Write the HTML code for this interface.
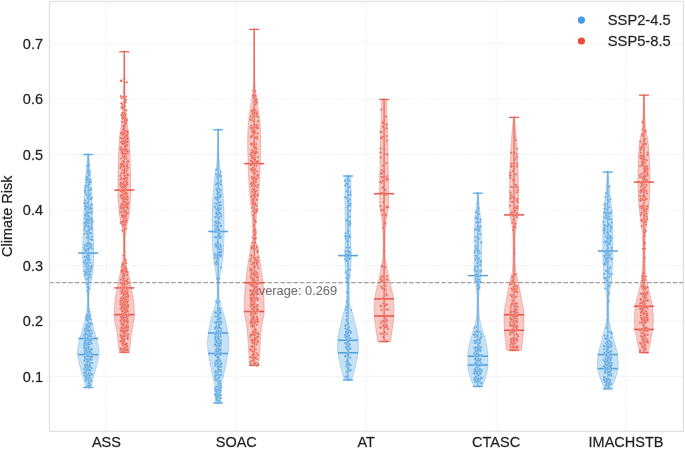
<!DOCTYPE html>
<html><head><meta charset="utf-8"><title>Climate Risk</title>
<style>html,body{margin:0;padding:0;background:#fff;} body{width:685px;height:449px;overflow:hidden;font-family:"Liberation Sans",sans-serif;} svg{display:block;will-change:transform;filter:blur(0.35px);}</style>
</head><body><svg width="685" height="449" viewBox="0 0 685 449" font-family="Liberation Sans, sans-serif"><g stroke="#e6e6e6" stroke-width="0.9" stroke-dasharray="1 1.45"><line x1="49.5" y1="376.50" x2="683.5" y2="376.50"/><line x1="49.5" y1="321.00" x2="683.5" y2="321.00"/><line x1="49.5" y1="265.50" x2="683.5" y2="265.50"/><line x1="49.5" y1="210.00" x2="683.5" y2="210.00"/><line x1="49.5" y1="154.50" x2="683.5" y2="154.50"/><line x1="49.5" y1="99.00" x2="683.5" y2="99.00"/><line x1="49.5" y1="43.50" x2="683.5" y2="43.50"/><line x1="106.40" y1="1.5" x2="106.40" y2="431.3"/><line x1="236.30" y1="1.5" x2="236.30" y2="431.3"/><line x1="366.20" y1="1.5" x2="366.20" y2="431.3"/><line x1="496.10" y1="1.5" x2="496.10" y2="431.3"/><line x1="626.00" y1="1.5" x2="626.00" y2="431.3"/></g><line x1="49.5" y1="282.6" x2="683.5" y2="282.6" stroke="#a0a0a0" stroke-width="1.3" stroke-dasharray="4.6 1.83" stroke-dashoffset="0.5"/><text x="250.5" y="294.5" font-size="12.8" fill="#737373" stroke="#737373" stroke-width="0.2" stroke-opacity="0.6">Average: 0.269</text><polygon points="88.70,154.50 88.84,155.97 88.99,157.43 89.13,158.90 89.27,160.36 89.41,161.83 89.54,163.29 89.68,164.76 89.81,166.22 89.95,167.69 90.09,169.15 90.23,170.62 90.36,172.08 90.49,173.55 90.62,175.02 90.74,176.48 90.86,177.95 90.96,179.41 91.06,180.88 91.15,182.34 91.23,183.81 91.31,185.27 91.39,186.74 91.47,188.20 91.54,189.67 91.61,191.14 91.68,192.60 91.75,194.07 91.81,195.53 91.87,197.00 91.94,198.46 92.00,199.93 92.06,201.39 92.11,202.86 92.17,204.32 92.22,205.79 92.27,207.25 92.32,208.72 92.37,210.19 92.41,211.65 92.46,213.12 92.51,214.58 92.56,216.05 92.61,217.51 92.66,218.98 92.72,220.44 92.77,221.91 92.83,223.37 92.89,224.84 92.95,226.31 93.01,227.77 93.08,229.24 93.14,230.70 93.20,232.17 93.26,233.63 93.32,235.10 93.37,236.56 93.43,238.03 93.48,239.49 93.53,240.96 93.59,242.42 93.65,243.89 93.71,245.36 93.77,246.82 93.82,248.29 93.86,249.75 93.89,251.22 93.90,252.68 93.89,254.15 93.87,255.61 93.82,257.08 93.76,258.54 93.69,260.01 93.61,261.47 93.53,262.94 93.44,264.41 93.34,265.87 93.21,267.34 93.05,268.80 92.87,270.27 92.67,271.73 92.46,273.20 92.25,274.66 92.02,276.13 91.76,277.59 91.48,279.06 91.18,280.53 90.89,281.99 90.61,283.46 90.31,284.92 89.99,286.39 89.70,287.85 89.48,289.32 89.33,290.78 89.20,292.25 89.08,293.71 88.97,295.18 88.89,296.64 88.83,298.11 88.80,299.58 88.81,301.04 88.85,302.51 88.92,303.97 89.02,305.44 89.13,306.90 89.26,308.37 89.39,309.83 89.54,311.30 89.74,312.76 89.97,314.23 90.24,315.69 90.53,317.16 90.83,318.63 91.19,320.09 91.59,321.56 92.03,323.02 92.47,324.49 92.90,325.95 93.32,327.42 93.73,328.88 94.15,330.35 94.56,331.81 94.98,333.28 95.38,334.75 95.76,336.21 96.12,337.68 96.48,339.14 96.86,340.61 97.25,342.07 97.64,343.54 98.01,345.00 98.34,346.47 98.62,347.93 98.84,349.40 98.97,350.86 99.00,352.33 98.94,353.80 98.80,355.26 98.60,356.73 98.34,358.19 98.04,359.66 97.70,361.12 97.34,362.59 96.97,364.05 96.60,365.52 96.24,366.98 95.89,368.45 95.52,369.92 95.10,371.38 94.66,372.85 94.20,374.31 93.73,375.78 93.27,377.24 92.83,378.71 92.42,380.17 92.04,381.64 91.68,383.10 91.34,384.57 91.01,386.03 90.70,387.50 85.70,387.50 85.39,386.03 85.06,384.57 84.72,383.10 84.36,381.64 83.98,380.17 83.57,378.71 83.13,377.24 82.67,375.78 82.20,374.31 81.74,372.85 81.30,371.38 80.88,369.92 80.51,368.45 80.16,366.98 79.80,365.52 79.43,364.05 79.06,362.59 78.70,361.12 78.36,359.66 78.06,358.19 77.80,356.73 77.60,355.26 77.46,353.80 77.40,352.33 77.43,350.86 77.56,349.40 77.78,347.93 78.06,346.47 78.39,345.00 78.76,343.54 79.15,342.07 79.54,340.61 79.92,339.14 80.28,337.68 80.64,336.21 81.02,334.75 81.42,333.28 81.84,331.81 82.25,330.35 82.67,328.88 83.08,327.42 83.50,325.95 83.93,324.49 84.37,323.02 84.81,321.56 85.21,320.09 85.57,318.63 85.87,317.16 86.16,315.69 86.43,314.23 86.66,312.76 86.86,311.30 87.01,309.83 87.14,308.37 87.27,306.90 87.38,305.44 87.48,303.97 87.55,302.51 87.59,301.04 87.60,299.58 87.57,298.11 87.51,296.64 87.43,295.18 87.32,293.71 87.20,292.25 87.07,290.78 86.92,289.32 86.70,287.85 86.41,286.39 86.09,284.92 85.79,283.46 85.51,281.99 85.22,280.53 84.92,279.06 84.64,277.59 84.38,276.13 84.15,274.66 83.94,273.20 83.73,271.73 83.53,270.27 83.35,268.80 83.19,267.34 83.06,265.87 82.96,264.41 82.87,262.94 82.79,261.47 82.71,260.01 82.64,258.54 82.58,257.08 82.53,255.61 82.51,254.15 82.50,252.68 82.51,251.22 82.54,249.75 82.58,248.29 82.63,246.82 82.69,245.36 82.75,243.89 82.81,242.42 82.87,240.96 82.92,239.49 82.97,238.03 83.03,236.56 83.08,235.10 83.14,233.63 83.20,232.17 83.26,230.70 83.32,229.24 83.39,227.77 83.45,226.31 83.51,224.84 83.57,223.37 83.63,221.91 83.68,220.44 83.74,218.98 83.79,217.51 83.84,216.05 83.89,214.58 83.94,213.12 83.99,211.65 84.03,210.19 84.08,208.72 84.13,207.25 84.18,205.79 84.23,204.32 84.29,202.86 84.34,201.39 84.40,199.93 84.46,198.46 84.53,197.00 84.59,195.53 84.65,194.07 84.72,192.60 84.79,191.14 84.86,189.67 84.93,188.20 85.01,186.74 85.09,185.27 85.17,183.81 85.25,182.34 85.34,180.88 85.44,179.41 85.54,177.95 85.66,176.48 85.78,175.02 85.91,173.55 86.04,172.08 86.17,170.62 86.31,169.15 86.45,167.69 86.59,166.22 86.72,164.76 86.86,163.29 86.99,161.83 87.13,160.36 87.27,158.90 87.41,157.43 87.56,155.97 87.70,154.50" fill="#469cde" fill-opacity="0.3" stroke="#469cde" stroke-opacity="0.55" stroke-width="0.6"/><polygon points="124.60,51.70 124.60,53.59 124.60,55.48 124.61,57.37 124.61,59.26 124.62,61.15 124.63,63.04 124.64,64.93 124.65,66.82 124.66,68.72 124.68,70.61 124.69,72.50 124.71,74.39 124.73,76.28 124.75,78.17 124.77,80.06 124.80,81.95 124.82,83.84 124.85,85.73 124.88,87.62 124.91,89.51 124.94,91.40 124.97,93.29 125.01,95.18 125.04,97.07 125.08,98.96 125.12,100.85 125.20,102.75 125.31,104.64 125.45,106.53 125.61,108.42 125.79,110.31 125.98,112.20 126.18,114.09 126.39,115.98 126.59,117.87 126.78,119.76 126.97,121.65 127.19,123.54 127.42,125.43 127.66,127.32 127.91,129.21 128.16,131.10 128.40,132.99 128.63,134.88 128.84,136.78 129.04,138.67 129.20,140.56 129.33,142.45 129.44,144.34 129.55,146.23 129.65,148.12 129.75,150.01 129.84,151.90 129.93,153.79 130.00,155.68 130.08,157.57 130.14,159.46 130.20,161.35 130.26,163.24 130.30,165.13 130.35,167.02 130.39,168.92 130.44,170.81 130.48,172.70 130.52,174.59 130.55,176.48 130.59,178.37 130.62,180.26 130.65,182.15 130.67,184.04 130.68,185.93 130.70,187.82 130.70,189.71 130.69,191.60 130.66,193.49 130.60,195.38 130.52,197.27 130.42,199.16 130.30,201.05 130.17,202.95 130.03,204.84 129.87,206.73 129.71,208.62 129.53,210.51 129.36,212.40 129.15,214.29 128.87,216.18 128.51,218.07 128.11,219.96 127.69,221.85 127.27,223.74 126.87,225.63 126.53,227.52 126.24,229.41 125.97,231.30 125.69,233.19 125.44,235.08 125.24,236.98 125.12,238.87 125.10,240.76 125.11,242.65 125.13,244.54 125.16,246.43 125.19,248.32 125.23,250.21 125.28,252.10 125.33,253.99 125.44,255.88 125.59,257.77 125.78,259.66 126.01,261.55 126.26,263.44 126.54,265.33 126.84,267.22 127.26,269.12 127.78,271.01 128.28,272.90 128.69,274.79 129.07,276.68 129.44,278.57 129.80,280.46 130.17,282.35 130.55,284.24 130.93,286.13 131.30,288.02 131.68,289.91 132.07,291.80 132.45,293.69 132.80,295.58 133.10,297.47 133.34,299.36 133.56,301.25 133.77,303.15 133.97,305.04 134.15,306.93 134.30,308.82 134.42,310.71 134.48,312.60 134.50,314.49 134.41,316.38 134.23,318.27 133.96,320.16 133.64,322.05 133.28,323.94 132.90,325.83 132.52,327.72 132.15,329.61 131.82,331.50 131.55,333.39 131.31,335.28 131.10,337.18 130.89,339.07 130.69,340.96 130.47,342.85 130.23,344.74 129.96,346.63 129.63,348.52 129.23,350.41 128.80,352.30 119.80,352.30 119.37,350.41 118.97,348.52 118.64,346.63 118.37,344.74 118.13,342.85 117.91,340.96 117.71,339.07 117.50,337.18 117.29,335.28 117.05,333.39 116.78,331.50 116.45,329.61 116.08,327.72 115.70,325.83 115.32,323.94 114.96,322.05 114.64,320.16 114.37,318.27 114.19,316.38 114.10,314.49 114.12,312.60 114.18,310.71 114.30,308.82 114.45,306.93 114.63,305.04 114.83,303.15 115.04,301.25 115.26,299.36 115.50,297.47 115.80,295.58 116.15,293.69 116.53,291.80 116.92,289.91 117.30,288.02 117.67,286.13 118.05,284.24 118.43,282.35 118.80,280.46 119.16,278.57 119.53,276.68 119.91,274.79 120.32,272.90 120.82,271.01 121.34,269.12 121.76,267.22 122.06,265.33 122.34,263.44 122.59,261.55 122.82,259.66 123.01,257.77 123.16,255.88 123.27,253.99 123.32,252.10 123.37,250.21 123.41,248.32 123.44,246.43 123.47,244.54 123.49,242.65 123.50,240.76 123.48,238.87 123.36,236.98 123.16,235.08 122.91,233.19 122.63,231.30 122.36,229.41 122.07,227.52 121.73,225.63 121.33,223.74 120.91,221.85 120.49,219.96 120.09,218.07 119.73,216.18 119.45,214.29 119.24,212.40 119.07,210.51 118.89,208.62 118.73,206.73 118.57,204.84 118.43,202.95 118.30,201.05 118.18,199.16 118.08,197.27 118.00,195.38 117.94,193.49 117.91,191.60 117.90,189.71 117.90,187.82 117.92,185.93 117.93,184.04 117.95,182.15 117.98,180.26 118.01,178.37 118.05,176.48 118.08,174.59 118.12,172.70 118.16,170.81 118.21,168.92 118.25,167.02 118.30,165.13 118.34,163.24 118.40,161.35 118.46,159.46 118.52,157.57 118.60,155.68 118.67,153.79 118.76,151.90 118.85,150.01 118.95,148.12 119.05,146.23 119.16,144.34 119.27,142.45 119.40,140.56 119.56,138.67 119.76,136.78 119.97,134.88 120.20,132.99 120.44,131.10 120.69,129.21 120.94,127.32 121.18,125.43 121.41,123.54 121.63,121.65 121.82,119.76 122.01,117.87 122.21,115.98 122.42,114.09 122.62,112.20 122.81,110.31 122.99,108.42 123.15,106.53 123.29,104.64 123.40,102.75 123.48,100.85 123.52,98.96 123.56,97.07 123.59,95.18 123.63,93.29 123.66,91.40 123.69,89.51 123.72,87.62 123.75,85.73 123.78,83.84 123.80,81.95 123.83,80.06 123.85,78.17 123.87,76.28 123.89,74.39 123.91,72.50 123.92,70.61 123.94,68.72 123.95,66.82 123.96,64.93 123.97,63.04 123.98,61.15 123.99,59.26 123.99,57.37 124.00,55.48 124.00,53.59 124.00,51.70" fill="#e74c3c" fill-opacity="0.3" stroke="#e74c3c" stroke-opacity="0.55" stroke-width="0.6"/><polygon points="218.40,129.80 218.40,131.52 218.41,133.24 218.42,134.95 218.44,136.67 218.46,138.39 218.49,140.11 218.52,141.83 218.56,143.55 218.60,145.26 218.64,146.98 218.69,148.70 218.74,150.42 218.80,152.14 218.86,153.86 218.92,155.57 218.99,157.29 219.06,159.01 219.14,160.73 219.28,162.45 219.47,164.16 219.71,165.88 219.97,167.60 220.25,169.32 220.53,171.04 220.80,172.76 221.04,174.47 221.24,176.19 221.45,177.91 221.65,179.63 221.84,181.35 222.03,183.07 222.20,184.78 222.36,186.50 222.50,188.22 222.65,189.94 222.80,191.66 222.94,193.37 223.08,195.09 223.21,196.81 223.34,198.53 223.45,200.25 223.56,201.97 223.65,203.68 223.72,205.40 223.78,207.12 223.82,208.84 223.85,210.56 223.89,212.28 223.92,213.99 223.95,215.71 223.98,217.43 224.01,219.15 224.03,220.87 224.05,222.58 224.07,224.30 224.08,226.02 224.09,227.74 224.10,229.46 224.10,231.18 224.09,232.89 224.07,234.61 224.04,236.33 223.99,238.05 223.93,239.77 223.87,241.49 223.79,243.20 223.71,244.92 223.62,246.64 223.52,248.36 223.42,250.08 223.31,251.79 223.20,253.51 223.08,255.23 222.94,256.95 222.74,258.67 222.51,260.39 222.25,262.10 221.97,263.82 221.67,265.54 221.36,267.26 221.06,268.98 220.76,270.70 220.48,272.41 220.22,274.13 219.98,275.85 219.72,277.57 219.44,279.29 219.20,281.01 219.01,282.72 218.91,284.44 218.90,286.16 218.91,287.88 218.91,289.60 218.93,291.31 218.94,293.03 218.96,294.75 218.99,296.47 219.10,298.19 219.44,299.91 219.91,301.62 220.39,303.34 220.86,305.06 221.38,306.78 221.93,308.50 222.47,310.22 223.01,311.93 223.56,313.65 224.09,315.37 224.58,317.09 225.02,318.81 225.44,320.52 225.83,322.24 226.20,323.96 226.55,325.68 226.90,327.40 227.22,329.12 227.51,330.83 227.75,332.55 227.95,334.27 228.14,335.99 228.33,337.71 228.49,339.43 228.61,341.14 228.69,342.86 228.70,344.58 228.63,346.30 228.50,348.02 228.32,349.73 228.09,351.45 227.83,353.17 227.55,354.89 227.27,356.61 226.98,358.33 226.72,360.04 226.43,361.76 226.11,363.48 225.76,365.20 225.41,366.92 225.04,368.64 224.67,370.35 224.30,372.07 223.94,373.79 223.57,375.51 223.15,377.23 222.72,378.94 222.30,380.66 221.94,382.38 221.65,384.10 221.49,385.82 221.39,387.54 221.32,389.25 221.26,390.97 221.20,392.69 221.13,394.41 221.04,396.13 220.94,397.85 220.83,399.56 220.72,401.28 220.60,403.00 215.60,403.00 215.48,401.28 215.37,399.56 215.26,397.85 215.16,396.13 215.07,394.41 215.00,392.69 214.94,390.97 214.88,389.25 214.81,387.54 214.71,385.82 214.55,384.10 214.26,382.38 213.90,380.66 213.48,378.94 213.05,377.23 212.63,375.51 212.26,373.79 211.90,372.07 211.53,370.35 211.16,368.64 210.79,366.92 210.44,365.20 210.09,363.48 209.77,361.76 209.48,360.04 209.22,358.33 208.93,356.61 208.65,354.89 208.37,353.17 208.11,351.45 207.88,349.73 207.70,348.02 207.57,346.30 207.50,344.58 207.51,342.86 207.59,341.14 207.71,339.43 207.87,337.71 208.06,335.99 208.25,334.27 208.45,332.55 208.69,330.83 208.98,329.12 209.30,327.40 209.65,325.68 210.00,323.96 210.37,322.24 210.76,320.52 211.18,318.81 211.62,317.09 212.11,315.37 212.64,313.65 213.19,311.93 213.73,310.22 214.27,308.50 214.82,306.78 215.34,305.06 215.81,303.34 216.29,301.62 216.76,299.91 217.10,298.19 217.21,296.47 217.24,294.75 217.26,293.03 217.27,291.31 217.29,289.60 217.29,287.88 217.30,286.16 217.29,284.44 217.19,282.72 217.00,281.01 216.76,279.29 216.48,277.57 216.22,275.85 215.98,274.13 215.72,272.41 215.44,270.70 215.14,268.98 214.84,267.26 214.53,265.54 214.23,263.82 213.95,262.10 213.69,260.39 213.46,258.67 213.26,256.95 213.12,255.23 213.00,253.51 212.89,251.79 212.78,250.08 212.68,248.36 212.58,246.64 212.49,244.92 212.41,243.20 212.33,241.49 212.27,239.77 212.21,238.05 212.16,236.33 212.13,234.61 212.11,232.89 212.10,231.18 212.10,229.46 212.11,227.74 212.12,226.02 212.13,224.30 212.15,222.58 212.17,220.87 212.19,219.15 212.22,217.43 212.25,215.71 212.28,213.99 212.31,212.28 212.35,210.56 212.38,208.84 212.42,207.12 212.48,205.40 212.55,203.68 212.64,201.97 212.75,200.25 212.86,198.53 212.99,196.81 213.12,195.09 213.26,193.37 213.40,191.66 213.55,189.94 213.70,188.22 213.84,186.50 214.00,184.78 214.17,183.07 214.36,181.35 214.55,179.63 214.75,177.91 214.96,176.19 215.16,174.47 215.40,172.76 215.67,171.04 215.95,169.32 216.23,167.60 216.49,165.88 216.73,164.16 216.92,162.45 217.06,160.73 217.14,159.01 217.21,157.29 217.28,155.57 217.34,153.86 217.40,152.14 217.46,150.42 217.51,148.70 217.56,146.98 217.60,145.26 217.64,143.55 217.68,141.83 217.71,140.11 217.74,138.39 217.76,136.67 217.78,134.95 217.79,133.24 217.80,131.52 217.80,129.80" fill="#469cde" fill-opacity="0.3" stroke="#469cde" stroke-opacity="0.55" stroke-width="0.6"/><polygon points="254.50,29.40 254.50,31.51 254.50,33.63 254.50,35.74 254.51,37.86 254.51,39.97 254.51,42.08 254.52,44.20 254.53,46.31 254.54,48.42 254.54,50.54 254.55,52.65 254.56,54.77 254.58,56.88 254.59,58.99 254.61,61.11 254.62,63.22 254.64,65.34 254.66,67.45 254.68,69.56 254.70,71.68 254.72,73.79 254.75,75.90 254.77,78.02 254.80,80.13 254.87,82.25 255.00,84.36 255.16,86.47 255.33,88.59 255.53,90.70 255.77,92.82 256.04,94.93 256.32,97.04 256.62,99.16 256.93,101.27 257.25,103.38 257.56,105.50 257.87,107.61 258.16,109.73 258.47,111.84 258.80,113.95 259.15,116.07 259.47,118.18 259.75,120.29 259.96,122.41 260.09,124.52 260.22,126.64 260.34,128.75 260.44,130.86 260.53,132.98 260.60,135.09 260.66,137.21 260.69,139.32 260.70,141.43 260.69,143.55 260.67,145.66 260.64,147.77 260.59,149.89 260.55,152.00 260.49,154.12 260.43,156.23 260.37,158.34 260.31,160.46 260.24,162.57 260.18,164.69 260.11,166.80 260.04,168.91 259.97,171.03 259.89,173.14 259.80,175.25 259.71,177.37 259.61,179.48 259.50,181.60 259.39,183.71 259.27,185.82 259.14,187.94 258.98,190.05 258.80,192.17 258.60,194.28 258.39,196.39 258.16,198.51 257.93,200.62 257.71,202.73 257.49,204.85 257.29,206.96 257.10,209.08 256.90,211.19 256.68,213.30 256.46,215.42 256.24,217.53 256.05,219.65 255.89,221.76 255.77,223.87 255.71,225.99 255.70,228.10 255.70,230.21 255.70,232.33 255.70,234.44 255.70,236.56 255.70,238.67 255.73,240.78 256.02,242.90 256.55,245.01 257.18,247.13 257.79,249.24 258.27,251.35 258.66,253.47 259.03,255.58 259.39,257.69 259.74,259.81 260.07,261.92 260.39,264.04 260.69,266.15 260.98,268.26 261.25,270.38 261.52,272.49 261.79,274.61 262.06,276.72 262.32,278.83 262.57,280.95 262.81,283.06 263.04,285.17 263.24,287.29 263.42,289.40 263.57,291.52 263.68,293.63 263.78,295.74 263.87,297.86 263.95,299.97 264.03,302.08 264.10,304.20 264.15,306.31 264.18,308.43 264.20,310.54 264.14,312.65 263.89,314.77 263.52,316.88 263.06,319.00 262.58,321.11 262.11,323.22 261.72,325.34 261.45,327.45 261.25,329.56 261.06,331.68 260.88,333.79 260.72,335.91 260.58,338.02 260.43,340.13 260.30,342.25 260.17,344.36 260.04,346.48 259.90,348.59 259.76,350.70 259.61,352.82 259.46,354.93 259.31,357.04 259.16,359.16 259.00,361.27 258.85,363.39 258.70,365.50 249.70,365.50 249.55,363.39 249.40,361.27 249.24,359.16 249.09,357.04 248.94,354.93 248.79,352.82 248.64,350.70 248.50,348.59 248.36,346.48 248.23,344.36 248.10,342.25 247.97,340.13 247.82,338.02 247.68,335.91 247.52,333.79 247.34,331.68 247.15,329.56 246.95,327.45 246.68,325.34 246.29,323.22 245.82,321.11 245.34,319.00 244.88,316.88 244.51,314.77 244.26,312.65 244.20,310.54 244.22,308.43 244.25,306.31 244.30,304.20 244.37,302.08 244.45,299.97 244.53,297.86 244.62,295.74 244.72,293.63 244.83,291.52 244.98,289.40 245.16,287.29 245.36,285.17 245.59,283.06 245.83,280.95 246.08,278.83 246.34,276.72 246.61,274.61 246.88,272.49 247.15,270.38 247.42,268.26 247.71,266.15 248.01,264.04 248.33,261.92 248.66,259.81 249.01,257.69 249.37,255.58 249.74,253.47 250.13,251.35 250.61,249.24 251.22,247.13 251.85,245.01 252.38,242.90 252.67,240.78 252.70,238.67 252.70,236.56 252.70,234.44 252.70,232.33 252.70,230.21 252.70,228.10 252.69,225.99 252.63,223.87 252.51,221.76 252.35,219.65 252.16,217.53 251.94,215.42 251.72,213.30 251.50,211.19 251.30,209.08 251.11,206.96 250.91,204.85 250.69,202.73 250.47,200.62 250.24,198.51 250.01,196.39 249.80,194.28 249.60,192.17 249.42,190.05 249.26,187.94 249.13,185.82 249.01,183.71 248.90,181.60 248.79,179.48 248.69,177.37 248.60,175.25 248.51,173.14 248.43,171.03 248.36,168.91 248.29,166.80 248.22,164.69 248.16,162.57 248.09,160.46 248.03,158.34 247.97,156.23 247.91,154.12 247.85,152.00 247.81,149.89 247.76,147.77 247.73,145.66 247.71,143.55 247.70,141.43 247.71,139.32 247.74,137.21 247.80,135.09 247.87,132.98 247.96,130.86 248.06,128.75 248.18,126.64 248.31,124.52 248.44,122.41 248.65,120.29 248.93,118.18 249.25,116.07 249.60,113.95 249.93,111.84 250.24,109.73 250.53,107.61 250.84,105.50 251.15,103.38 251.47,101.27 251.78,99.16 252.08,97.04 252.36,94.93 252.63,92.82 252.87,90.70 253.07,88.59 253.24,86.47 253.40,84.36 253.53,82.25 253.60,80.13 253.63,78.02 253.65,75.90 253.68,73.79 253.70,71.68 253.72,69.56 253.74,67.45 253.76,65.34 253.78,63.22 253.79,61.11 253.81,58.99 253.82,56.88 253.84,54.77 253.85,52.65 253.86,50.54 253.86,48.42 253.87,46.31 253.88,44.20 253.89,42.08 253.89,39.97 253.89,37.86 253.90,35.74 253.90,33.63 253.90,31.51 253.90,29.40" fill="#e74c3c" fill-opacity="0.3" stroke="#e74c3c" stroke-opacity="0.55" stroke-width="0.6"/><polygon points="350.80,176.00 350.82,177.28 350.84,178.57 350.86,179.85 350.88,181.13 350.90,182.42 350.91,183.70 350.93,184.98 350.94,186.26 350.95,187.55 350.96,188.83 350.97,190.11 350.98,191.40 350.98,192.68 350.99,193.96 350.99,195.25 351.00,196.53 351.00,197.81 351.00,199.09 351.00,200.38 351.00,201.66 350.99,202.94 350.98,204.23 350.96,205.51 350.95,206.79 350.93,208.08 350.91,209.36 350.88,210.64 350.86,211.92 350.84,213.21 350.81,214.49 350.78,215.77 350.76,217.06 350.73,218.34 350.71,219.62 350.69,220.91 350.67,222.19 350.65,223.47 350.63,224.75 350.62,226.04 350.61,227.32 350.60,228.60 350.60,229.89 350.60,231.17 350.62,232.45 350.64,233.74 350.66,235.02 350.70,236.30 350.73,237.58 350.77,238.87 350.82,240.15 350.86,241.43 350.91,242.72 350.95,244.00 351.00,245.28 351.04,246.57 351.08,247.85 351.12,249.13 351.15,250.42 351.17,251.70 351.19,252.98 351.20,254.26 351.20,255.55 351.18,256.83 351.15,258.11 351.11,259.40 351.06,260.68 350.99,261.96 350.92,263.25 350.85,264.53 350.77,265.81 350.68,267.09 350.60,268.38 350.52,269.66 350.43,270.94 350.32,272.23 350.19,273.51 350.05,274.79 349.90,276.08 349.75,277.36 349.61,278.64 349.48,279.92 349.36,281.21 349.28,282.49 349.22,283.77 349.20,285.06 349.20,286.34 349.21,287.62 349.21,288.91 349.22,290.19 349.23,291.47 349.25,292.75 349.27,294.04 349.29,295.32 349.32,296.60 349.35,297.89 349.38,299.17 349.42,300.45 349.46,301.74 349.50,303.02 349.66,304.30 349.99,305.58 350.42,306.87 350.89,308.15 351.33,309.43 351.70,310.72 352.04,312.00 352.39,313.28 352.73,314.57 353.07,315.85 353.41,317.13 353.74,318.42 354.06,319.70 354.39,320.98 354.70,322.26 355.01,323.55 355.33,324.83 355.67,326.11 356.02,327.40 356.37,328.68 356.71,329.96 357.03,331.25 357.32,332.53 357.58,333.81 357.79,335.09 357.95,336.38 358.05,337.66 358.14,338.94 358.22,340.23 358.30,341.51 358.37,342.79 358.42,344.08 358.46,345.36 358.49,346.64 358.50,347.92 358.47,349.21 358.40,350.49 358.27,351.77 358.10,353.06 357.90,354.34 357.67,355.62 357.42,356.91 357.16,358.19 356.88,359.47 356.60,360.75 356.32,362.04 356.06,363.32 355.79,364.60 355.51,365.89 355.21,367.17 354.90,368.45 354.57,369.74 354.23,371.02 353.87,372.30 353.51,373.58 353.13,374.87 352.75,376.15 352.37,377.43 351.94,378.72 351.50,380.00 344.50,380.00 344.06,378.72 343.63,377.43 343.25,376.15 342.87,374.87 342.49,373.58 342.13,372.30 341.77,371.02 341.43,369.74 341.10,368.45 340.79,367.17 340.49,365.89 340.21,364.60 339.94,363.32 339.68,362.04 339.40,360.75 339.12,359.47 338.84,358.19 338.58,356.91 338.33,355.62 338.10,354.34 337.90,353.06 337.73,351.77 337.60,350.49 337.53,349.21 337.50,347.92 337.51,346.64 337.54,345.36 337.58,344.08 337.63,342.79 337.70,341.51 337.78,340.23 337.86,338.94 337.95,337.66 338.05,336.38 338.21,335.09 338.42,333.81 338.68,332.53 338.97,331.25 339.29,329.96 339.63,328.68 339.98,327.40 340.33,326.11 340.67,324.83 340.99,323.55 341.30,322.26 341.61,320.98 341.94,319.70 342.26,318.42 342.59,317.13 342.93,315.85 343.27,314.57 343.61,313.28 343.96,312.00 344.30,310.72 344.67,309.43 345.11,308.15 345.58,306.87 346.01,305.58 346.34,304.30 346.50,303.02 346.54,301.74 346.58,300.45 346.62,299.17 346.65,297.89 346.68,296.60 346.71,295.32 346.73,294.04 346.75,292.75 346.77,291.47 346.78,290.19 346.79,288.91 346.79,287.62 346.80,286.34 346.80,285.06 346.78,283.77 346.72,282.49 346.64,281.21 346.52,279.92 346.39,278.64 346.25,277.36 346.10,276.08 345.95,274.79 345.81,273.51 345.68,272.23 345.57,270.94 345.48,269.66 345.40,268.38 345.32,267.09 345.23,265.81 345.15,264.53 345.08,263.25 345.01,261.96 344.94,260.68 344.89,259.40 344.85,258.11 344.82,256.83 344.80,255.55 344.80,254.26 344.81,252.98 344.83,251.70 344.85,250.42 344.88,249.13 344.92,247.85 344.96,246.57 345.00,245.28 345.05,244.00 345.09,242.72 345.14,241.43 345.18,240.15 345.23,238.87 345.27,237.58 345.30,236.30 345.34,235.02 345.36,233.74 345.38,232.45 345.40,231.17 345.40,229.89 345.40,228.60 345.39,227.32 345.38,226.04 345.37,224.75 345.35,223.47 345.33,222.19 345.31,220.91 345.29,219.62 345.27,218.34 345.24,217.06 345.22,215.77 345.19,214.49 345.16,213.21 345.14,211.92 345.12,210.64 345.09,209.36 345.07,208.08 345.05,206.79 345.04,205.51 345.02,204.23 345.01,202.94 345.00,201.66 345.00,200.38 345.00,199.09 345.00,197.81 345.00,196.53 345.01,195.25 345.01,193.96 345.02,192.68 345.02,191.40 345.03,190.11 345.04,188.83 345.05,187.55 345.06,186.26 345.07,184.98 345.09,183.70 345.10,182.42 345.12,181.13 345.14,179.85 345.16,178.57 345.18,177.28 345.20,176.00" fill="#469cde" fill-opacity="0.3" stroke="#469cde" stroke-opacity="0.55" stroke-width="0.6"/><polygon points="386.50,99.50 386.54,101.02 386.58,102.55 386.62,104.07 386.66,105.59 386.70,107.11 386.75,108.64 386.80,110.16 386.85,111.68 386.91,113.20 386.96,114.73 387.02,116.25 387.08,117.77 387.14,119.29 387.20,120.82 387.26,122.34 387.31,123.86 387.37,125.38 387.42,126.91 387.47,128.43 387.52,129.95 387.56,131.48 387.60,133.00 387.64,134.52 387.67,136.04 387.70,137.57 387.73,139.09 387.76,140.61 387.79,142.13 387.82,143.66 387.85,145.18 387.87,146.70 387.90,148.22 387.92,149.75 387.95,151.27 387.97,152.79 388.00,154.32 388.03,155.84 388.05,157.36 388.08,158.88 388.11,160.41 388.14,161.93 388.17,163.45 388.21,164.97 388.24,166.50 388.28,168.02 388.32,169.54 388.35,171.06 388.39,172.59 388.43,174.11 388.46,175.63 388.49,177.15 388.52,178.68 388.54,180.20 388.57,181.72 388.58,183.25 388.59,184.77 388.60,186.29 388.60,187.81 388.60,189.34 388.60,190.86 388.60,192.38 388.60,193.90 388.60,195.43 388.60,196.95 388.60,198.47 388.60,199.99 388.57,201.52 388.50,203.04 388.39,204.56 388.24,206.08 388.07,207.61 387.87,209.13 387.67,210.65 387.47,212.18 387.26,213.70 387.07,215.22 386.85,216.74 386.59,218.27 386.31,219.79 386.04,221.31 385.81,222.83 385.65,224.36 385.55,225.88 385.47,227.40 385.39,228.92 385.32,230.45 385.26,231.97 385.21,233.49 385.17,235.02 385.13,236.54 385.11,238.06 385.10,239.58 385.10,241.11 385.10,242.63 385.10,244.15 385.10,245.67 385.10,247.20 385.10,248.72 385.10,250.24 385.10,251.76 385.10,253.29 385.10,254.81 385.15,256.33 385.30,257.85 385.54,259.38 385.82,260.90 386.12,262.42 386.42,263.95 386.68,265.47 386.93,266.99 387.18,268.51 387.44,270.04 387.71,271.56 387.98,273.08 388.26,274.60 388.55,276.13 388.84,277.65 389.13,279.17 389.46,280.69 389.81,282.22 390.19,283.74 390.58,285.26 390.98,286.78 391.37,288.31 391.75,289.83 392.11,291.35 392.44,292.88 392.72,294.40 392.96,295.92 393.15,297.44 393.32,298.97 393.49,300.49 393.64,302.01 393.78,303.53 393.91,305.06 394.00,306.58 394.07,308.10 394.10,309.62 394.09,311.15 394.04,312.67 393.96,314.19 393.85,315.72 393.72,317.24 393.58,318.76 393.43,320.28 393.27,321.81 393.12,323.33 392.95,324.85 392.75,326.37 392.52,327.90 392.28,329.42 392.02,330.94 391.77,332.46 391.53,333.99 391.30,335.51 391.10,337.03 390.92,338.55 390.75,340.08 390.60,341.60 377.60,341.60 377.45,340.08 377.28,338.55 377.10,337.03 376.90,335.51 376.67,333.99 376.43,332.46 376.18,330.94 375.92,329.42 375.68,327.90 375.45,326.37 375.25,324.85 375.08,323.33 374.93,321.81 374.77,320.28 374.62,318.76 374.48,317.24 374.35,315.72 374.24,314.19 374.16,312.67 374.11,311.15 374.10,309.62 374.13,308.10 374.20,306.58 374.29,305.06 374.42,303.53 374.56,302.01 374.71,300.49 374.88,298.97 375.05,297.44 375.24,295.92 375.48,294.40 375.76,292.88 376.09,291.35 376.45,289.83 376.83,288.31 377.22,286.78 377.62,285.26 378.01,283.74 378.39,282.22 378.74,280.69 379.07,279.17 379.36,277.65 379.65,276.13 379.94,274.60 380.22,273.08 380.49,271.56 380.76,270.04 381.02,268.51 381.27,266.99 381.52,265.47 381.78,263.95 382.08,262.42 382.38,260.90 382.66,259.38 382.90,257.85 383.05,256.33 383.10,254.81 383.10,253.29 383.10,251.76 383.10,250.24 383.10,248.72 383.10,247.20 383.10,245.67 383.10,244.15 383.10,242.63 383.10,241.11 383.10,239.58 383.09,238.06 383.07,236.54 383.03,235.02 382.99,233.49 382.94,231.97 382.88,230.45 382.81,228.92 382.73,227.40 382.65,225.88 382.55,224.36 382.39,222.83 382.16,221.31 381.89,219.79 381.61,218.27 381.35,216.74 381.13,215.22 380.94,213.70 380.73,212.18 380.53,210.65 380.33,209.13 380.13,207.61 379.96,206.08 379.81,204.56 379.70,203.04 379.63,201.52 379.60,199.99 379.60,198.47 379.60,196.95 379.60,195.43 379.60,193.90 379.60,192.38 379.60,190.86 379.60,189.34 379.60,187.81 379.60,186.29 379.61,184.77 379.62,183.25 379.63,181.72 379.66,180.20 379.68,178.68 379.71,177.15 379.74,175.63 379.77,174.11 379.81,172.59 379.85,171.06 379.88,169.54 379.92,168.02 379.96,166.50 379.99,164.97 380.03,163.45 380.06,161.93 380.09,160.41 380.12,158.88 380.15,157.36 380.17,155.84 380.20,154.32 380.23,152.79 380.25,151.27 380.28,149.75 380.30,148.22 380.33,146.70 380.35,145.18 380.38,143.66 380.41,142.13 380.44,140.61 380.47,139.09 380.50,137.57 380.53,136.04 380.56,134.52 380.60,133.00 380.64,131.48 380.68,129.95 380.73,128.43 380.78,126.91 380.83,125.38 380.89,123.86 380.94,122.34 381.00,120.82 381.06,119.29 381.12,117.77 381.18,116.25 381.24,114.73 381.29,113.20 381.35,111.68 381.40,110.16 381.45,108.64 381.50,107.11 381.54,105.59 381.58,104.07 381.62,102.55 381.66,101.02 381.70,99.50" fill="#e74c3c" fill-opacity="0.3" stroke="#e74c3c" stroke-opacity="0.55" stroke-width="0.6"/><polygon points="478.40,193.20 478.45,194.42 478.51,195.63 478.57,196.85 478.63,198.06 478.71,199.28 478.78,200.49 478.86,201.71 478.95,202.92 479.04,204.14 479.13,205.35 479.24,206.57 479.36,207.78 479.50,209.00 479.65,210.21 479.81,211.43 479.96,212.64 480.12,213.86 480.26,215.07 480.40,216.29 480.52,217.50 480.62,218.72 480.70,219.93 480.76,221.15 480.82,222.36 480.88,223.58 480.94,224.79 481.00,226.01 481.05,227.22 481.10,228.44 481.15,229.65 481.20,230.87 481.25,232.08 481.29,233.30 481.33,234.51 481.36,235.73 481.39,236.94 481.42,238.16 481.45,239.37 481.47,240.59 481.48,241.80 481.49,243.02 481.50,244.23 481.50,245.45 481.50,246.66 481.50,247.88 481.50,249.09 481.50,250.31 481.50,251.52 481.50,252.74 481.50,253.95 481.50,255.17 481.50,256.38 481.50,257.60 481.50,258.82 481.50,260.03 481.50,261.25 481.50,262.46 481.50,263.68 481.50,264.89 481.49,266.11 481.47,267.32 481.44,268.54 481.40,269.75 481.34,270.97 481.27,272.18 481.20,273.40 481.12,274.61 481.03,275.83 480.94,277.04 480.84,278.26 480.74,279.47 480.63,280.69 480.46,281.90 480.25,283.12 480.01,284.33 479.77,285.55 479.53,286.76 479.33,287.98 479.17,289.19 479.07,290.41 479.00,291.62 478.93,292.84 478.86,294.05 478.81,295.27 478.76,296.48 478.73,297.70 478.71,298.91 478.70,300.13 478.70,301.34 478.71,302.56 478.73,303.77 478.75,304.99 478.77,306.20 478.80,307.42 478.84,308.63 478.88,309.85 478.92,311.06 478.97,312.28 479.03,313.49 479.09,314.71 479.17,315.92 479.33,317.14 479.54,318.35 479.78,319.57 480.04,320.78 480.30,322.00 480.57,323.22 480.87,324.43 481.19,325.65 481.52,326.86 481.87,328.08 482.22,329.29 482.56,330.51 482.90,331.72 483.26,332.94 483.64,334.15 484.03,335.37 484.42,336.58 484.81,337.80 485.18,339.01 485.53,340.23 485.85,341.44 486.14,342.66 486.38,343.87 486.59,345.09 486.80,346.30 487.01,347.52 487.22,348.73 487.40,349.95 487.57,351.16 487.70,352.38 487.81,353.59 487.88,354.81 487.90,356.02 487.90,357.24 487.90,358.45 487.90,359.67 487.90,360.88 487.90,362.10 487.90,363.31 487.90,364.53 487.90,365.74 487.87,366.96 487.75,368.17 487.57,369.39 487.32,370.60 487.03,371.82 486.71,373.03 486.38,374.25 486.04,375.46 485.72,376.68 485.35,377.89 484.95,379.11 484.52,380.32 484.05,381.54 483.55,382.75 483.02,383.97 482.47,385.18 481.90,386.40 473.90,386.40 473.33,385.18 472.78,383.97 472.25,382.75 471.75,381.54 471.28,380.32 470.85,379.11 470.45,377.89 470.08,376.68 469.76,375.46 469.42,374.25 469.09,373.03 468.77,371.82 468.48,370.60 468.23,369.39 468.05,368.17 467.93,366.96 467.90,365.74 467.90,364.53 467.90,363.31 467.90,362.10 467.90,360.88 467.90,359.67 467.90,358.45 467.90,357.24 467.90,356.02 467.92,354.81 467.99,353.59 468.10,352.38 468.23,351.16 468.40,349.95 468.58,348.73 468.79,347.52 469.00,346.30 469.21,345.09 469.42,343.87 469.66,342.66 469.95,341.44 470.27,340.23 470.62,339.01 470.99,337.80 471.38,336.58 471.77,335.37 472.16,334.15 472.54,332.94 472.90,331.72 473.24,330.51 473.58,329.29 473.93,328.08 474.28,326.86 474.61,325.65 474.93,324.43 475.23,323.22 475.50,322.00 475.76,320.78 476.02,319.57 476.26,318.35 476.47,317.14 476.63,315.92 476.71,314.71 476.77,313.49 476.83,312.28 476.88,311.06 476.92,309.85 476.96,308.63 477.00,307.42 477.03,306.20 477.05,304.99 477.07,303.77 477.09,302.56 477.10,301.34 477.10,300.13 477.09,298.91 477.07,297.70 477.04,296.48 476.99,295.27 476.94,294.05 476.87,292.84 476.80,291.62 476.73,290.41 476.63,289.19 476.47,287.98 476.27,286.76 476.03,285.55 475.79,284.33 475.55,283.12 475.34,281.90 475.17,280.69 475.06,279.47 474.96,278.26 474.86,277.04 474.77,275.83 474.68,274.61 474.60,273.40 474.53,272.18 474.46,270.97 474.40,269.75 474.36,268.54 474.33,267.32 474.31,266.11 474.30,264.89 474.30,263.68 474.30,262.46 474.30,261.25 474.30,260.03 474.30,258.82 474.30,257.60 474.30,256.38 474.30,255.17 474.30,253.95 474.30,252.74 474.30,251.52 474.30,250.31 474.30,249.09 474.30,247.88 474.30,246.66 474.30,245.45 474.30,244.23 474.31,243.02 474.32,241.80 474.33,240.59 474.35,239.37 474.38,238.16 474.41,236.94 474.44,235.73 474.47,234.51 474.51,233.30 474.55,232.08 474.60,230.87 474.65,229.65 474.70,228.44 474.75,227.22 474.80,226.01 474.86,224.79 474.92,223.58 474.98,222.36 475.04,221.15 475.10,219.93 475.18,218.72 475.28,217.50 475.40,216.29 475.54,215.07 475.68,213.86 475.84,212.64 475.99,211.43 476.15,210.21 476.30,209.00 476.44,207.78 476.56,206.57 476.67,205.35 476.76,204.14 476.85,202.92 476.94,201.71 477.02,200.49 477.09,199.28 477.17,198.06 477.23,196.85 477.29,195.63 477.35,194.42 477.40,193.20" fill="#469cde" fill-opacity="0.3" stroke="#469cde" stroke-opacity="0.55" stroke-width="0.6"/><polygon points="514.50,117.40 514.65,118.86 514.80,120.33 514.95,121.79 515.09,123.26 515.23,124.72 515.37,126.19 515.50,127.65 515.64,129.12 515.76,130.58 515.89,132.05 516.01,133.51 516.13,134.98 516.24,136.44 516.35,137.91 516.46,139.37 516.56,140.84 516.66,142.30 516.76,143.77 516.86,145.23 516.96,146.70 517.05,148.16 517.15,149.63 517.24,151.09 517.33,152.55 517.42,154.02 517.50,155.48 517.58,156.95 517.66,158.41 517.73,159.88 517.80,161.34 517.86,162.81 517.91,164.27 517.96,165.74 518.01,167.20 518.05,168.67 518.09,170.13 518.13,171.60 518.17,173.06 518.20,174.53 518.24,175.99 518.28,177.46 518.31,178.92 518.34,180.39 518.37,181.85 518.40,183.32 518.42,184.78 518.44,186.24 518.46,187.71 518.48,189.17 518.49,190.64 518.50,192.10 518.50,193.57 518.50,195.03 518.49,196.50 518.48,197.96 518.47,199.43 518.45,200.89 518.42,202.36 518.39,203.82 518.35,205.29 518.31,206.75 518.27,208.22 518.22,209.68 518.16,211.15 518.11,212.61 518.04,214.08 517.96,215.54 517.76,217.01 517.46,218.47 517.09,219.93 516.70,221.40 516.35,222.86 516.08,224.33 515.92,225.79 515.77,227.26 515.63,228.72 515.49,230.19 515.37,231.65 515.26,233.12 515.17,234.58 515.09,236.05 515.04,237.51 515.01,238.98 515.00,240.44 515.00,241.91 515.00,243.37 515.00,244.84 515.00,246.30 515.00,247.77 515.00,249.23 515.00,250.69 515.00,252.16 515.00,253.62 515.00,255.09 515.00,256.55 515.00,258.02 515.00,259.48 515.01,260.95 515.04,262.41 515.09,263.88 515.17,265.34 515.26,266.81 515.37,268.27 515.48,269.74 515.63,271.20 515.87,272.67 516.19,274.13 516.56,275.60 516.96,277.06 517.37,278.53 517.78,279.99 518.15,281.46 518.48,282.92 518.77,284.38 519.06,285.85 519.33,287.31 519.59,288.78 519.85,290.24 520.11,291.71 520.36,293.17 520.60,294.64 520.85,296.10 521.10,297.57 521.37,299.03 521.66,300.50 521.96,301.96 522.27,303.43 522.58,304.89 522.87,306.36 523.15,307.82 523.40,309.29 523.62,310.75 523.79,312.22 523.92,313.68 523.99,315.15 524.00,316.61 523.99,318.07 523.96,319.54 523.93,321.00 523.88,322.47 523.83,323.93 523.77,325.40 523.70,326.86 523.63,328.33 523.56,329.79 523.49,331.26 523.39,332.72 523.26,334.19 523.11,335.65 522.94,337.12 522.76,338.58 522.58,340.05 522.40,341.51 522.22,342.98 522.06,344.44 521.91,345.91 521.77,347.37 521.63,348.84 521.50,350.30 506.50,350.30 506.37,348.84 506.23,347.37 506.09,345.91 505.94,344.44 505.78,342.98 505.60,341.51 505.42,340.05 505.24,338.58 505.06,337.12 504.89,335.65 504.74,334.19 504.61,332.72 504.51,331.26 504.44,329.79 504.37,328.33 504.30,326.86 504.23,325.40 504.17,323.93 504.12,322.47 504.07,321.00 504.04,319.54 504.01,318.07 504.00,316.61 504.01,315.15 504.08,313.68 504.21,312.22 504.38,310.75 504.60,309.29 504.85,307.82 505.13,306.36 505.42,304.89 505.73,303.43 506.04,301.96 506.34,300.50 506.63,299.03 506.90,297.57 507.15,296.10 507.40,294.64 507.64,293.17 507.89,291.71 508.15,290.24 508.41,288.78 508.67,287.31 508.94,285.85 509.23,284.38 509.52,282.92 509.85,281.46 510.22,279.99 510.63,278.53 511.04,277.06 511.44,275.60 511.81,274.13 512.13,272.67 512.37,271.20 512.52,269.74 512.63,268.27 512.74,266.81 512.83,265.34 512.91,263.88 512.96,262.41 512.99,260.95 513.00,259.48 513.00,258.02 513.00,256.55 513.00,255.09 513.00,253.62 513.00,252.16 513.00,250.69 513.00,249.23 513.00,247.77 513.00,246.30 513.00,244.84 513.00,243.37 513.00,241.91 513.00,240.44 512.99,238.98 512.96,237.51 512.91,236.05 512.83,234.58 512.74,233.12 512.63,231.65 512.51,230.19 512.37,228.72 512.23,227.26 512.08,225.79 511.92,224.33 511.65,222.86 511.30,221.40 510.91,219.93 510.54,218.47 510.24,217.01 510.04,215.54 509.96,214.08 509.89,212.61 509.84,211.15 509.78,209.68 509.73,208.22 509.69,206.75 509.65,205.29 509.61,203.82 509.58,202.36 509.55,200.89 509.53,199.43 509.52,197.96 509.51,196.50 509.50,195.03 509.50,193.57 509.50,192.10 509.51,190.64 509.52,189.17 509.54,187.71 509.56,186.24 509.58,184.78 509.60,183.32 509.63,181.85 509.66,180.39 509.69,178.92 509.72,177.46 509.76,175.99 509.80,174.53 509.83,173.06 509.87,171.60 509.91,170.13 509.95,168.67 509.99,167.20 510.04,165.74 510.09,164.27 510.14,162.81 510.20,161.34 510.27,159.88 510.34,158.41 510.42,156.95 510.50,155.48 510.58,154.02 510.67,152.55 510.76,151.09 510.85,149.63 510.95,148.16 511.04,146.70 511.14,145.23 511.24,143.77 511.34,142.30 511.44,140.84 511.54,139.37 511.65,137.91 511.76,136.44 511.87,134.98 511.99,133.51 512.11,132.05 512.24,130.58 512.36,129.12 512.50,127.65 512.63,126.19 512.77,124.72 512.91,123.26 513.05,121.79 513.20,120.33 513.35,118.86 513.50,117.40" fill="#e74c3c" fill-opacity="0.3" stroke="#e74c3c" stroke-opacity="0.55" stroke-width="0.6"/><polygon points="608.30,172.10 608.38,173.46 608.46,174.83 608.55,176.19 608.65,177.55 608.74,178.91 608.84,180.28 608.95,181.64 609.05,183.00 609.16,184.37 609.28,185.73 609.39,187.09 609.51,188.45 609.63,189.82 609.75,191.18 609.88,192.54 610.01,193.91 610.13,195.27 610.26,196.63 610.40,197.99 610.56,199.36 610.73,200.72 610.91,202.08 611.09,203.45 611.26,204.81 611.43,206.17 611.58,207.54 611.71,208.90 611.82,210.26 611.91,211.62 612.01,212.99 612.10,214.35 612.19,215.71 612.28,217.08 612.37,218.44 612.44,219.80 612.52,221.16 612.59,222.53 612.64,223.89 612.70,225.25 612.74,226.62 612.77,227.98 612.79,229.34 612.80,230.70 612.80,232.07 612.80,233.43 612.80,234.79 612.80,236.16 612.80,237.52 612.80,238.88 612.80,240.24 612.80,241.61 612.80,242.97 612.80,244.33 612.80,245.70 612.80,247.06 612.80,248.42 612.80,249.78 612.80,251.15 612.79,252.51 612.78,253.87 612.75,255.24 612.72,256.60 612.68,257.96 612.63,259.33 612.57,260.69 612.51,262.05 612.45,263.41 612.38,264.78 612.31,266.14 612.24,267.50 612.17,268.87 612.09,270.23 612.02,271.59 611.95,272.95 611.87,274.32 611.79,275.68 611.71,277.04 611.61,278.41 611.51,279.77 611.39,281.13 611.27,282.49 611.13,283.86 610.97,285.22 610.73,286.58 610.41,287.95 610.06,289.31 609.72,290.67 609.44,292.03 609.26,293.40 609.12,294.76 608.99,296.12 608.89,297.49 608.82,298.85 608.80,300.21 608.80,301.57 608.80,302.94 608.80,304.30 608.80,305.66 608.80,307.03 608.80,308.39 608.80,309.75 608.80,311.12 608.80,312.48 608.80,313.84 608.80,315.20 608.80,316.57 608.80,317.93 608.87,319.29 609.06,320.66 609.34,322.02 609.67,323.38 610.01,324.74 610.32,326.11 610.62,327.47 610.94,328.83 611.27,330.20 611.61,331.56 611.96,332.92 612.32,334.28 612.68,335.65 613.03,337.01 613.39,338.37 613.73,339.74 614.08,341.10 614.46,342.46 614.85,343.82 615.24,345.19 615.63,346.55 616.01,347.91 616.37,349.28 616.69,350.64 616.98,352.00 617.21,353.36 617.40,354.73 617.57,356.09 617.75,357.45 617.91,358.82 618.05,360.18 618.16,361.54 618.25,362.91 618.29,364.27 618.29,365.63 618.20,366.99 618.04,368.36 617.80,369.72 617.51,371.08 617.16,372.45 616.77,373.81 616.36,375.17 615.92,376.53 615.48,377.90 615.04,379.26 614.59,380.62 614.09,381.99 613.52,383.35 612.89,384.71 612.23,386.07 611.52,387.44 610.80,388.80 604.80,388.80 604.08,387.44 603.37,386.07 602.71,384.71 602.08,383.35 601.51,381.99 601.01,380.62 600.56,379.26 600.12,377.90 599.68,376.53 599.24,375.17 598.83,373.81 598.44,372.45 598.09,371.08 597.80,369.72 597.56,368.36 597.40,366.99 597.31,365.63 597.31,364.27 597.35,362.91 597.44,361.54 597.55,360.18 597.69,358.82 597.85,357.45 598.03,356.09 598.20,354.73 598.39,353.36 598.62,352.00 598.91,350.64 599.23,349.28 599.59,347.91 599.97,346.55 600.36,345.19 600.75,343.82 601.14,342.46 601.52,341.10 601.87,339.74 602.21,338.37 602.57,337.01 602.92,335.65 603.28,334.28 603.64,332.92 603.99,331.56 604.33,330.20 604.66,328.83 604.98,327.47 605.28,326.11 605.59,324.74 605.93,323.38 606.26,322.02 606.54,320.66 606.73,319.29 606.80,317.93 606.80,316.57 606.80,315.20 606.80,313.84 606.80,312.48 606.80,311.12 606.80,309.75 606.80,308.39 606.80,307.03 606.80,305.66 606.80,304.30 606.80,302.94 606.80,301.57 606.80,300.21 606.78,298.85 606.71,297.49 606.61,296.12 606.48,294.76 606.34,293.40 606.16,292.03 605.88,290.67 605.54,289.31 605.19,287.95 604.87,286.58 604.63,285.22 604.47,283.86 604.33,282.49 604.21,281.13 604.09,279.77 603.99,278.41 603.89,277.04 603.81,275.68 603.73,274.32 603.65,272.95 603.58,271.59 603.51,270.23 603.43,268.87 603.36,267.50 603.29,266.14 603.22,264.78 603.15,263.41 603.09,262.05 603.03,260.69 602.97,259.33 602.92,257.96 602.88,256.60 602.85,255.24 602.82,253.87 602.81,252.51 602.80,251.15 602.80,249.78 602.80,248.42 602.80,247.06 602.80,245.70 602.80,244.33 602.80,242.97 602.80,241.61 602.80,240.24 602.80,238.88 602.80,237.52 602.80,236.16 602.80,234.79 602.80,233.43 602.80,232.07 602.80,230.70 602.81,229.34 602.83,227.98 602.86,226.62 602.90,225.25 602.96,223.89 603.01,222.53 603.08,221.16 603.16,219.80 603.23,218.44 603.32,217.08 603.41,215.71 603.50,214.35 603.59,212.99 603.69,211.62 603.78,210.26 603.89,208.90 604.02,207.54 604.17,206.17 604.34,204.81 604.51,203.45 604.69,202.08 604.87,200.72 605.04,199.36 605.20,197.99 605.34,196.63 605.47,195.27 605.59,193.91 605.72,192.54 605.85,191.18 605.97,189.82 606.09,188.45 606.21,187.09 606.32,185.73 606.44,184.37 606.55,183.00 606.65,181.64 606.76,180.28 606.86,178.91 606.95,177.55 607.05,176.19 607.14,174.83 607.22,173.46 607.30,172.10" fill="#469cde" fill-opacity="0.3" stroke="#469cde" stroke-opacity="0.55" stroke-width="0.6"/><polygon points="644.40,95.20 644.40,96.82 644.41,98.44 644.42,100.06 644.44,101.68 644.46,103.29 644.49,104.91 644.52,106.53 644.56,108.15 644.61,109.77 644.65,111.39 644.70,113.01 644.76,114.63 644.82,116.25 644.89,117.86 644.96,119.48 645.03,121.10 645.11,122.72 645.20,124.34 645.28,125.96 645.38,127.58 645.51,129.20 645.75,130.82 646.07,132.43 646.45,134.05 646.85,135.67 647.23,137.29 647.57,138.91 647.84,140.53 648.03,142.15 648.21,143.77 648.37,145.38 648.53,147.00 648.68,148.62 648.82,150.24 648.94,151.86 649.06,153.48 649.16,155.10 649.25,156.72 649.33,158.34 649.40,159.95 649.46,161.57 649.51,163.19 649.57,164.81 649.62,166.43 649.67,168.05 649.71,169.67 649.76,171.29 649.79,172.91 649.83,174.52 649.85,176.14 649.88,177.76 649.89,179.38 649.90,181.00 649.90,182.62 649.88,184.24 649.85,185.86 649.81,187.48 649.75,189.09 649.69,190.71 649.62,192.33 649.55,193.95 649.47,195.57 649.39,197.19 649.30,198.81 649.20,200.43 649.09,202.05 648.96,203.66 648.82,205.28 648.67,206.90 648.51,208.52 648.34,210.14 648.17,211.76 647.99,213.38 647.81,215.00 647.62,216.62 647.44,218.23 647.25,219.85 647.07,221.47 646.89,223.09 646.69,224.71 646.46,226.33 646.21,227.95 645.97,229.57 645.75,231.18 645.56,232.80 645.43,234.42 645.35,236.04 645.29,237.66 645.22,239.28 645.17,240.90 645.11,242.52 645.06,244.14 645.02,245.75 644.98,247.37 644.95,248.99 644.93,250.61 644.91,252.23 644.90,253.85 644.90,255.47 644.91,257.09 644.94,258.71 644.98,260.32 645.03,261.94 645.09,263.56 645.16,265.18 645.24,266.80 645.32,268.42 645.40,270.04 645.51,271.66 645.67,273.28 645.85,274.89 646.07,276.51 646.32,278.13 646.59,279.75 646.87,281.37 647.16,282.99 647.46,284.61 647.76,286.23 648.06,287.85 648.41,289.46 648.82,291.08 649.25,292.70 649.70,294.32 650.17,295.94 650.62,297.56 651.06,299.18 651.47,300.80 651.83,302.42 652.13,304.03 652.36,305.65 652.54,307.27 652.70,308.89 652.87,310.51 653.01,312.13 653.14,313.75 653.25,315.37 653.34,316.98 653.39,318.60 653.40,320.22 653.37,321.84 653.28,323.46 653.15,325.08 652.99,326.70 652.79,328.32 652.56,329.94 652.30,331.55 652.03,333.17 651.74,334.79 651.44,336.41 651.13,338.03 650.83,339.65 650.53,341.27 650.24,342.89 649.91,344.51 649.55,346.12 649.16,347.74 648.75,349.36 648.33,350.98 647.90,352.60 639.90,352.60 639.47,350.98 639.05,349.36 638.64,347.74 638.25,346.12 637.89,344.51 637.56,342.89 637.27,341.27 636.97,339.65 636.67,338.03 636.36,336.41 636.06,334.79 635.77,333.17 635.50,331.55 635.24,329.94 635.01,328.32 634.81,326.70 634.65,325.08 634.52,323.46 634.43,321.84 634.40,320.22 634.41,318.60 634.46,316.98 634.55,315.37 634.66,313.75 634.79,312.13 634.93,310.51 635.10,308.89 635.26,307.27 635.44,305.65 635.67,304.03 635.97,302.42 636.33,300.80 636.74,299.18 637.18,297.56 637.63,295.94 638.10,294.32 638.55,292.70 638.98,291.08 639.39,289.46 639.74,287.85 640.04,286.23 640.34,284.61 640.64,282.99 640.93,281.37 641.21,279.75 641.48,278.13 641.73,276.51 641.95,274.89 642.13,273.28 642.29,271.66 642.40,270.04 642.48,268.42 642.56,266.80 642.64,265.18 642.71,263.56 642.77,261.94 642.82,260.32 642.86,258.71 642.89,257.09 642.90,255.47 642.90,253.85 642.89,252.23 642.87,250.61 642.85,248.99 642.82,247.37 642.78,245.75 642.74,244.14 642.69,242.52 642.63,240.90 642.58,239.28 642.51,237.66 642.45,236.04 642.37,234.42 642.24,232.80 642.05,231.18 641.83,229.57 641.59,227.95 641.34,226.33 641.11,224.71 640.91,223.09 640.73,221.47 640.55,219.85 640.36,218.23 640.18,216.62 639.99,215.00 639.81,213.38 639.63,211.76 639.46,210.14 639.29,208.52 639.13,206.90 638.98,205.28 638.84,203.66 638.71,202.05 638.60,200.43 638.50,198.81 638.41,197.19 638.33,195.57 638.25,193.95 638.18,192.33 638.11,190.71 638.05,189.09 637.99,187.48 637.95,185.86 637.92,184.24 637.90,182.62 637.90,181.00 637.91,179.38 637.92,177.76 637.95,176.14 637.97,174.52 638.01,172.91 638.04,171.29 638.09,169.67 638.13,168.05 638.18,166.43 638.23,164.81 638.29,163.19 638.34,161.57 638.40,159.95 638.47,158.34 638.55,156.72 638.64,155.10 638.74,153.48 638.86,151.86 638.98,150.24 639.12,148.62 639.27,147.00 639.43,145.38 639.59,143.77 639.77,142.15 639.96,140.53 640.23,138.91 640.57,137.29 640.95,135.67 641.35,134.05 641.73,132.43 642.05,130.82 642.29,129.20 642.42,127.58 642.52,125.96 642.60,124.34 642.69,122.72 642.77,121.10 642.84,119.48 642.91,117.86 642.98,116.25 643.04,114.63 643.10,113.01 643.15,111.39 643.19,109.77 643.24,108.15 643.28,106.53 643.31,104.91 643.34,103.29 643.36,101.68 643.38,100.06 643.39,98.44 643.40,96.82 643.40,95.20" fill="#e74c3c" fill-opacity="0.3" stroke="#e74c3c" stroke-opacity="0.55" stroke-width="0.6"/><line x1="88.20" y1="154.50" x2="88.20" y2="387.50" stroke="#469cde" stroke-width="1.25" stroke-opacity="0.8"/><line x1="83.20" y1="154.50" x2="93.20" y2="154.50" stroke="#469cde" stroke-width="1.3" stroke-opacity="0.9"/><line x1="83.20" y1="387.50" x2="93.20" y2="387.50" stroke="#469cde" stroke-width="1.3" stroke-opacity="0.9"/><line x1="78.20" y1="253.10" x2="98.20" y2="253.10" stroke="#469cde" stroke-width="1.55" stroke-opacity="0.92"/><line x1="78.20" y1="338.50" x2="98.20" y2="338.50" stroke="#469cde" stroke-width="1.55" stroke-opacity="0.92"/><line x1="78.20" y1="354.60" x2="98.20" y2="354.60" stroke="#469cde" stroke-width="1.55" stroke-opacity="0.92"/><line x1="124.30" y1="51.70" x2="124.30" y2="352.30" stroke="#e74c3c" stroke-width="1.25" stroke-opacity="0.8"/><line x1="119.30" y1="51.70" x2="129.30" y2="51.70" stroke="#e74c3c" stroke-width="1.3" stroke-opacity="0.9"/><line x1="119.30" y1="352.30" x2="129.30" y2="352.30" stroke="#e74c3c" stroke-width="1.3" stroke-opacity="0.9"/><line x1="114.30" y1="190.10" x2="134.30" y2="190.10" stroke="#e74c3c" stroke-width="1.55" stroke-opacity="0.92"/><line x1="114.30" y1="287.90" x2="134.30" y2="287.90" stroke="#e74c3c" stroke-width="1.55" stroke-opacity="0.92"/><line x1="114.30" y1="314.60" x2="134.30" y2="314.60" stroke="#e74c3c" stroke-width="1.55" stroke-opacity="0.92"/><line x1="218.10" y1="129.80" x2="218.10" y2="403.00" stroke="#469cde" stroke-width="1.25" stroke-opacity="0.8"/><line x1="213.10" y1="129.80" x2="223.10" y2="129.80" stroke="#469cde" stroke-width="1.3" stroke-opacity="0.9"/><line x1="213.10" y1="403.00" x2="223.10" y2="403.00" stroke="#469cde" stroke-width="1.3" stroke-opacity="0.9"/><line x1="208.10" y1="231.50" x2="228.10" y2="231.50" stroke="#469cde" stroke-width="1.55" stroke-opacity="0.92"/><line x1="208.10" y1="333.00" x2="228.10" y2="333.00" stroke="#469cde" stroke-width="1.55" stroke-opacity="0.92"/><line x1="208.10" y1="353.50" x2="228.10" y2="353.50" stroke="#469cde" stroke-width="1.55" stroke-opacity="0.92"/><line x1="254.20" y1="29.40" x2="254.20" y2="365.50" stroke="#e74c3c" stroke-width="1.25" stroke-opacity="0.8"/><line x1="249.20" y1="29.40" x2="259.20" y2="29.40" stroke="#e74c3c" stroke-width="1.3" stroke-opacity="0.9"/><line x1="249.20" y1="365.50" x2="259.20" y2="365.50" stroke="#e74c3c" stroke-width="1.3" stroke-opacity="0.9"/><line x1="244.20" y1="163.60" x2="264.20" y2="163.60" stroke="#e74c3c" stroke-width="1.55" stroke-opacity="0.92"/><line x1="244.20" y1="282.70" x2="264.20" y2="282.70" stroke="#e74c3c" stroke-width="1.55" stroke-opacity="0.92"/><line x1="244.20" y1="311.50" x2="264.20" y2="311.50" stroke="#e74c3c" stroke-width="1.55" stroke-opacity="0.92"/><line x1="348.00" y1="176.00" x2="348.00" y2="380.00" stroke="#469cde" stroke-width="1.25" stroke-opacity="0.8"/><line x1="343.00" y1="176.00" x2="353.00" y2="176.00" stroke="#469cde" stroke-width="1.3" stroke-opacity="0.9"/><line x1="343.00" y1="380.00" x2="353.00" y2="380.00" stroke="#469cde" stroke-width="1.3" stroke-opacity="0.9"/><line x1="338.00" y1="255.60" x2="358.00" y2="255.60" stroke="#469cde" stroke-width="1.55" stroke-opacity="0.92"/><line x1="338.00" y1="340.30" x2="358.00" y2="340.30" stroke="#469cde" stroke-width="1.55" stroke-opacity="0.92"/><line x1="338.00" y1="352.80" x2="358.00" y2="352.80" stroke="#469cde" stroke-width="1.55" stroke-opacity="0.92"/><line x1="384.10" y1="99.50" x2="384.10" y2="341.60" stroke="#e74c3c" stroke-width="1.25" stroke-opacity="0.8"/><line x1="379.10" y1="99.50" x2="389.10" y2="99.50" stroke="#e74c3c" stroke-width="1.3" stroke-opacity="0.9"/><line x1="379.10" y1="341.60" x2="389.10" y2="341.60" stroke="#e74c3c" stroke-width="1.3" stroke-opacity="0.9"/><line x1="374.10" y1="193.70" x2="394.10" y2="193.70" stroke="#e74c3c" stroke-width="1.55" stroke-opacity="0.92"/><line x1="374.10" y1="298.90" x2="394.10" y2="298.90" stroke="#e74c3c" stroke-width="1.55" stroke-opacity="0.92"/><line x1="374.10" y1="316.00" x2="394.10" y2="316.00" stroke="#e74c3c" stroke-width="1.55" stroke-opacity="0.92"/><line x1="477.90" y1="193.20" x2="477.90" y2="386.40" stroke="#469cde" stroke-width="1.25" stroke-opacity="0.8"/><line x1="472.90" y1="193.20" x2="482.90" y2="193.20" stroke="#469cde" stroke-width="1.3" stroke-opacity="0.9"/><line x1="472.90" y1="386.40" x2="482.90" y2="386.40" stroke="#469cde" stroke-width="1.3" stroke-opacity="0.9"/><line x1="467.90" y1="275.60" x2="487.90" y2="275.60" stroke="#469cde" stroke-width="1.55" stroke-opacity="0.92"/><line x1="467.90" y1="356.20" x2="487.90" y2="356.20" stroke="#469cde" stroke-width="1.55" stroke-opacity="0.92"/><line x1="467.90" y1="365.00" x2="487.90" y2="365.00" stroke="#469cde" stroke-width="1.55" stroke-opacity="0.92"/><line x1="514.00" y1="117.40" x2="514.00" y2="350.30" stroke="#e74c3c" stroke-width="1.25" stroke-opacity="0.8"/><line x1="509.00" y1="117.40" x2="519.00" y2="117.40" stroke="#e74c3c" stroke-width="1.3" stroke-opacity="0.9"/><line x1="509.00" y1="350.30" x2="519.00" y2="350.30" stroke="#e74c3c" stroke-width="1.3" stroke-opacity="0.9"/><line x1="504.00" y1="214.90" x2="524.00" y2="214.90" stroke="#e74c3c" stroke-width="1.55" stroke-opacity="0.92"/><line x1="504.00" y1="314.80" x2="524.00" y2="314.80" stroke="#e74c3c" stroke-width="1.55" stroke-opacity="0.92"/><line x1="504.00" y1="330.30" x2="524.00" y2="330.30" stroke="#e74c3c" stroke-width="1.55" stroke-opacity="0.92"/><line x1="607.80" y1="172.10" x2="607.80" y2="388.80" stroke="#469cde" stroke-width="1.25" stroke-opacity="0.8"/><line x1="602.80" y1="172.10" x2="612.80" y2="172.10" stroke="#469cde" stroke-width="1.3" stroke-opacity="0.9"/><line x1="602.80" y1="388.80" x2="612.80" y2="388.80" stroke="#469cde" stroke-width="1.3" stroke-opacity="0.9"/><line x1="597.80" y1="251.00" x2="617.80" y2="251.00" stroke="#469cde" stroke-width="1.55" stroke-opacity="0.92"/><line x1="597.80" y1="354.60" x2="617.80" y2="354.60" stroke="#469cde" stroke-width="1.55" stroke-opacity="0.92"/><line x1="597.80" y1="368.60" x2="617.80" y2="368.60" stroke="#469cde" stroke-width="1.55" stroke-opacity="0.92"/><line x1="643.90" y1="95.20" x2="643.90" y2="352.60" stroke="#e74c3c" stroke-width="1.25" stroke-opacity="0.8"/><line x1="638.90" y1="95.20" x2="648.90" y2="95.20" stroke="#e74c3c" stroke-width="1.3" stroke-opacity="0.9"/><line x1="638.90" y1="352.60" x2="648.90" y2="352.60" stroke="#e74c3c" stroke-width="1.3" stroke-opacity="0.9"/><line x1="633.90" y1="182.10" x2="653.90" y2="182.10" stroke="#e74c3c" stroke-width="1.55" stroke-opacity="0.92"/><line x1="633.90" y1="306.20" x2="653.90" y2="306.20" stroke="#e74c3c" stroke-width="1.55" stroke-opacity="0.92"/><line x1="633.90" y1="329.40" x2="653.90" y2="329.40" stroke="#e74c3c" stroke-width="1.55" stroke-opacity="0.92"/><g fill="#469cde" fill-opacity="0.78" stroke="#fff" stroke-width="0.3" stroke-opacity="0.7"><circle cx="88.2" cy="154.5" r="1.2"/><circle cx="88.8" cy="387.5" r="1.2"/><circle cx="90.8" cy="354.0" r="1.2"/><circle cx="89.6" cy="228.6" r="1.2"/><circle cx="89.3" cy="243.1" r="1.2"/><circle cx="87.4" cy="364.4" r="1.2"/><circle cx="88.4" cy="166.1" r="1.2"/><circle cx="87.4" cy="358.6" r="1.2"/><circle cx="90.2" cy="356.1" r="1.2"/><circle cx="87.2" cy="274.5" r="1.2"/><circle cx="87.9" cy="243.6" r="1.2"/><circle cx="90.2" cy="239.0" r="1.2"/><circle cx="88.2" cy="234.5" r="1.2"/><circle cx="86.9" cy="269.4" r="1.2"/><circle cx="89.2" cy="288.2" r="1.2"/><circle cx="87.2" cy="327.0" r="1.2"/><circle cx="90.2" cy="385.8" r="1.2"/><circle cx="90.5" cy="355.7" r="1.2"/><circle cx="87.8" cy="337.6" r="1.2"/><circle cx="89.6" cy="383.6" r="1.2"/><circle cx="84.5" cy="226.6" r="1.2"/><circle cx="87.3" cy="214.6" r="1.2"/><circle cx="91.1" cy="336.4" r="1.2"/><circle cx="88.7" cy="183.6" r="1.2"/><circle cx="88.5" cy="180.7" r="1.2"/><circle cx="88.9" cy="315.6" r="1.2"/><circle cx="89.6" cy="274.1" r="1.2"/><circle cx="88.9" cy="370.0" r="1.2"/><circle cx="87.6" cy="338.5" r="1.2"/><circle cx="86.9" cy="315.1" r="1.2"/><circle cx="87.2" cy="283.5" r="1.2"/><circle cx="86.5" cy="233.1" r="1.2"/><circle cx="87.9" cy="170.4" r="1.2"/><circle cx="92.2" cy="221.7" r="1.2"/><circle cx="87.0" cy="345.7" r="1.2"/><circle cx="87.8" cy="223.5" r="1.2"/><circle cx="87.2" cy="255.3" r="1.2"/><circle cx="88.5" cy="164.8" r="1.2"/><circle cx="91.8" cy="359.5" r="1.2"/><circle cx="91.3" cy="213.2" r="1.2"/><circle cx="87.2" cy="237.0" r="1.2"/><circle cx="86.3" cy="365.2" r="1.2"/><circle cx="89.4" cy="311.8" r="1.2"/><circle cx="88.2" cy="361.4" r="1.2"/><circle cx="89.7" cy="339.8" r="1.2"/><circle cx="84.8" cy="350.7" r="1.2"/><circle cx="90.9" cy="197.6" r="1.2"/><circle cx="86.7" cy="324.4" r="1.2"/><circle cx="88.2" cy="309.0" r="1.2"/><circle cx="85.8" cy="364.1" r="1.2"/><circle cx="87.6" cy="253.9" r="1.2"/><circle cx="90.8" cy="334.4" r="1.2"/><circle cx="90.4" cy="188.5" r="1.2"/><circle cx="88.0" cy="258.5" r="1.2"/><circle cx="90.3" cy="247.2" r="1.2"/><circle cx="87.9" cy="212.2" r="1.2"/><circle cx="87.2" cy="358.1" r="1.2"/><circle cx="88.6" cy="257.1" r="1.2"/><circle cx="85.8" cy="380.9" r="1.2"/><circle cx="86.7" cy="333.2" r="1.2"/><circle cx="89.9" cy="335.3" r="1.2"/><circle cx="90.4" cy="339.6" r="1.2"/><circle cx="84.7" cy="344.0" r="1.2"/><circle cx="90.1" cy="212.4" r="1.2"/><circle cx="90.7" cy="268.4" r="1.2"/><circle cx="87.8" cy="231.5" r="1.2"/><circle cx="84.7" cy="261.2" r="1.2"/><circle cx="89.6" cy="199.0" r="1.2"/><circle cx="86.2" cy="378.4" r="1.2"/><circle cx="89.3" cy="226.5" r="1.2"/><circle cx="87.2" cy="343.5" r="1.2"/><circle cx="89.3" cy="243.1" r="1.2"/><circle cx="86.3" cy="364.5" r="1.2"/><circle cx="88.0" cy="342.4" r="1.2"/><circle cx="88.4" cy="207.8" r="1.2"/><circle cx="89.2" cy="361.1" r="1.2"/><circle cx="85.8" cy="374.2" r="1.2"/><circle cx="91.9" cy="368.2" r="1.2"/><circle cx="86.5" cy="330.0" r="1.2"/><circle cx="86.6" cy="211.1" r="1.2"/><circle cx="86.3" cy="221.7" r="1.2"/><circle cx="84.7" cy="371.5" r="1.2"/><circle cx="87.6" cy="326.8" r="1.2"/><circle cx="90.4" cy="219.1" r="1.2"/><circle cx="89.9" cy="365.7" r="1.2"/><circle cx="85.8" cy="340.0" r="1.2"/><circle cx="85.3" cy="330.0" r="1.2"/><circle cx="86.8" cy="256.5" r="1.2"/><circle cx="90.3" cy="262.8" r="1.2"/><circle cx="88.1" cy="231.5" r="1.2"/><circle cx="90.7" cy="181.5" r="1.2"/><circle cx="89.5" cy="364.7" r="1.2"/><circle cx="89.2" cy="274.5" r="1.2"/><circle cx="90.3" cy="325.8" r="1.2"/><circle cx="90.2" cy="247.0" r="1.2"/><circle cx="87.0" cy="351.6" r="1.2"/><circle cx="86.9" cy="176.7" r="1.2"/><circle cx="87.7" cy="255.8" r="1.2"/><circle cx="88.1" cy="178.7" r="1.2"/><circle cx="85.3" cy="205.7" r="1.2"/><circle cx="87.7" cy="378.2" r="1.2"/><circle cx="89.3" cy="341.9" r="1.2"/><circle cx="85.3" cy="266.1" r="1.2"/><circle cx="86.1" cy="319.5" r="1.2"/><circle cx="85.6" cy="364.3" r="1.2"/><circle cx="86.5" cy="250.9" r="1.2"/><circle cx="91.9" cy="333.2" r="1.2"/><circle cx="84.4" cy="344.8" r="1.2"/><circle cx="85.7" cy="252.9" r="1.2"/><circle cx="86.5" cy="317.6" r="1.2"/><circle cx="88.0" cy="353.0" r="1.2"/><circle cx="84.3" cy="368.9" r="1.2"/><circle cx="87.9" cy="212.4" r="1.2"/><circle cx="85.5" cy="372.3" r="1.2"/><circle cx="87.4" cy="166.1" r="1.2"/><circle cx="90.5" cy="351.8" r="1.2"/><circle cx="85.7" cy="357.5" r="1.2"/><circle cx="89.1" cy="209.1" r="1.2"/><circle cx="87.5" cy="264.3" r="1.2"/><circle cx="87.5" cy="358.0" r="1.2"/><circle cx="89.6" cy="171.8" r="1.2"/><circle cx="85.5" cy="338.4" r="1.2"/><circle cx="91.6" cy="355.7" r="1.2"/><circle cx="89.7" cy="314.4" r="1.2"/><circle cx="89.5" cy="349.1" r="1.2"/><circle cx="84.6" cy="228.9" r="1.2"/><circle cx="89.5" cy="223.0" r="1.2"/><circle cx="89.0" cy="254.2" r="1.2"/><circle cx="90.4" cy="218.9" r="1.2"/><circle cx="85.9" cy="251.2" r="1.2"/><circle cx="91.8" cy="374.7" r="1.2"/><circle cx="91.3" cy="330.6" r="1.2"/><circle cx="85.1" cy="250.2" r="1.2"/><circle cx="86.7" cy="237.7" r="1.2"/><circle cx="84.5" cy="375.4" r="1.2"/><circle cx="90.8" cy="269.3" r="1.2"/><circle cx="91.5" cy="381.3" r="1.2"/><circle cx="90.3" cy="315.9" r="1.2"/><circle cx="88.8" cy="318.5" r="1.2"/><circle cx="89.5" cy="367.2" r="1.2"/><circle cx="89.6" cy="350.8" r="1.2"/><circle cx="88.8" cy="331.8" r="1.2"/><circle cx="91.8" cy="265.8" r="1.2"/><circle cx="89.1" cy="364.9" r="1.2"/><circle cx="86.9" cy="262.9" r="1.2"/><circle cx="88.3" cy="370.8" r="1.2"/><circle cx="84.9" cy="191.3" r="1.2"/><circle cx="90.0" cy="266.4" r="1.2"/><circle cx="89.2" cy="317.8" r="1.2"/><circle cx="87.6" cy="375.2" r="1.2"/><circle cx="91.0" cy="233.8" r="1.2"/><circle cx="90.2" cy="357.0" r="1.2"/><circle cx="86.9" cy="344.0" r="1.2"/><circle cx="84.8" cy="348.2" r="1.2"/><circle cx="85.3" cy="338.6" r="1.2"/><circle cx="85.7" cy="379.2" r="1.2"/><circle cx="86.6" cy="248.9" r="1.2"/><circle cx="87.8" cy="260.5" r="1.2"/><circle cx="91.6" cy="224.0" r="1.2"/><circle cx="86.8" cy="185.8" r="1.2"/><circle cx="91.4" cy="226.1" r="1.2"/><circle cx="89.6" cy="369.7" r="1.2"/><circle cx="91.0" cy="360.6" r="1.2"/><circle cx="87.4" cy="203.1" r="1.2"/><circle cx="84.2" cy="335.2" r="1.2"/><circle cx="90.3" cy="277.4" r="1.2"/><circle cx="86.2" cy="333.9" r="1.2"/><circle cx="85.3" cy="342.1" r="1.2"/><circle cx="90.6" cy="244.2" r="1.2"/><circle cx="89.7" cy="377.1" r="1.2"/><circle cx="85.9" cy="274.0" r="1.2"/><circle cx="86.3" cy="338.4" r="1.2"/><circle cx="91.7" cy="339.3" r="1.2"/><circle cx="86.3" cy="219.9" r="1.2"/><circle cx="89.6" cy="189.2" r="1.2"/><circle cx="85.2" cy="262.9" r="1.2"/><circle cx="90.7" cy="352.9" r="1.2"/><circle cx="85.1" cy="358.0" r="1.2"/><circle cx="88.3" cy="349.5" r="1.2"/><circle cx="84.5" cy="203.3" r="1.2"/><circle cx="88.6" cy="369.4" r="1.2"/><circle cx="91.0" cy="356.6" r="1.2"/><circle cx="84.9" cy="364.9" r="1.2"/><circle cx="86.9" cy="319.3" r="1.2"/><circle cx="90.3" cy="369.8" r="1.2"/><circle cx="88.9" cy="184.5" r="1.2"/><circle cx="87.2" cy="178.7" r="1.2"/><circle cx="88.8" cy="174.6" r="1.2"/><circle cx="87.8" cy="234.1" r="1.2"/><circle cx="91.1" cy="233.3" r="1.2"/><circle cx="86.5" cy="220.7" r="1.2"/><circle cx="90.3" cy="329.5" r="1.2"/><circle cx="89.0" cy="181.9" r="1.2"/><circle cx="90.1" cy="333.2" r="1.2"/><circle cx="87.2" cy="215.9" r="1.2"/><circle cx="90.0" cy="344.2" r="1.2"/><circle cx="89.2" cy="175.0" r="1.2"/><circle cx="87.3" cy="245.0" r="1.2"/><circle cx="84.4" cy="373.1" r="1.2"/><circle cx="91.9" cy="323.7" r="1.2"/><circle cx="89.9" cy="357.6" r="1.2"/><circle cx="85.8" cy="342.0" r="1.2"/><circle cx="90.0" cy="336.1" r="1.2"/><circle cx="86.4" cy="221.5" r="1.2"/><circle cx="88.0" cy="330.8" r="1.2"/><circle cx="90.3" cy="182.1" r="1.2"/><circle cx="87.8" cy="356.6" r="1.2"/><circle cx="86.5" cy="376.8" r="1.2"/><circle cx="86.6" cy="362.1" r="1.2"/><circle cx="85.5" cy="185.8" r="1.2"/><circle cx="86.0" cy="249.9" r="1.2"/><circle cx="86.4" cy="246.3" r="1.2"/><circle cx="85.6" cy="203.2" r="1.2"/><circle cx="84.7" cy="338.2" r="1.2"/><circle cx="87.9" cy="356.2" r="1.2"/><circle cx="85.9" cy="245.5" r="1.2"/><circle cx="90.1" cy="363.1" r="1.2"/><circle cx="91.6" cy="356.1" r="1.2"/><circle cx="86.4" cy="207.2" r="1.2"/><circle cx="88.8" cy="353.1" r="1.2"/><circle cx="88.3" cy="365.5" r="1.2"/><circle cx="84.8" cy="222.8" r="1.2"/><circle cx="85.2" cy="330.6" r="1.2"/><circle cx="91.3" cy="339.7" r="1.2"/><circle cx="88.0" cy="335.9" r="1.2"/><circle cx="90.5" cy="198.9" r="1.2"/><circle cx="84.7" cy="342.3" r="1.2"/><circle cx="89.0" cy="338.9" r="1.2"/><circle cx="91.1" cy="358.9" r="1.2"/><circle cx="91.1" cy="356.8" r="1.2"/><circle cx="84.2" cy="247.9" r="1.2"/><circle cx="88.4" cy="348.7" r="1.2"/><circle cx="87.2" cy="363.7" r="1.2"/><circle cx="90.3" cy="366.8" r="1.2"/><circle cx="84.8" cy="214.9" r="1.2"/><circle cx="86.9" cy="177.3" r="1.2"/><circle cx="90.7" cy="341.1" r="1.2"/><circle cx="88.0" cy="226.5" r="1.2"/><circle cx="87.8" cy="328.9" r="1.2"/><circle cx="91.9" cy="374.1" r="1.2"/><circle cx="86.8" cy="257.1" r="1.2"/><circle cx="84.5" cy="234.1" r="1.2"/><circle cx="87.3" cy="271.9" r="1.2"/><circle cx="85.4" cy="341.9" r="1.2"/><circle cx="85.0" cy="200.2" r="1.2"/><circle cx="88.7" cy="257.3" r="1.2"/><circle cx="91.8" cy="208.3" r="1.2"/><circle cx="88.8" cy="342.5" r="1.2"/><circle cx="89.4" cy="359.6" r="1.2"/><circle cx="86.8" cy="256.6" r="1.2"/><circle cx="88.8" cy="255.7" r="1.2"/><circle cx="90.2" cy="324.0" r="1.2"/><circle cx="88.9" cy="226.5" r="1.2"/><circle cx="90.6" cy="233.1" r="1.2"/><circle cx="88.6" cy="248.4" r="1.2"/><circle cx="85.8" cy="272.1" r="1.2"/><circle cx="88.8" cy="194.9" r="1.2"/><circle cx="88.1" cy="351.8" r="1.2"/><circle cx="85.5" cy="331.5" r="1.2"/><circle cx="89.2" cy="243.0" r="1.2"/><circle cx="90.5" cy="193.8" r="1.2"/><circle cx="85.3" cy="352.8" r="1.2"/><circle cx="88.6" cy="207.7" r="1.2"/><circle cx="90.1" cy="208.2" r="1.2"/><circle cx="87.4" cy="207.6" r="1.2"/><circle cx="86.5" cy="194.8" r="1.2"/><circle cx="87.2" cy="368.5" r="1.2"/><circle cx="88.5" cy="237.3" r="1.2"/><circle cx="89.7" cy="244.2" r="1.2"/><circle cx="88.7" cy="359.8" r="1.2"/><circle cx="85.1" cy="337.3" r="1.2"/><circle cx="90.7" cy="220.6" r="1.2"/><circle cx="91.6" cy="267.3" r="1.2"/><circle cx="85.0" cy="365.6" r="1.2"/><circle cx="86.2" cy="256.4" r="1.2"/><circle cx="85.6" cy="347.6" r="1.2"/><circle cx="90.8" cy="199.1" r="1.2"/><circle cx="91.5" cy="349.3" r="1.2"/><circle cx="84.6" cy="354.1" r="1.2"/><circle cx="86.9" cy="359.1" r="1.2"/><circle cx="85.7" cy="343.8" r="1.2"/><circle cx="88.0" cy="255.6" r="1.2"/><circle cx="91.1" cy="189.9" r="1.2"/><circle cx="86.1" cy="317.5" r="1.2"/><circle cx="85.6" cy="352.2" r="1.2"/><circle cx="88.1" cy="221.4" r="1.2"/><circle cx="88.4" cy="236.7" r="1.2"/><circle cx="90.1" cy="323.2" r="1.2"/><circle cx="87.7" cy="351.3" r="1.2"/><circle cx="85.3" cy="367.2" r="1.2"/><circle cx="87.0" cy="206.4" r="1.2"/><circle cx="92.1" cy="220.0" r="1.2"/><circle cx="90.2" cy="356.4" r="1.2"/><circle cx="85.1" cy="340.4" r="1.2"/><circle cx="90.7" cy="348.6" r="1.2"/><circle cx="87.1" cy="386.2" r="1.2"/><circle cx="90.5" cy="373.2" r="1.2"/><circle cx="84.3" cy="360.9" r="1.2"/><circle cx="91.2" cy="354.2" r="1.2"/><circle cx="85.5" cy="259.9" r="1.2"/><circle cx="87.8" cy="340.0" r="1.2"/><circle cx="89.5" cy="220.0" r="1.2"/><circle cx="88.3" cy="352.4" r="1.2"/><circle cx="85.5" cy="352.2" r="1.2"/><circle cx="85.3" cy="348.7" r="1.2"/><circle cx="86.5" cy="269.4" r="1.2"/><circle cx="84.6" cy="256.9" r="1.2"/><circle cx="85.9" cy="264.4" r="1.2"/><circle cx="86.1" cy="179.8" r="1.2"/><circle cx="87.9" cy="361.1" r="1.2"/><circle cx="87.1" cy="324.7" r="1.2"/><circle cx="88.9" cy="258.5" r="1.2"/><circle cx="86.4" cy="325.9" r="1.2"/><circle cx="84.5" cy="348.7" r="1.2"/><circle cx="86.8" cy="257.4" r="1.2"/><circle cx="90.2" cy="359.6" r="1.2"/><circle cx="86.2" cy="370.3" r="1.2"/><circle cx="87.4" cy="258.5" r="1.2"/><circle cx="90.2" cy="209.3" r="1.2"/><circle cx="87.5" cy="352.5" r="1.2"/><circle cx="90.6" cy="384.9" r="1.2"/><circle cx="91.5" cy="211.7" r="1.2"/><circle cx="86.7" cy="347.8" r="1.2"/><circle cx="90.1" cy="359.0" r="1.2"/><circle cx="86.2" cy="370.4" r="1.2"/><circle cx="85.3" cy="205.8" r="1.2"/><circle cx="87.7" cy="197.7" r="1.2"/><circle cx="88.9" cy="383.3" r="1.2"/><circle cx="91.7" cy="204.2" r="1.2"/><circle cx="85.4" cy="218.3" r="1.2"/><circle cx="89.9" cy="330.8" r="1.2"/><circle cx="88.0" cy="269.7" r="1.2"/><circle cx="85.3" cy="351.5" r="1.2"/><circle cx="92.0" cy="221.3" r="1.2"/><circle cx="89.8" cy="369.6" r="1.2"/><circle cx="85.2" cy="227.0" r="1.2"/><circle cx="91.4" cy="353.4" r="1.2"/><circle cx="85.5" cy="191.0" r="1.2"/><circle cx="85.0" cy="275.9" r="1.2"/><circle cx="87.2" cy="179.6" r="1.2"/><circle cx="91.7" cy="245.5" r="1.2"/><circle cx="84.5" cy="245.2" r="1.2"/><circle cx="91.5" cy="348.5" r="1.2"/><circle cx="89.1" cy="271.5" r="1.2"/><circle cx="85.4" cy="187.7" r="1.2"/><circle cx="88.6" cy="385.7" r="1.2"/><circle cx="87.9" cy="366.2" r="1.2"/><circle cx="88.7" cy="369.9" r="1.2"/><circle cx="90.1" cy="232.9" r="1.2"/><circle cx="89.6" cy="259.7" r="1.2"/><circle cx="92.2" cy="229.0" r="1.2"/><circle cx="85.5" cy="206.2" r="1.2"/><circle cx="90.0" cy="179.7" r="1.2"/><circle cx="87.9" cy="287.1" r="1.2"/><circle cx="90.5" cy="205.8" r="1.2"/><circle cx="91.3" cy="218.2" r="1.2"/><circle cx="92.1" cy="362.9" r="1.2"/><circle cx="86.6" cy="278.9" r="1.2"/><circle cx="87.8" cy="219.8" r="1.2"/><circle cx="91.7" cy="343.3" r="1.2"/><circle cx="91.8" cy="236.6" r="1.2"/><circle cx="87.4" cy="320.5" r="1.2"/><circle cx="91.7" cy="239.9" r="1.2"/><circle cx="87.8" cy="316.2" r="1.2"/><circle cx="87.2" cy="338.4" r="1.2"/><circle cx="90.2" cy="323.2" r="1.2"/><circle cx="88.0" cy="260.0" r="1.2"/><circle cx="87.8" cy="355.5" r="1.2"/><circle cx="87.3" cy="364.4" r="1.2"/><circle cx="87.7" cy="218.9" r="1.2"/><circle cx="85.3" cy="209.0" r="1.2"/><circle cx="84.7" cy="203.3" r="1.2"/><circle cx="90.2" cy="381.1" r="1.2"/><circle cx="88.7" cy="373.6" r="1.2"/><circle cx="89.6" cy="229.7" r="1.2"/><circle cx="90.6" cy="378.8" r="1.2"/><circle cx="86.0" cy="225.0" r="1.2"/><circle cx="87.5" cy="290.9" r="1.2"/><circle cx="87.1" cy="283.7" r="1.2"/><circle cx="86.6" cy="369.7" r="1.2"/><circle cx="89.8" cy="182.4" r="1.2"/><circle cx="87.2" cy="245.8" r="1.2"/><circle cx="86.8" cy="334.6" r="1.2"/><circle cx="89.1" cy="190.6" r="1.2"/><circle cx="85.7" cy="230.9" r="1.2"/><circle cx="85.1" cy="273.8" r="1.2"/><circle cx="89.8" cy="365.3" r="1.2"/><circle cx="90.3" cy="352.6" r="1.2"/><circle cx="86.6" cy="359.4" r="1.2"/><circle cx="89.3" cy="352.6" r="1.2"/><circle cx="84.5" cy="347.3" r="1.2"/><circle cx="87.4" cy="361.7" r="1.2"/><circle cx="88.8" cy="344.6" r="1.2"/><circle cx="86.2" cy="350.1" r="1.2"/><circle cx="87.0" cy="243.3" r="1.2"/><circle cx="89.1" cy="216.2" r="1.2"/><circle cx="88.9" cy="352.1" r="1.2"/><circle cx="85.4" cy="215.8" r="1.2"/><circle cx="89.9" cy="370.3" r="1.2"/><circle cx="84.8" cy="334.2" r="1.2"/><circle cx="92.0" cy="248.3" r="1.2"/><circle cx="85.8" cy="372.8" r="1.2"/><circle cx="86.2" cy="213.4" r="1.2"/><circle cx="87.0" cy="315.3" r="1.2"/><circle cx="91.9" cy="197.7" r="1.2"/><circle cx="86.5" cy="377.9" r="1.2"/><circle cx="89.0" cy="330.9" r="1.2"/><circle cx="92.1" cy="356.8" r="1.2"/><circle cx="91.8" cy="239.7" r="1.2"/><circle cx="84.5" cy="356.6" r="1.2"/><circle cx="88.4" cy="346.8" r="1.2"/><circle cx="89.0" cy="340.3" r="1.2"/><circle cx="89.8" cy="375.1" r="1.2"/><circle cx="86.9" cy="267.1" r="1.2"/><circle cx="86.8" cy="263.6" r="1.2"/><circle cx="84.2" cy="345.7" r="1.2"/><circle cx="84.5" cy="360.1" r="1.2"/><circle cx="88.6" cy="249.3" r="1.2"/><circle cx="84.8" cy="343.3" r="1.2"/><circle cx="85.8" cy="225.3" r="1.2"/><circle cx="86.9" cy="326.7" r="1.2"/><circle cx="84.8" cy="353.4" r="1.2"/><circle cx="85.0" cy="190.3" r="1.2"/><circle cx="91.6" cy="349.3" r="1.2"/><circle cx="87.9" cy="172.4" r="1.2"/><circle cx="85.8" cy="376.5" r="1.2"/><circle cx="89.9" cy="274.7" r="1.2"/><circle cx="84.3" cy="262.4" r="1.2"/><circle cx="86.2" cy="348.6" r="1.2"/><circle cx="90.8" cy="319.3" r="1.2"/><circle cx="91.4" cy="349.6" r="1.2"/><circle cx="89.2" cy="195.8" r="1.2"/><circle cx="84.9" cy="328.8" r="1.2"/><circle cx="86.7" cy="327.9" r="1.2"/><circle cx="84.4" cy="372.1" r="1.2"/><circle cx="86.5" cy="182.1" r="1.2"/><circle cx="84.4" cy="271.1" r="1.2"/><circle cx="85.2" cy="338.7" r="1.2"/><circle cx="89.3" cy="326.5" r="1.2"/><circle cx="85.4" cy="192.8" r="1.2"/><circle cx="85.4" cy="333.7" r="1.2"/><circle cx="91.4" cy="228.0" r="1.2"/><circle cx="86.9" cy="222.4" r="1.2"/><circle cx="86.9" cy="365.0" r="1.2"/><circle cx="84.9" cy="222.9" r="1.2"/><circle cx="90.6" cy="271.4" r="1.2"/><circle cx="89.6" cy="351.5" r="1.2"/><circle cx="88.6" cy="347.3" r="1.2"/><circle cx="89.1" cy="327.0" r="1.2"/><circle cx="85.0" cy="357.1" r="1.2"/></g><g fill="#e74c3c" fill-opacity="0.78" stroke="#fff" stroke-width="0.3" stroke-opacity="0.7"><circle cx="124.0" cy="51.7" r="1.2"/><circle cx="124.7" cy="352.3" r="1.2"/><circle cx="121.6" cy="341.8" r="1.2"/><circle cx="120.6" cy="320.2" r="1.2"/><circle cx="127.9" cy="297.2" r="1.2"/><circle cx="123.0" cy="274.4" r="1.2"/><circle cx="122.8" cy="118.8" r="1.2"/><circle cx="121.1" cy="330.8" r="1.2"/><circle cx="125.5" cy="137.1" r="1.2"/><circle cx="124.0" cy="151.7" r="1.2"/><circle cx="120.4" cy="304.3" r="1.2"/><circle cx="126.0" cy="319.5" r="1.2"/><circle cx="122.4" cy="316.2" r="1.2"/><circle cx="126.5" cy="218.4" r="1.2"/><circle cx="124.2" cy="161.9" r="1.2"/><circle cx="124.5" cy="127.6" r="1.2"/><circle cx="124.0" cy="324.9" r="1.2"/><circle cx="125.7" cy="347.0" r="1.2"/><circle cx="128.2" cy="175.3" r="1.2"/><circle cx="126.7" cy="327.0" r="1.2"/><circle cx="120.9" cy="206.3" r="1.2"/><circle cx="124.3" cy="188.2" r="1.2"/><circle cx="122.6" cy="270.0" r="1.2"/><circle cx="122.7" cy="114.5" r="1.2"/><circle cx="121.9" cy="215.7" r="1.2"/><circle cx="122.3" cy="166.5" r="1.2"/><circle cx="128.0" cy="306.9" r="1.2"/><circle cx="125.8" cy="269.0" r="1.2"/><circle cx="127.1" cy="327.4" r="1.2"/><circle cx="125.9" cy="331.8" r="1.2"/><circle cx="122.8" cy="189.3" r="1.2"/><circle cx="123.4" cy="182.3" r="1.2"/><circle cx="123.8" cy="339.3" r="1.2"/><circle cx="123.0" cy="269.6" r="1.2"/><circle cx="123.7" cy="144.4" r="1.2"/><circle cx="126.4" cy="131.1" r="1.2"/><circle cx="120.9" cy="349.9" r="1.2"/><circle cx="122.5" cy="287.4" r="1.2"/><circle cx="124.1" cy="133.7" r="1.2"/><circle cx="125.6" cy="272.1" r="1.2"/><circle cx="125.2" cy="269.6" r="1.2"/><circle cx="126.1" cy="213.9" r="1.2"/><circle cx="121.1" cy="341.6" r="1.2"/><circle cx="121.7" cy="341.1" r="1.2"/><circle cx="122.8" cy="150.8" r="1.2"/><circle cx="122.6" cy="156.6" r="1.2"/><circle cx="126.3" cy="207.4" r="1.2"/><circle cx="128.2" cy="322.4" r="1.2"/><circle cx="125.8" cy="294.7" r="1.2"/><circle cx="120.6" cy="309.1" r="1.2"/><circle cx="122.7" cy="286.9" r="1.2"/><circle cx="126.7" cy="168.6" r="1.2"/><circle cx="127.7" cy="320.3" r="1.2"/><circle cx="124.8" cy="118.2" r="1.2"/><circle cx="123.1" cy="305.1" r="1.2"/><circle cx="123.1" cy="165.4" r="1.2"/><circle cx="125.0" cy="225.1" r="1.2"/><circle cx="127.2" cy="346.4" r="1.2"/><circle cx="123.0" cy="279.4" r="1.2"/><circle cx="121.8" cy="134.4" r="1.2"/><circle cx="120.3" cy="212.3" r="1.2"/><circle cx="121.4" cy="299.9" r="1.2"/><circle cx="127.1" cy="134.3" r="1.2"/><circle cx="125.3" cy="177.0" r="1.2"/><circle cx="126.9" cy="120.5" r="1.2"/><circle cx="120.9" cy="279.7" r="1.2"/><circle cx="123.2" cy="201.9" r="1.2"/><circle cx="126.1" cy="269.4" r="1.2"/><circle cx="125.6" cy="185.3" r="1.2"/><circle cx="120.8" cy="299.4" r="1.2"/><circle cx="123.5" cy="161.1" r="1.2"/><circle cx="125.4" cy="333.5" r="1.2"/><circle cx="125.8" cy="343.3" r="1.2"/><circle cx="124.1" cy="263.9" r="1.2"/><circle cx="122.3" cy="222.7" r="1.2"/><circle cx="128.0" cy="326.0" r="1.2"/><circle cx="124.0" cy="184.1" r="1.2"/><circle cx="126.0" cy="318.3" r="1.2"/><circle cx="124.6" cy="183.6" r="1.2"/><circle cx="120.9" cy="307.8" r="1.2"/><circle cx="122.2" cy="192.6" r="1.2"/><circle cx="120.8" cy="291.4" r="1.2"/><circle cx="121.8" cy="336.9" r="1.2"/><circle cx="121.9" cy="133.6" r="1.2"/><circle cx="123.6" cy="318.9" r="1.2"/><circle cx="122.9" cy="280.1" r="1.2"/><circle cx="123.2" cy="201.4" r="1.2"/><circle cx="126.8" cy="195.7" r="1.2"/><circle cx="120.5" cy="137.7" r="1.2"/><circle cx="121.1" cy="178.1" r="1.2"/><circle cx="126.8" cy="294.6" r="1.2"/><circle cx="124.6" cy="144.6" r="1.2"/><circle cx="123.8" cy="301.2" r="1.2"/><circle cx="122.4" cy="343.8" r="1.2"/><circle cx="124.6" cy="347.7" r="1.2"/><circle cx="122.1" cy="330.6" r="1.2"/><circle cx="127.2" cy="318.8" r="1.2"/><circle cx="126.9" cy="162.1" r="1.2"/><circle cx="122.9" cy="345.4" r="1.2"/><circle cx="120.5" cy="167.1" r="1.2"/><circle cx="127.4" cy="327.5" r="1.2"/><circle cx="122.7" cy="328.8" r="1.2"/><circle cx="125.6" cy="294.4" r="1.2"/><circle cx="127.2" cy="275.1" r="1.2"/><circle cx="126.7" cy="166.6" r="1.2"/><circle cx="127.2" cy="274.6" r="1.2"/><circle cx="124.2" cy="184.3" r="1.2"/><circle cx="127.0" cy="151.0" r="1.2"/><circle cx="124.0" cy="151.5" r="1.2"/><circle cx="122.4" cy="318.1" r="1.2"/><circle cx="124.1" cy="336.3" r="1.2"/><circle cx="123.0" cy="154.5" r="1.2"/><circle cx="125.6" cy="117.8" r="1.2"/><circle cx="127.0" cy="179.1" r="1.2"/><circle cx="121.4" cy="152.9" r="1.2"/><circle cx="121.6" cy="164.2" r="1.2"/><circle cx="123.4" cy="288.2" r="1.2"/><circle cx="124.0" cy="210.8" r="1.2"/><circle cx="128.0" cy="212.4" r="1.2"/><circle cx="127.8" cy="167.7" r="1.2"/><circle cx="128.0" cy="300.5" r="1.2"/><circle cx="126.1" cy="184.1" r="1.2"/><circle cx="125.7" cy="205.6" r="1.2"/><circle cx="122.7" cy="222.0" r="1.2"/><circle cx="123.3" cy="333.1" r="1.2"/><circle cx="120.3" cy="175.7" r="1.2"/><circle cx="127.0" cy="307.7" r="1.2"/><circle cx="122.5" cy="187.9" r="1.2"/><circle cx="120.9" cy="331.5" r="1.2"/><circle cx="122.8" cy="204.5" r="1.2"/><circle cx="123.2" cy="270.0" r="1.2"/><circle cx="126.1" cy="328.7" r="1.2"/><circle cx="120.3" cy="301.6" r="1.2"/><circle cx="122.1" cy="143.9" r="1.2"/><circle cx="127.5" cy="153.4" r="1.2"/><circle cx="127.1" cy="349.9" r="1.2"/><circle cx="125.1" cy="125.3" r="1.2"/><circle cx="124.8" cy="186.2" r="1.2"/><circle cx="122.1" cy="343.1" r="1.2"/><circle cx="126.1" cy="118.8" r="1.2"/><circle cx="126.4" cy="158.6" r="1.2"/><circle cx="124.4" cy="169.2" r="1.2"/><circle cx="121.6" cy="142.0" r="1.2"/><circle cx="122.8" cy="225.5" r="1.2"/><circle cx="123.3" cy="289.7" r="1.2"/><circle cx="122.9" cy="189.6" r="1.2"/><circle cx="120.8" cy="147.2" r="1.2"/><circle cx="123.6" cy="319.4" r="1.2"/><circle cx="123.9" cy="318.5" r="1.2"/><circle cx="122.6" cy="284.3" r="1.2"/><circle cx="123.4" cy="153.6" r="1.2"/><circle cx="123.0" cy="280.1" r="1.2"/><circle cx="123.3" cy="295.5" r="1.2"/><circle cx="125.3" cy="212.2" r="1.2"/><circle cx="124.3" cy="326.7" r="1.2"/><circle cx="121.9" cy="203.7" r="1.2"/><circle cx="126.5" cy="272.0" r="1.2"/><circle cx="124.4" cy="148.4" r="1.2"/><circle cx="124.0" cy="284.5" r="1.2"/><circle cx="126.0" cy="313.7" r="1.2"/><circle cx="126.3" cy="309.3" r="1.2"/><circle cx="127.1" cy="177.8" r="1.2"/><circle cx="126.8" cy="350.2" r="1.2"/><circle cx="125.7" cy="307.8" r="1.2"/><circle cx="126.1" cy="211.1" r="1.2"/><circle cx="121.6" cy="209.1" r="1.2"/><circle cx="125.9" cy="315.3" r="1.2"/><circle cx="122.3" cy="161.6" r="1.2"/><circle cx="122.4" cy="297.0" r="1.2"/><circle cx="121.3" cy="307.7" r="1.2"/><circle cx="123.5" cy="273.7" r="1.2"/><circle cx="120.5" cy="328.1" r="1.2"/><circle cx="125.2" cy="224.0" r="1.2"/><circle cx="125.9" cy="222.5" r="1.2"/><circle cx="126.5" cy="183.1" r="1.2"/><circle cx="121.3" cy="335.7" r="1.2"/><circle cx="125.4" cy="189.2" r="1.2"/><circle cx="127.0" cy="304.6" r="1.2"/><circle cx="120.6" cy="207.8" r="1.2"/><circle cx="121.8" cy="338.6" r="1.2"/><circle cx="122.4" cy="341.0" r="1.2"/><circle cx="124.1" cy="125.6" r="1.2"/><circle cx="121.7" cy="350.9" r="1.2"/><circle cx="124.6" cy="291.8" r="1.2"/><circle cx="123.1" cy="138.9" r="1.2"/><circle cx="125.1" cy="266.3" r="1.2"/><circle cx="124.6" cy="132.2" r="1.2"/><circle cx="125.8" cy="281.6" r="1.2"/><circle cx="122.3" cy="163.6" r="1.2"/><circle cx="126.0" cy="199.2" r="1.2"/><circle cx="126.2" cy="187.0" r="1.2"/><circle cx="126.1" cy="291.3" r="1.2"/><circle cx="120.8" cy="320.9" r="1.2"/><circle cx="127.9" cy="338.8" r="1.2"/><circle cx="124.9" cy="191.6" r="1.2"/><circle cx="122.5" cy="285.7" r="1.2"/><circle cx="124.1" cy="112.7" r="1.2"/><circle cx="124.4" cy="200.0" r="1.2"/><circle cx="124.4" cy="343.5" r="1.2"/><circle cx="122.3" cy="149.5" r="1.2"/><circle cx="122.4" cy="327.6" r="1.2"/><circle cx="123.2" cy="298.8" r="1.2"/><circle cx="126.5" cy="184.9" r="1.2"/><circle cx="123.8" cy="315.2" r="1.2"/><circle cx="120.6" cy="184.0" r="1.2"/><circle cx="123.9" cy="331.5" r="1.2"/><circle cx="121.9" cy="141.1" r="1.2"/><circle cx="120.4" cy="149.5" r="1.2"/><circle cx="128.1" cy="311.6" r="1.2"/><circle cx="122.6" cy="217.5" r="1.2"/><circle cx="124.6" cy="155.7" r="1.2"/><circle cx="123.2" cy="272.8" r="1.2"/><circle cx="120.7" cy="185.5" r="1.2"/><circle cx="127.5" cy="281.7" r="1.2"/><circle cx="127.8" cy="310.9" r="1.2"/><circle cx="121.8" cy="325.6" r="1.2"/><circle cx="123.6" cy="135.0" r="1.2"/><circle cx="123.3" cy="289.7" r="1.2"/><circle cx="121.6" cy="348.3" r="1.2"/><circle cx="125.5" cy="220.7" r="1.2"/><circle cx="126.6" cy="314.1" r="1.2"/><circle cx="126.4" cy="144.6" r="1.2"/><circle cx="125.7" cy="328.1" r="1.2"/><circle cx="120.4" cy="287.9" r="1.2"/><circle cx="122.1" cy="330.5" r="1.2"/><circle cx="124.4" cy="316.3" r="1.2"/><circle cx="125.9" cy="327.5" r="1.2"/><circle cx="123.4" cy="134.5" r="1.2"/><circle cx="123.9" cy="307.3" r="1.2"/><circle cx="127.0" cy="165.9" r="1.2"/><circle cx="120.5" cy="179.5" r="1.2"/><circle cx="122.4" cy="190.8" r="1.2"/><circle cx="122.6" cy="289.5" r="1.2"/><circle cx="128.2" cy="295.3" r="1.2"/><circle cx="122.1" cy="337.9" r="1.2"/><circle cx="122.2" cy="117.5" r="1.2"/><circle cx="123.6" cy="165.2" r="1.2"/><circle cx="125.5" cy="198.0" r="1.2"/><circle cx="121.5" cy="320.3" r="1.2"/><circle cx="127.0" cy="281.8" r="1.2"/><circle cx="122.0" cy="272.4" r="1.2"/><circle cx="125.9" cy="312.9" r="1.2"/><circle cx="121.6" cy="299.2" r="1.2"/><circle cx="127.4" cy="184.1" r="1.2"/><circle cx="121.9" cy="142.2" r="1.2"/><circle cx="125.9" cy="221.6" r="1.2"/><circle cx="127.0" cy="329.2" r="1.2"/><circle cx="122.3" cy="290.7" r="1.2"/><circle cx="121.0" cy="133.3" r="1.2"/><circle cx="125.0" cy="215.1" r="1.2"/><circle cx="124.3" cy="202.6" r="1.2"/><circle cx="124.1" cy="288.0" r="1.2"/><circle cx="126.6" cy="288.8" r="1.2"/><circle cx="124.0" cy="341.6" r="1.2"/><circle cx="124.3" cy="193.4" r="1.2"/><circle cx="124.2" cy="207.5" r="1.2"/><circle cx="123.9" cy="293.1" r="1.2"/><circle cx="123.5" cy="330.1" r="1.2"/><circle cx="121.6" cy="306.1" r="1.2"/><circle cx="123.2" cy="225.0" r="1.2"/><circle cx="122.4" cy="319.8" r="1.2"/><circle cx="123.7" cy="255.4" r="1.2"/><circle cx="126.6" cy="344.0" r="1.2"/><circle cx="121.2" cy="182.7" r="1.2"/><circle cx="121.9" cy="151.4" r="1.2"/><circle cx="124.5" cy="321.9" r="1.2"/><circle cx="122.8" cy="185.6" r="1.2"/><circle cx="122.2" cy="324.3" r="1.2"/><circle cx="123.3" cy="292.5" r="1.2"/><circle cx="124.3" cy="271.4" r="1.2"/><circle cx="125.7" cy="142.1" r="1.2"/><circle cx="128.1" cy="316.2" r="1.2"/><circle cx="127.1" cy="136.8" r="1.2"/><circle cx="123.7" cy="344.4" r="1.2"/><circle cx="123.9" cy="328.7" r="1.2"/><circle cx="123.6" cy="186.6" r="1.2"/><circle cx="122.2" cy="151.5" r="1.2"/><circle cx="127.9" cy="330.0" r="1.2"/><circle cx="122.7" cy="230.5" r="1.2"/><circle cx="121.9" cy="150.8" r="1.2"/><circle cx="125.1" cy="267.1" r="1.2"/><circle cx="125.0" cy="175.8" r="1.2"/><circle cx="122.5" cy="207.5" r="1.2"/><circle cx="127.8" cy="297.1" r="1.2"/><circle cx="123.6" cy="335.0" r="1.2"/><circle cx="125.1" cy="318.1" r="1.2"/><circle cx="121.0" cy="158.6" r="1.2"/><circle cx="126.0" cy="228.6" r="1.2"/><circle cx="122.7" cy="263.2" r="1.2"/><circle cx="123.5" cy="349.7" r="1.2"/><circle cx="127.4" cy="142.1" r="1.2"/><circle cx="127.6" cy="272.0" r="1.2"/><circle cx="127.5" cy="334.8" r="1.2"/><circle cx="126.9" cy="205.5" r="1.2"/><circle cx="122.2" cy="178.7" r="1.2"/><circle cx="120.6" cy="283.0" r="1.2"/><circle cx="123.9" cy="189.9" r="1.2"/><circle cx="120.8" cy="337.1" r="1.2"/><circle cx="128.0" cy="141.6" r="1.2"/><circle cx="120.4" cy="167.9" r="1.2"/><circle cx="122.9" cy="141.4" r="1.2"/><circle cx="121.9" cy="306.8" r="1.2"/><circle cx="120.4" cy="184.8" r="1.2"/><circle cx="124.3" cy="332.4" r="1.2"/><circle cx="120.9" cy="331.3" r="1.2"/><circle cx="127.5" cy="338.8" r="1.2"/><circle cx="125.8" cy="177.6" r="1.2"/><circle cx="124.0" cy="106.0" r="1.2"/><circle cx="127.0" cy="203.2" r="1.2"/><circle cx="126.7" cy="343.8" r="1.2"/><circle cx="122.9" cy="313.4" r="1.2"/><circle cx="127.1" cy="135.1" r="1.2"/><circle cx="127.7" cy="305.6" r="1.2"/><circle cx="125.3" cy="335.3" r="1.2"/><circle cx="123.1" cy="344.9" r="1.2"/><circle cx="127.5" cy="307.3" r="1.2"/><circle cx="127.8" cy="326.5" r="1.2"/><circle cx="123.1" cy="323.5" r="1.2"/><circle cx="121.0" cy="197.3" r="1.2"/><circle cx="127.2" cy="145.0" r="1.2"/><circle cx="125.6" cy="308.8" r="1.2"/><circle cx="122.2" cy="153.4" r="1.2"/><circle cx="124.8" cy="202.5" r="1.2"/><circle cx="122.8" cy="351.2" r="1.2"/><circle cx="127.7" cy="283.8" r="1.2"/><circle cx="123.0" cy="275.2" r="1.2"/><circle cx="121.9" cy="341.0" r="1.2"/><circle cx="120.6" cy="183.0" r="1.2"/><circle cx="123.0" cy="352.1" r="1.2"/><circle cx="128.2" cy="334.4" r="1.2"/><circle cx="122.0" cy="198.4" r="1.2"/><circle cx="124.0" cy="191.3" r="1.2"/><circle cx="128.1" cy="151.2" r="1.2"/><circle cx="120.4" cy="335.1" r="1.2"/><circle cx="122.7" cy="163.7" r="1.2"/><circle cx="125.6" cy="115.1" r="1.2"/><circle cx="121.1" cy="330.7" r="1.2"/><circle cx="127.7" cy="290.7" r="1.2"/><circle cx="127.0" cy="301.5" r="1.2"/><circle cx="121.4" cy="309.5" r="1.2"/><circle cx="125.0" cy="130.1" r="1.2"/><circle cx="124.7" cy="143.3" r="1.2"/><circle cx="125.3" cy="267.8" r="1.2"/><circle cx="122.8" cy="132.5" r="1.2"/><circle cx="123.6" cy="269.7" r="1.2"/><circle cx="122.2" cy="309.9" r="1.2"/><circle cx="122.6" cy="299.5" r="1.2"/><circle cx="121.7" cy="293.6" r="1.2"/><circle cx="127.4" cy="131.3" r="1.2"/><circle cx="127.4" cy="173.8" r="1.2"/><circle cx="123.2" cy="332.0" r="1.2"/><circle cx="125.8" cy="150.5" r="1.2"/><circle cx="124.2" cy="278.1" r="1.2"/><circle cx="122.5" cy="132.4" r="1.2"/><circle cx="123.1" cy="339.3" r="1.2"/><circle cx="128.0" cy="160.7" r="1.2"/><circle cx="123.0" cy="208.0" r="1.2"/><circle cx="124.9" cy="281.1" r="1.2"/><circle cx="127.9" cy="307.7" r="1.2"/><circle cx="122.7" cy="339.0" r="1.2"/><circle cx="126.8" cy="309.9" r="1.2"/><circle cx="121.2" cy="195.1" r="1.2"/><circle cx="126.2" cy="139.3" r="1.2"/><circle cx="126.8" cy="306.2" r="1.2"/><circle cx="127.0" cy="345.9" r="1.2"/><circle cx="126.7" cy="119.8" r="1.2"/><circle cx="126.0" cy="314.7" r="1.2"/><circle cx="128.1" cy="161.7" r="1.2"/><circle cx="122.7" cy="220.7" r="1.2"/><circle cx="124.5" cy="275.4" r="1.2"/><circle cx="122.0" cy="293.3" r="1.2"/><circle cx="121.0" cy="349.7" r="1.2"/><circle cx="123.8" cy="303.6" r="1.2"/><circle cx="126.1" cy="204.2" r="1.2"/><circle cx="126.5" cy="307.2" r="1.2"/><circle cx="121.3" cy="223.2" r="1.2"/><circle cx="127.8" cy="208.7" r="1.2"/><circle cx="122.3" cy="198.7" r="1.2"/><circle cx="123.4" cy="264.2" r="1.2"/><circle cx="127.0" cy="182.5" r="1.2"/><circle cx="127.5" cy="174.9" r="1.2"/><circle cx="126.2" cy="155.9" r="1.2"/><circle cx="123.0" cy="215.1" r="1.2"/><circle cx="124.0" cy="184.8" r="1.2"/><circle cx="127.0" cy="322.8" r="1.2"/><circle cx="123.2" cy="324.4" r="1.2"/><circle cx="126.7" cy="194.5" r="1.2"/><circle cx="126.6" cy="294.0" r="1.2"/><circle cx="124.0" cy="332.8" r="1.2"/><circle cx="127.5" cy="197.4" r="1.2"/><circle cx="123.4" cy="282.8" r="1.2"/><circle cx="126.3" cy="216.0" r="1.2"/><circle cx="125.4" cy="298.5" r="1.2"/><circle cx="123.0" cy="343.3" r="1.2"/><circle cx="124.6" cy="153.8" r="1.2"/><circle cx="125.1" cy="344.4" r="1.2"/><circle cx="124.6" cy="300.7" r="1.2"/><circle cx="121.2" cy="317.4" r="1.2"/><circle cx="128.2" cy="296.3" r="1.2"/><circle cx="128.0" cy="327.6" r="1.2"/><circle cx="120.6" cy="191.1" r="1.2"/><circle cx="127.9" cy="306.3" r="1.2"/><circle cx="124.6" cy="179.2" r="1.2"/><circle cx="121.6" cy="271.3" r="1.2"/><circle cx="126.9" cy="302.8" r="1.2"/><circle cx="123.8" cy="166.8" r="1.2"/><circle cx="126.0" cy="135.6" r="1.2"/><circle cx="126.9" cy="316.8" r="1.2"/><circle cx="124.6" cy="319.1" r="1.2"/><circle cx="120.7" cy="300.7" r="1.2"/><circle cx="126.9" cy="190.2" r="1.2"/><circle cx="125.9" cy="299.6" r="1.2"/><circle cx="127.6" cy="141.4" r="1.2"/><circle cx="122.5" cy="300.2" r="1.2"/><circle cx="126.6" cy="286.9" r="1.2"/><circle cx="127.3" cy="293.7" r="1.2"/><circle cx="123.1" cy="216.9" r="1.2"/><circle cx="123.6" cy="171.6" r="1.2"/><circle cx="123.0" cy="308.6" r="1.2"/><circle cx="121.0" cy="222.2" r="1.2"/><circle cx="122.2" cy="311.1" r="1.2"/><circle cx="123.0" cy="198.4" r="1.2"/><circle cx="121.2" cy="142.3" r="1.2"/><circle cx="126.4" cy="280.2" r="1.2"/><circle cx="123.7" cy="294.5" r="1.2"/><circle cx="124.8" cy="336.1" r="1.2"/><circle cx="122.6" cy="330.4" r="1.2"/><circle cx="123.2" cy="134.4" r="1.2"/><circle cx="126.3" cy="314.4" r="1.2"/><circle cx="124.1" cy="178.6" r="1.2"/><circle cx="125.1" cy="304.9" r="1.2"/><circle cx="123.7" cy="201.5" r="1.2"/><circle cx="124.8" cy="190.3" r="1.2"/><circle cx="125.6" cy="260.0" r="1.2"/><circle cx="122.4" cy="277.4" r="1.2"/><circle cx="124.5" cy="304.5" r="1.2"/><circle cx="125.8" cy="296.7" r="1.2"/><circle cx="121.0" cy="302.4" r="1.2"/><circle cx="128.0" cy="202.4" r="1.2"/><circle cx="124.3" cy="302.2" r="1.2"/><circle cx="122.3" cy="194.8" r="1.2"/><circle cx="126.4" cy="292.2" r="1.2"/><circle cx="126.6" cy="220.6" r="1.2"/><circle cx="125.3" cy="284.4" r="1.2"/><circle cx="126.4" cy="120.1" r="1.2"/><circle cx="122.1" cy="267.3" r="1.2"/><circle cx="124.5" cy="170.5" r="1.2"/><circle cx="126.2" cy="202.8" r="1.2"/><circle cx="127.6" cy="138.9" r="1.2"/><circle cx="125.4" cy="299.4" r="1.2"/><circle cx="125.1" cy="331.3" r="1.2"/><circle cx="123.4" cy="196.5" r="1.2"/><circle cx="124.9" cy="146.4" r="1.2"/><circle cx="124.7" cy="294.1" r="1.2"/><circle cx="127.5" cy="151.3" r="1.2"/><circle cx="126.9" cy="331.0" r="1.2"/><circle cx="126.2" cy="150.3" r="1.2"/><circle cx="127.7" cy="198.0" r="1.2"/><circle cx="122.3" cy="265.0" r="1.2"/><circle cx="126.5" cy="149.3" r="1.2"/><circle cx="124.0" cy="189.7" r="1.2"/><circle cx="126.3" cy="181.3" r="1.2"/><circle cx="122.7" cy="307.0" r="1.2"/><circle cx="124.0" cy="348.9" r="1.2"/><circle cx="126.9" cy="198.2" r="1.2"/><circle cx="120.6" cy="316.8" r="1.2"/><circle cx="122.6" cy="154.2" r="1.2"/><circle cx="124.2" cy="287.6" r="1.2"/><circle cx="127.1" cy="213.2" r="1.2"/><circle cx="122.5" cy="183.8" r="1.2"/><circle cx="126.9" cy="320.8" r="1.2"/><circle cx="122.3" cy="311.2" r="1.2"/><circle cx="122.7" cy="152.8" r="1.2"/><circle cx="124.7" cy="184.6" r="1.2"/><circle cx="125.5" cy="320.5" r="1.2"/><circle cx="127.3" cy="350.4" r="1.2"/><circle cx="127.3" cy="292.8" r="1.2"/><circle cx="122.3" cy="327.9" r="1.2"/><circle cx="126.3" cy="348.4" r="1.2"/><circle cx="125.4" cy="310.5" r="1.2"/><circle cx="123.4" cy="297.7" r="1.2"/><circle cx="126.5" cy="170.8" r="1.2"/><circle cx="127.5" cy="199.7" r="1.2"/><circle cx="124.1" cy="294.6" r="1.2"/><circle cx="127.6" cy="337.0" r="1.2"/><circle cx="121.3" cy="186.4" r="1.2"/><circle cx="121.6" cy="204.8" r="1.2"/><circle cx="125.8" cy="122.3" r="1.2"/><circle cx="122.7" cy="304.8" r="1.2"/><circle cx="125.0" cy="216.0" r="1.2"/><circle cx="124.3" cy="317.7" r="1.2"/><circle cx="121.5" cy="173.2" r="1.2"/><circle cx="126.3" cy="299.8" r="1.2"/><circle cx="126.2" cy="301.7" r="1.2"/><circle cx="121.9" cy="222.3" r="1.2"/><circle cx="122.4" cy="164.2" r="1.2"/><circle cx="126.7" cy="206.4" r="1.2"/><circle cx="127.6" cy="311.0" r="1.2"/><circle cx="127.3" cy="164.4" r="1.2"/><circle cx="124.3" cy="142.9" r="1.2"/><circle cx="123.4" cy="221.7" r="1.2"/><circle cx="123.9" cy="173.4" r="1.2"/><circle cx="121.7" cy="318.0" r="1.2"/><circle cx="124.3" cy="320.2" r="1.2"/><circle cx="122.1" cy="340.5" r="1.2"/><circle cx="121.6" cy="323.2" r="1.2"/><circle cx="123.3" cy="298.1" r="1.2"/><circle cx="120.8" cy="163.9" r="1.2"/><circle cx="124.1" cy="320.9" r="1.2"/><circle cx="125.9" cy="308.9" r="1.2"/><circle cx="125.5" cy="311.3" r="1.2"/><circle cx="128.1" cy="304.9" r="1.2"/><circle cx="127.4" cy="321.9" r="1.2"/><circle cx="125.4" cy="185.7" r="1.2"/><circle cx="127.5" cy="301.6" r="1.2"/><circle cx="123.9" cy="273.9" r="1.2"/><circle cx="126.7" cy="193.3" r="1.2"/><circle cx="122.6" cy="191.2" r="1.2"/><circle cx="124.5" cy="157.4" r="1.2"/><circle cx="126.2" cy="262.9" r="1.2"/><circle cx="125.1" cy="199.3" r="1.2"/><circle cx="124.4" cy="210.6" r="1.2"/><circle cx="126.6" cy="324.9" r="1.2"/><circle cx="122.8" cy="302.8" r="1.2"/><circle cx="126.9" cy="302.6" r="1.2"/><circle cx="120.4" cy="348.4" r="1.2"/><circle cx="122.2" cy="170.1" r="1.2"/><circle cx="122.0" cy="271.0" r="1.2"/><circle cx="122.4" cy="143.4" r="1.2"/><circle cx="127.9" cy="204.3" r="1.2"/><circle cx="120.5" cy="341.4" r="1.2"/><circle cx="122.7" cy="141.9" r="1.2"/><circle cx="124.9" cy="312.6" r="1.2"/><circle cx="125.9" cy="326.9" r="1.2"/><circle cx="126.3" cy="271.4" r="1.2"/><circle cx="123.4" cy="317.6" r="1.2"/><circle cx="122.1" cy="215.3" r="1.2"/><circle cx="127.1" cy="196.3" r="1.2"/><circle cx="121.8" cy="270.2" r="1.2"/><circle cx="120.8" cy="165.5" r="1.2"/><circle cx="122.2" cy="187.5" r="1.2"/><circle cx="124.2" cy="187.1" r="1.2"/><circle cx="127.8" cy="349.4" r="1.2"/><circle cx="126.1" cy="192.8" r="1.2"/><circle cx="124.8" cy="172.3" r="1.2"/><circle cx="124.5" cy="339.4" r="1.2"/><circle cx="125.8" cy="153.8" r="1.2"/><circle cx="125.3" cy="344.5" r="1.2"/><circle cx="123.0" cy="325.1" r="1.2"/><circle cx="121.0" cy="298.1" r="1.2"/><circle cx="121.9" cy="212.1" r="1.2"/><circle cx="126.6" cy="166.0" r="1.2"/><circle cx="125.4" cy="146.6" r="1.2"/><circle cx="126.7" cy="146.0" r="1.2"/><circle cx="120.7" cy="195.5" r="1.2"/><circle cx="127.5" cy="207.3" r="1.2"/><circle cx="123.4" cy="336.5" r="1.2"/><circle cx="127.7" cy="278.8" r="1.2"/><circle cx="125.1" cy="349.9" r="1.2"/><circle cx="124.7" cy="308.0" r="1.2"/><circle cx="125.5" cy="140.2" r="1.2"/><circle cx="123.0" cy="129.8" r="1.2"/><circle cx="126.8" cy="132.4" r="1.2"/><circle cx="122.3" cy="104.5" r="1.2"/><circle cx="123.8" cy="128.6" r="1.2"/><circle cx="121.6" cy="115.3" r="1.2"/><circle cx="125.3" cy="100.1" r="1.2"/><circle cx="121.4" cy="103.2" r="1.2"/><circle cx="122.1" cy="121.9" r="1.2"/><circle cx="126.2" cy="110.2" r="1.2"/><circle cx="124.3" cy="137.3" r="1.2"/><circle cx="125.4" cy="102.6" r="1.2"/><circle cx="125.9" cy="96.7" r="1.2"/><circle cx="125.0" cy="149.8" r="1.2"/><circle cx="122.2" cy="112.9" r="1.2"/><circle cx="125.7" cy="123.5" r="1.2"/><circle cx="121.6" cy="107.3" r="1.2"/><circle cx="122.7" cy="107.3" r="1.2"/><circle cx="123.9" cy="117.7" r="1.2"/><circle cx="121.6" cy="138.6" r="1.2"/><circle cx="121.5" cy="98.1" r="1.2"/><circle cx="125.4" cy="141.2" r="1.2"/><circle cx="126.0" cy="149.5" r="1.2"/><circle cx="123.4" cy="126.2" r="1.2"/><circle cx="123.5" cy="115.4" r="1.2"/><circle cx="122.3" cy="108.6" r="1.2"/><circle cx="124.5" cy="105.9" r="1.2"/><circle cx="124.9" cy="113.5" r="1.2"/><circle cx="127.3" cy="142.0" r="1.2"/><circle cx="121.1" cy="96.2" r="1.2"/><circle cx="127.2" cy="138.4" r="1.2"/><circle cx="127.7" cy="132.0" r="1.2"/><circle cx="123.2" cy="97.0" r="1.2"/><circle cx="125.9" cy="99.8" r="1.2"/><circle cx="126.6" cy="135.7" r="1.2"/><circle cx="121.5" cy="80.9" r="1.2"/><circle cx="124.2" cy="78.7" r="1.2"/><circle cx="121.0" cy="80.7" r="1.2"/><circle cx="126.7" cy="82.3" r="1.2"/></g><g fill="#469cde" fill-opacity="0.78" stroke="#fff" stroke-width="0.3" stroke-opacity="0.7"><circle cx="218.4" cy="129.8" r="1.2"/><circle cx="219.0" cy="403.0" r="1.2"/><circle cx="219.5" cy="349.3" r="1.2"/><circle cx="216.5" cy="342.9" r="1.2"/><circle cx="215.3" cy="203.1" r="1.2"/><circle cx="220.5" cy="321.0" r="1.2"/><circle cx="220.9" cy="342.6" r="1.2"/><circle cx="219.0" cy="245.3" r="1.2"/><circle cx="220.8" cy="317.4" r="1.2"/><circle cx="219.4" cy="392.7" r="1.2"/><circle cx="218.8" cy="336.2" r="1.2"/><circle cx="217.6" cy="317.1" r="1.2"/><circle cx="217.2" cy="189.1" r="1.2"/><circle cx="218.0" cy="202.0" r="1.2"/><circle cx="216.3" cy="363.3" r="1.2"/><circle cx="217.6" cy="348.9" r="1.2"/><circle cx="218.1" cy="361.0" r="1.2"/><circle cx="215.1" cy="328.8" r="1.2"/><circle cx="217.4" cy="328.5" r="1.2"/><circle cx="216.7" cy="321.9" r="1.2"/><circle cx="219.0" cy="348.0" r="1.2"/><circle cx="220.1" cy="244.2" r="1.2"/><circle cx="218.8" cy="316.1" r="1.2"/><circle cx="219.1" cy="310.1" r="1.2"/><circle cx="218.8" cy="339.3" r="1.2"/><circle cx="216.5" cy="221.5" r="1.2"/><circle cx="217.3" cy="176.8" r="1.2"/><circle cx="220.3" cy="194.7" r="1.2"/><circle cx="221.0" cy="214.1" r="1.2"/><circle cx="216.1" cy="364.3" r="1.2"/><circle cx="215.0" cy="345.8" r="1.2"/><circle cx="221.1" cy="349.8" r="1.2"/><circle cx="219.2" cy="279.0" r="1.2"/><circle cx="218.8" cy="198.0" r="1.2"/><circle cx="220.1" cy="308.9" r="1.2"/><circle cx="218.7" cy="365.2" r="1.2"/><circle cx="220.7" cy="318.4" r="1.2"/><circle cx="216.5" cy="335.7" r="1.2"/><circle cx="217.7" cy="253.8" r="1.2"/><circle cx="219.2" cy="208.1" r="1.2"/><circle cx="216.3" cy="335.0" r="1.2"/><circle cx="219.5" cy="313.7" r="1.2"/><circle cx="216.6" cy="247.5" r="1.2"/><circle cx="219.4" cy="229.8" r="1.2"/><circle cx="220.0" cy="343.4" r="1.2"/><circle cx="217.6" cy="241.7" r="1.2"/><circle cx="221.2" cy="328.5" r="1.2"/><circle cx="218.9" cy="230.1" r="1.2"/><circle cx="219.7" cy="350.2" r="1.2"/><circle cx="215.0" cy="254.0" r="1.2"/><circle cx="215.6" cy="312.3" r="1.2"/><circle cx="219.5" cy="377.2" r="1.2"/><circle cx="220.9" cy="346.0" r="1.2"/><circle cx="218.9" cy="348.2" r="1.2"/><circle cx="220.7" cy="246.1" r="1.2"/><circle cx="215.3" cy="361.8" r="1.2"/><circle cx="220.6" cy="256.6" r="1.2"/><circle cx="220.3" cy="397.6" r="1.2"/><circle cx="218.9" cy="370.7" r="1.2"/><circle cx="217.6" cy="339.0" r="1.2"/><circle cx="219.4" cy="360.5" r="1.2"/><circle cx="216.5" cy="323.9" r="1.2"/><circle cx="219.2" cy="347.8" r="1.2"/><circle cx="219.3" cy="202.8" r="1.2"/><circle cx="218.3" cy="397.8" r="1.2"/><circle cx="216.6" cy="356.2" r="1.2"/><circle cx="214.9" cy="206.5" r="1.2"/><circle cx="216.2" cy="226.7" r="1.2"/><circle cx="220.2" cy="328.3" r="1.2"/><circle cx="216.3" cy="351.4" r="1.2"/><circle cx="215.4" cy="207.8" r="1.2"/><circle cx="216.5" cy="387.0" r="1.2"/><circle cx="218.2" cy="247.5" r="1.2"/><circle cx="218.6" cy="400.6" r="1.2"/><circle cx="220.5" cy="350.1" r="1.2"/><circle cx="220.4" cy="313.8" r="1.2"/><circle cx="221.1" cy="251.2" r="1.2"/><circle cx="220.6" cy="196.6" r="1.2"/><circle cx="217.8" cy="194.5" r="1.2"/><circle cx="215.8" cy="335.4" r="1.2"/><circle cx="221.0" cy="352.7" r="1.2"/><circle cx="216.4" cy="373.0" r="1.2"/><circle cx="218.9" cy="251.7" r="1.2"/><circle cx="216.6" cy="379.7" r="1.2"/><circle cx="220.1" cy="237.4" r="1.2"/><circle cx="216.2" cy="380.3" r="1.2"/><circle cx="217.6" cy="375.3" r="1.2"/><circle cx="216.3" cy="209.1" r="1.2"/><circle cx="220.4" cy="364.8" r="1.2"/><circle cx="218.9" cy="344.3" r="1.2"/><circle cx="218.9" cy="344.1" r="1.2"/><circle cx="216.9" cy="361.8" r="1.2"/><circle cx="216.0" cy="322.8" r="1.2"/><circle cx="220.4" cy="317.9" r="1.2"/><circle cx="219.8" cy="252.2" r="1.2"/><circle cx="219.6" cy="365.5" r="1.2"/><circle cx="221.3" cy="371.7" r="1.2"/><circle cx="218.5" cy="210.3" r="1.2"/><circle cx="216.0" cy="352.5" r="1.2"/><circle cx="218.8" cy="233.2" r="1.2"/><circle cx="216.7" cy="215.0" r="1.2"/><circle cx="218.2" cy="217.7" r="1.2"/><circle cx="217.8" cy="328.1" r="1.2"/><circle cx="218.5" cy="234.0" r="1.2"/><circle cx="220.8" cy="226.6" r="1.2"/><circle cx="220.1" cy="197.0" r="1.2"/><circle cx="217.6" cy="243.1" r="1.2"/><circle cx="220.1" cy="352.8" r="1.2"/><circle cx="220.3" cy="175.4" r="1.2"/><circle cx="219.9" cy="313.2" r="1.2"/><circle cx="218.4" cy="332.0" r="1.2"/><circle cx="220.7" cy="184.6" r="1.2"/><circle cx="218.0" cy="236.8" r="1.2"/><circle cx="215.6" cy="372.7" r="1.2"/><circle cx="216.8" cy="400.3" r="1.2"/><circle cx="219.1" cy="363.2" r="1.2"/><circle cx="217.3" cy="212.1" r="1.2"/><circle cx="217.6" cy="351.5" r="1.2"/><circle cx="217.6" cy="303.3" r="1.2"/><circle cx="216.1" cy="212.3" r="1.2"/><circle cx="215.5" cy="312.8" r="1.2"/><circle cx="215.2" cy="376.1" r="1.2"/><circle cx="219.2" cy="367.5" r="1.2"/><circle cx="217.0" cy="258.0" r="1.2"/><circle cx="217.8" cy="188.4" r="1.2"/><circle cx="220.9" cy="371.6" r="1.2"/><circle cx="218.8" cy="396.8" r="1.2"/><circle cx="220.1" cy="318.7" r="1.2"/><circle cx="219.8" cy="223.3" r="1.2"/><circle cx="221.0" cy="323.9" r="1.2"/><circle cx="215.3" cy="343.4" r="1.2"/><circle cx="217.4" cy="313.1" r="1.2"/><circle cx="221.0" cy="249.0" r="1.2"/><circle cx="217.9" cy="227.7" r="1.2"/><circle cx="221.0" cy="237.4" r="1.2"/><circle cx="216.1" cy="184.7" r="1.2"/><circle cx="215.3" cy="229.2" r="1.2"/><circle cx="220.6" cy="384.3" r="1.2"/><circle cx="217.7" cy="169.1" r="1.2"/><circle cx="218.2" cy="347.1" r="1.2"/><circle cx="220.9" cy="354.7" r="1.2"/><circle cx="216.3" cy="261.4" r="1.2"/><circle cx="221.1" cy="331.0" r="1.2"/><circle cx="217.4" cy="222.4" r="1.2"/><circle cx="216.5" cy="340.1" r="1.2"/><circle cx="216.4" cy="344.8" r="1.2"/><circle cx="218.2" cy="347.9" r="1.2"/><circle cx="217.9" cy="315.1" r="1.2"/><circle cx="220.6" cy="390.6" r="1.2"/><circle cx="215.2" cy="365.7" r="1.2"/><circle cx="215.2" cy="328.0" r="1.2"/><circle cx="215.9" cy="341.8" r="1.2"/><circle cx="218.8" cy="233.0" r="1.2"/><circle cx="219.9" cy="381.4" r="1.2"/><circle cx="218.0" cy="337.3" r="1.2"/><circle cx="218.8" cy="370.6" r="1.2"/><circle cx="219.0" cy="235.8" r="1.2"/><circle cx="215.2" cy="395.2" r="1.2"/><circle cx="216.5" cy="198.6" r="1.2"/><circle cx="221.3" cy="321.9" r="1.2"/><circle cx="217.0" cy="199.7" r="1.2"/><circle cx="221.0" cy="216.2" r="1.2"/><circle cx="218.1" cy="351.5" r="1.2"/><circle cx="216.3" cy="189.1" r="1.2"/><circle cx="214.9" cy="255.8" r="1.2"/><circle cx="216.3" cy="216.6" r="1.2"/><circle cx="217.0" cy="363.2" r="1.2"/><circle cx="217.7" cy="193.2" r="1.2"/><circle cx="217.8" cy="245.5" r="1.2"/><circle cx="218.4" cy="364.1" r="1.2"/><circle cx="217.9" cy="342.3" r="1.2"/><circle cx="215.1" cy="344.2" r="1.2"/><circle cx="216.8" cy="398.9" r="1.2"/><circle cx="221.0" cy="176.1" r="1.2"/><circle cx="215.1" cy="339.7" r="1.2"/><circle cx="219.6" cy="349.2" r="1.2"/><circle cx="217.9" cy="349.6" r="1.2"/><circle cx="219.4" cy="345.5" r="1.2"/><circle cx="217.0" cy="190.7" r="1.2"/><circle cx="217.3" cy="193.6" r="1.2"/><circle cx="218.2" cy="352.6" r="1.2"/><circle cx="220.7" cy="333.2" r="1.2"/><circle cx="217.0" cy="230.6" r="1.2"/><circle cx="216.2" cy="169.8" r="1.2"/><circle cx="215.1" cy="322.3" r="1.2"/><circle cx="220.5" cy="195.1" r="1.2"/><circle cx="216.9" cy="349.6" r="1.2"/><circle cx="215.7" cy="246.4" r="1.2"/><circle cx="218.7" cy="357.1" r="1.2"/><circle cx="220.3" cy="196.3" r="1.2"/><circle cx="218.7" cy="315.6" r="1.2"/><circle cx="215.9" cy="197.3" r="1.2"/><circle cx="217.5" cy="353.6" r="1.2"/><circle cx="216.6" cy="326.3" r="1.2"/><circle cx="215.0" cy="225.1" r="1.2"/><circle cx="221.1" cy="387.8" r="1.2"/><circle cx="217.8" cy="341.7" r="1.2"/><circle cx="215.8" cy="245.5" r="1.2"/><circle cx="220.6" cy="364.0" r="1.2"/><circle cx="221.2" cy="255.2" r="1.2"/><circle cx="220.1" cy="381.0" r="1.2"/><circle cx="216.5" cy="237.5" r="1.2"/><circle cx="216.2" cy="396.0" r="1.2"/><circle cx="218.3" cy="188.2" r="1.2"/><circle cx="218.6" cy="347.9" r="1.2"/><circle cx="220.5" cy="236.3" r="1.2"/><circle cx="221.1" cy="267.4" r="1.2"/><circle cx="220.7" cy="336.2" r="1.2"/><circle cx="217.1" cy="183.5" r="1.2"/><circle cx="218.6" cy="222.9" r="1.2"/><circle cx="215.7" cy="198.3" r="1.2"/><circle cx="218.2" cy="348.5" r="1.2"/><circle cx="215.4" cy="222.5" r="1.2"/><circle cx="215.6" cy="316.4" r="1.2"/><circle cx="215.7" cy="243.9" r="1.2"/><circle cx="216.8" cy="225.4" r="1.2"/><circle cx="216.9" cy="379.1" r="1.2"/><circle cx="219.4" cy="318.1" r="1.2"/><circle cx="215.4" cy="338.0" r="1.2"/><circle cx="215.6" cy="344.4" r="1.2"/><circle cx="219.1" cy="359.0" r="1.2"/><circle cx="219.2" cy="230.8" r="1.2"/><circle cx="219.4" cy="192.3" r="1.2"/><circle cx="219.5" cy="309.4" r="1.2"/><circle cx="219.1" cy="212.2" r="1.2"/><circle cx="218.4" cy="175.0" r="1.2"/><circle cx="219.6" cy="375.4" r="1.2"/><circle cx="215.4" cy="335.0" r="1.2"/><circle cx="216.3" cy="264.2" r="1.2"/><circle cx="219.6" cy="205.3" r="1.2"/><circle cx="216.1" cy="351.2" r="1.2"/><circle cx="218.3" cy="322.3" r="1.2"/><circle cx="216.6" cy="213.1" r="1.2"/><circle cx="217.7" cy="395.2" r="1.2"/><circle cx="220.2" cy="383.6" r="1.2"/><circle cx="219.1" cy="377.1" r="1.2"/><circle cx="217.7" cy="359.8" r="1.2"/><circle cx="216.7" cy="322.0" r="1.2"/><circle cx="220.1" cy="238.1" r="1.2"/><circle cx="219.1" cy="338.1" r="1.2"/><circle cx="217.7" cy="208.4" r="1.2"/><circle cx="220.5" cy="333.8" r="1.2"/><circle cx="219.3" cy="189.1" r="1.2"/><circle cx="220.7" cy="172.0" r="1.2"/><circle cx="219.2" cy="345.7" r="1.2"/><circle cx="220.7" cy="246.8" r="1.2"/><circle cx="218.4" cy="343.5" r="1.2"/><circle cx="219.4" cy="353.5" r="1.2"/><circle cx="220.3" cy="361.0" r="1.2"/><circle cx="215.5" cy="333.7" r="1.2"/><circle cx="217.9" cy="362.7" r="1.2"/><circle cx="218.8" cy="339.0" r="1.2"/><circle cx="215.3" cy="377.1" r="1.2"/><circle cx="220.0" cy="370.9" r="1.2"/><circle cx="219.5" cy="182.8" r="1.2"/><circle cx="220.9" cy="231.6" r="1.2"/><circle cx="217.3" cy="257.3" r="1.2"/><circle cx="217.9" cy="228.6" r="1.2"/><circle cx="220.7" cy="213.6" r="1.2"/><circle cx="217.5" cy="366.9" r="1.2"/><circle cx="220.2" cy="176.7" r="1.2"/><circle cx="217.6" cy="214.6" r="1.2"/><circle cx="217.1" cy="351.1" r="1.2"/><circle cx="216.7" cy="222.9" r="1.2"/><circle cx="216.3" cy="229.8" r="1.2"/><circle cx="217.7" cy="389.5" r="1.2"/><circle cx="215.9" cy="351.4" r="1.2"/><circle cx="219.4" cy="301.9" r="1.2"/><circle cx="221.1" cy="205.2" r="1.2"/><circle cx="215.5" cy="231.9" r="1.2"/><circle cx="215.4" cy="394.7" r="1.2"/><circle cx="214.9" cy="355.0" r="1.2"/><circle cx="220.9" cy="190.1" r="1.2"/><circle cx="215.4" cy="344.7" r="1.2"/><circle cx="219.3" cy="254.3" r="1.2"/><circle cx="216.8" cy="346.2" r="1.2"/><circle cx="216.2" cy="237.1" r="1.2"/><circle cx="216.5" cy="203.9" r="1.2"/><circle cx="219.2" cy="174.7" r="1.2"/><circle cx="215.0" cy="237.2" r="1.2"/><circle cx="220.4" cy="364.8" r="1.2"/><circle cx="218.5" cy="369.9" r="1.2"/><circle cx="216.4" cy="341.9" r="1.2"/><circle cx="216.2" cy="349.5" r="1.2"/><circle cx="219.1" cy="217.2" r="1.2"/><circle cx="218.9" cy="249.3" r="1.2"/><circle cx="216.9" cy="371.4" r="1.2"/><circle cx="217.1" cy="396.8" r="1.2"/><circle cx="218.0" cy="277.7" r="1.2"/><circle cx="220.7" cy="353.0" r="1.2"/><circle cx="218.3" cy="378.6" r="1.2"/><circle cx="219.9" cy="401.5" r="1.2"/><circle cx="219.0" cy="237.2" r="1.2"/><circle cx="218.5" cy="338.4" r="1.2"/><circle cx="218.0" cy="257.6" r="1.2"/><circle cx="219.3" cy="308.8" r="1.2"/><circle cx="218.0" cy="307.8" r="1.2"/><circle cx="219.5" cy="233.8" r="1.2"/><circle cx="216.2" cy="174.4" r="1.2"/><circle cx="217.0" cy="351.8" r="1.2"/><circle cx="220.5" cy="343.4" r="1.2"/><circle cx="217.4" cy="361.8" r="1.2"/><circle cx="220.3" cy="208.8" r="1.2"/><circle cx="220.9" cy="225.6" r="1.2"/><circle cx="218.6" cy="331.2" r="1.2"/><circle cx="215.6" cy="379.4" r="1.2"/><circle cx="219.7" cy="310.6" r="1.2"/><circle cx="219.2" cy="218.4" r="1.2"/><circle cx="216.8" cy="331.0" r="1.2"/><circle cx="220.4" cy="385.9" r="1.2"/><circle cx="218.0" cy="366.0" r="1.2"/><circle cx="215.3" cy="371.3" r="1.2"/><circle cx="215.3" cy="263.0" r="1.2"/><circle cx="216.4" cy="230.6" r="1.2"/><circle cx="218.8" cy="366.4" r="1.2"/><circle cx="220.1" cy="354.6" r="1.2"/><circle cx="215.5" cy="363.4" r="1.2"/><circle cx="215.0" cy="257.9" r="1.2"/><circle cx="218.9" cy="235.3" r="1.2"/><circle cx="217.5" cy="226.2" r="1.2"/><circle cx="217.7" cy="366.4" r="1.2"/><circle cx="220.2" cy="375.4" r="1.2"/><circle cx="220.8" cy="252.2" r="1.2"/><circle cx="221.1" cy="367.0" r="1.2"/><circle cx="219.9" cy="255.5" r="1.2"/><circle cx="216.3" cy="301.3" r="1.2"/><circle cx="215.9" cy="327.2" r="1.2"/><circle cx="218.7" cy="222.5" r="1.2"/><circle cx="221.0" cy="231.6" r="1.2"/><circle cx="215.4" cy="231.4" r="1.2"/><circle cx="218.2" cy="230.1" r="1.2"/><circle cx="217.4" cy="319.4" r="1.2"/><circle cx="217.5" cy="197.5" r="1.2"/><circle cx="216.6" cy="353.6" r="1.2"/><circle cx="216.6" cy="213.2" r="1.2"/><circle cx="217.3" cy="278.7" r="1.2"/><circle cx="215.6" cy="336.9" r="1.2"/><circle cx="218.4" cy="205.6" r="1.2"/><circle cx="217.8" cy="262.7" r="1.2"/><circle cx="219.5" cy="326.7" r="1.2"/><circle cx="219.0" cy="324.9" r="1.2"/><circle cx="221.0" cy="370.1" r="1.2"/><circle cx="217.1" cy="354.2" r="1.2"/><circle cx="220.5" cy="202.0" r="1.2"/><circle cx="217.4" cy="360.7" r="1.2"/><circle cx="219.1" cy="324.8" r="1.2"/><circle cx="220.1" cy="341.3" r="1.2"/><circle cx="217.4" cy="210.1" r="1.2"/><circle cx="217.8" cy="310.7" r="1.2"/><circle cx="218.9" cy="343.8" r="1.2"/><circle cx="215.6" cy="355.8" r="1.2"/><circle cx="218.3" cy="356.9" r="1.2"/><circle cx="215.5" cy="221.7" r="1.2"/><circle cx="216.3" cy="360.7" r="1.2"/><circle cx="218.9" cy="327.5" r="1.2"/><circle cx="221.1" cy="340.1" r="1.2"/><circle cx="221.3" cy="363.4" r="1.2"/><circle cx="216.6" cy="261.6" r="1.2"/><circle cx="215.8" cy="375.4" r="1.2"/><circle cx="218.2" cy="368.2" r="1.2"/><circle cx="217.7" cy="357.2" r="1.2"/><circle cx="217.3" cy="255.2" r="1.2"/><circle cx="219.8" cy="321.5" r="1.2"/><circle cx="219.4" cy="212.8" r="1.2"/><circle cx="218.5" cy="351.0" r="1.2"/><circle cx="218.9" cy="369.8" r="1.2"/><circle cx="218.6" cy="210.3" r="1.2"/><circle cx="219.2" cy="349.2" r="1.2"/><circle cx="220.8" cy="343.2" r="1.2"/><circle cx="221.0" cy="180.7" r="1.2"/><circle cx="221.2" cy="374.9" r="1.2"/><circle cx="220.4" cy="312.4" r="1.2"/><circle cx="215.6" cy="231.9" r="1.2"/><circle cx="217.8" cy="178.6" r="1.2"/><circle cx="219.9" cy="353.8" r="1.2"/><circle cx="216.8" cy="245.8" r="1.2"/><circle cx="218.8" cy="319.1" r="1.2"/><circle cx="215.3" cy="217.2" r="1.2"/><circle cx="216.2" cy="332.6" r="1.2"/><circle cx="217.5" cy="259.4" r="1.2"/><circle cx="215.3" cy="387.9" r="1.2"/><circle cx="216.7" cy="392.5" r="1.2"/><circle cx="216.9" cy="390.0" r="1.2"/><circle cx="220.4" cy="398.2" r="1.2"/><circle cx="215.4" cy="391.1" r="1.2"/><circle cx="217.2" cy="391.9" r="1.2"/><circle cx="216.3" cy="397.4" r="1.2"/><circle cx="219.3" cy="394.3" r="1.2"/><circle cx="220.0" cy="387.7" r="1.2"/><circle cx="215.4" cy="389.8" r="1.2"/><circle cx="220.3" cy="394.9" r="1.2"/><circle cx="219.3" cy="389.6" r="1.2"/><circle cx="216.4" cy="390.2" r="1.2"/><circle cx="220.6" cy="395.1" r="1.2"/><circle cx="216.9" cy="393.4" r="1.2"/><circle cx="219.8" cy="390.5" r="1.2"/><circle cx="215.5" cy="394.3" r="1.2"/><circle cx="217.8" cy="395.2" r="1.2"/></g><g fill="#e74c3c" fill-opacity="0.78" stroke="#fff" stroke-width="0.3" stroke-opacity="0.7"><circle cx="254.1" cy="29.4" r="1.2"/><circle cx="257.0" cy="365.5" r="1.2"/><circle cx="253.2" cy="324.5" r="1.2"/><circle cx="257.4" cy="275.9" r="1.2"/><circle cx="256.6" cy="115.9" r="1.2"/><circle cx="255.3" cy="242.7" r="1.2"/><circle cx="256.8" cy="199.7" r="1.2"/><circle cx="258.1" cy="364.0" r="1.2"/><circle cx="258.1" cy="299.0" r="1.2"/><circle cx="254.2" cy="214.1" r="1.2"/><circle cx="253.2" cy="195.8" r="1.2"/><circle cx="256.1" cy="312.6" r="1.2"/><circle cx="257.9" cy="127.5" r="1.2"/><circle cx="255.2" cy="320.8" r="1.2"/><circle cx="250.4" cy="297.4" r="1.2"/><circle cx="251.6" cy="246.5" r="1.2"/><circle cx="253.9" cy="303.7" r="1.2"/><circle cx="255.9" cy="209.8" r="1.2"/><circle cx="257.3" cy="138.7" r="1.2"/><circle cx="253.8" cy="225.3" r="1.2"/><circle cx="254.3" cy="115.8" r="1.2"/><circle cx="254.3" cy="125.4" r="1.2"/><circle cx="251.5" cy="248.3" r="1.2"/><circle cx="250.2" cy="322.3" r="1.2"/><circle cx="254.4" cy="152.7" r="1.2"/><circle cx="254.2" cy="266.3" r="1.2"/><circle cx="257.1" cy="358.9" r="1.2"/><circle cx="251.7" cy="322.8" r="1.2"/><circle cx="257.0" cy="338.8" r="1.2"/><circle cx="252.4" cy="298.1" r="1.2"/><circle cx="254.5" cy="283.8" r="1.2"/><circle cx="255.9" cy="282.5" r="1.2"/><circle cx="251.4" cy="285.9" r="1.2"/><circle cx="257.8" cy="257.2" r="1.2"/><circle cx="257.9" cy="194.4" r="1.2"/><circle cx="258.0" cy="161.1" r="1.2"/><circle cx="250.2" cy="119.8" r="1.2"/><circle cx="255.3" cy="197.4" r="1.2"/><circle cx="255.6" cy="313.0" r="1.2"/><circle cx="257.2" cy="277.1" r="1.2"/><circle cx="251.8" cy="143.5" r="1.2"/><circle cx="251.2" cy="320.3" r="1.2"/><circle cx="256.7" cy="112.7" r="1.2"/><circle cx="252.3" cy="345.9" r="1.2"/><circle cx="250.7" cy="294.3" r="1.2"/><circle cx="250.9" cy="277.7" r="1.2"/><circle cx="254.8" cy="220.2" r="1.2"/><circle cx="254.5" cy="322.3" r="1.2"/><circle cx="255.3" cy="96.5" r="1.2"/><circle cx="256.0" cy="102.3" r="1.2"/><circle cx="250.2" cy="270.6" r="1.2"/><circle cx="257.7" cy="175.9" r="1.2"/><circle cx="256.2" cy="211.9" r="1.2"/><circle cx="257.7" cy="273.9" r="1.2"/><circle cx="256.3" cy="113.4" r="1.2"/><circle cx="253.3" cy="360.2" r="1.2"/><circle cx="252.2" cy="298.5" r="1.2"/><circle cx="257.5" cy="128.3" r="1.2"/><circle cx="253.6" cy="308.1" r="1.2"/><circle cx="254.1" cy="273.2" r="1.2"/><circle cx="255.8" cy="300.0" r="1.2"/><circle cx="255.7" cy="308.0" r="1.2"/><circle cx="255.7" cy="362.7" r="1.2"/><circle cx="255.2" cy="132.9" r="1.2"/><circle cx="254.3" cy="364.3" r="1.2"/><circle cx="256.3" cy="260.4" r="1.2"/><circle cx="253.4" cy="152.0" r="1.2"/><circle cx="252.3" cy="199.0" r="1.2"/><circle cx="257.5" cy="195.7" r="1.2"/><circle cx="257.0" cy="337.3" r="1.2"/><circle cx="255.9" cy="271.4" r="1.2"/><circle cx="251.5" cy="120.1" r="1.2"/><circle cx="250.6" cy="304.4" r="1.2"/><circle cx="257.6" cy="265.6" r="1.2"/><circle cx="257.7" cy="320.4" r="1.2"/><circle cx="252.4" cy="114.3" r="1.2"/><circle cx="255.2" cy="330.5" r="1.2"/><circle cx="250.3" cy="336.7" r="1.2"/><circle cx="253.7" cy="97.6" r="1.2"/><circle cx="255.8" cy="260.5" r="1.2"/><circle cx="253.1" cy="133.7" r="1.2"/><circle cx="256.7" cy="272.5" r="1.2"/><circle cx="257.5" cy="125.9" r="1.2"/><circle cx="251.3" cy="335.3" r="1.2"/><circle cx="255.7" cy="148.0" r="1.2"/><circle cx="253.2" cy="297.0" r="1.2"/><circle cx="251.6" cy="294.6" r="1.2"/><circle cx="253.0" cy="182.4" r="1.2"/><circle cx="254.1" cy="155.2" r="1.2"/><circle cx="257.4" cy="342.0" r="1.2"/><circle cx="256.3" cy="112.1" r="1.2"/><circle cx="250.2" cy="164.9" r="1.2"/><circle cx="250.7" cy="184.0" r="1.2"/><circle cx="258.2" cy="282.9" r="1.2"/><circle cx="254.7" cy="197.4" r="1.2"/><circle cx="255.1" cy="131.3" r="1.2"/><circle cx="253.0" cy="280.4" r="1.2"/><circle cx="256.9" cy="305.8" r="1.2"/><circle cx="254.7" cy="302.8" r="1.2"/><circle cx="254.9" cy="263.6" r="1.2"/><circle cx="252.2" cy="178.5" r="1.2"/><circle cx="255.6" cy="99.0" r="1.2"/><circle cx="251.9" cy="273.2" r="1.2"/><circle cx="251.3" cy="290.5" r="1.2"/><circle cx="254.9" cy="249.3" r="1.2"/><circle cx="256.9" cy="353.3" r="1.2"/><circle cx="252.5" cy="152.3" r="1.2"/><circle cx="252.6" cy="320.3" r="1.2"/><circle cx="251.4" cy="305.0" r="1.2"/><circle cx="255.0" cy="338.2" r="1.2"/><circle cx="256.4" cy="344.3" r="1.2"/><circle cx="251.2" cy="160.6" r="1.2"/><circle cx="254.5" cy="343.6" r="1.2"/><circle cx="254.4" cy="213.0" r="1.2"/><circle cx="251.1" cy="298.7" r="1.2"/><circle cx="254.4" cy="351.6" r="1.2"/><circle cx="252.4" cy="284.9" r="1.2"/><circle cx="251.8" cy="282.7" r="1.2"/><circle cx="258.1" cy="121.2" r="1.2"/><circle cx="250.9" cy="285.1" r="1.2"/><circle cx="252.9" cy="161.7" r="1.2"/><circle cx="255.0" cy="205.1" r="1.2"/><circle cx="253.5" cy="200.7" r="1.2"/><circle cx="250.3" cy="357.3" r="1.2"/><circle cx="257.1" cy="292.0" r="1.2"/><circle cx="252.1" cy="306.0" r="1.2"/><circle cx="253.5" cy="145.5" r="1.2"/><circle cx="257.5" cy="177.8" r="1.2"/><circle cx="258.0" cy="333.2" r="1.2"/><circle cx="257.5" cy="133.4" r="1.2"/><circle cx="253.5" cy="351.7" r="1.2"/><circle cx="255.0" cy="239.6" r="1.2"/><circle cx="256.5" cy="205.9" r="1.2"/><circle cx="251.8" cy="269.4" r="1.2"/><circle cx="257.8" cy="250.1" r="1.2"/><circle cx="251.0" cy="258.7" r="1.2"/><circle cx="254.7" cy="234.9" r="1.2"/><circle cx="252.1" cy="302.3" r="1.2"/><circle cx="251.9" cy="170.5" r="1.2"/><circle cx="251.3" cy="144.0" r="1.2"/><circle cx="256.6" cy="246.1" r="1.2"/><circle cx="251.2" cy="125.7" r="1.2"/><circle cx="257.5" cy="251.6" r="1.2"/><circle cx="251.5" cy="264.8" r="1.2"/><circle cx="252.8" cy="315.3" r="1.2"/><circle cx="251.9" cy="130.7" r="1.2"/><circle cx="257.1" cy="209.3" r="1.2"/><circle cx="250.9" cy="314.7" r="1.2"/><circle cx="257.1" cy="187.4" r="1.2"/><circle cx="252.6" cy="324.5" r="1.2"/><circle cx="257.8" cy="304.9" r="1.2"/><circle cx="256.2" cy="112.8" r="1.2"/><circle cx="252.6" cy="203.8" r="1.2"/><circle cx="254.3" cy="312.4" r="1.2"/><circle cx="251.5" cy="271.9" r="1.2"/><circle cx="253.5" cy="297.7" r="1.2"/><circle cx="250.4" cy="362.3" r="1.2"/><circle cx="255.7" cy="298.1" r="1.2"/><circle cx="254.9" cy="275.8" r="1.2"/><circle cx="252.4" cy="326.5" r="1.2"/><circle cx="252.3" cy="243.0" r="1.2"/><circle cx="256.4" cy="99.1" r="1.2"/><circle cx="251.2" cy="169.5" r="1.2"/><circle cx="252.8" cy="284.8" r="1.2"/><circle cx="250.4" cy="350.4" r="1.2"/><circle cx="253.3" cy="286.9" r="1.2"/><circle cx="253.4" cy="172.4" r="1.2"/><circle cx="254.5" cy="363.3" r="1.2"/><circle cx="253.2" cy="211.1" r="1.2"/><circle cx="252.2" cy="158.4" r="1.2"/><circle cx="256.5" cy="277.1" r="1.2"/><circle cx="252.4" cy="189.1" r="1.2"/><circle cx="252.9" cy="131.3" r="1.2"/><circle cx="254.1" cy="304.1" r="1.2"/><circle cx="252.4" cy="300.7" r="1.2"/><circle cx="256.0" cy="357.0" r="1.2"/><circle cx="250.9" cy="137.2" r="1.2"/><circle cx="252.8" cy="340.8" r="1.2"/><circle cx="253.6" cy="317.4" r="1.2"/><circle cx="252.3" cy="164.6" r="1.2"/><circle cx="256.9" cy="261.1" r="1.2"/><circle cx="253.0" cy="290.8" r="1.2"/><circle cx="253.6" cy="180.7" r="1.2"/><circle cx="254.0" cy="130.4" r="1.2"/><circle cx="256.8" cy="324.7" r="1.2"/><circle cx="251.9" cy="143.6" r="1.2"/><circle cx="256.8" cy="263.9" r="1.2"/><circle cx="257.1" cy="247.7" r="1.2"/><circle cx="252.3" cy="339.1" r="1.2"/><circle cx="251.6" cy="278.3" r="1.2"/><circle cx="255.1" cy="235.5" r="1.2"/><circle cx="252.7" cy="358.3" r="1.2"/><circle cx="252.0" cy="191.8" r="1.2"/><circle cx="250.8" cy="306.2" r="1.2"/><circle cx="255.1" cy="159.9" r="1.2"/><circle cx="257.7" cy="311.0" r="1.2"/><circle cx="257.3" cy="310.1" r="1.2"/><circle cx="254.9" cy="322.9" r="1.2"/><circle cx="253.7" cy="262.4" r="1.2"/><circle cx="258.0" cy="157.1" r="1.2"/><circle cx="255.5" cy="291.1" r="1.2"/><circle cx="257.8" cy="340.8" r="1.2"/><circle cx="255.7" cy="179.3" r="1.2"/><circle cx="255.5" cy="104.4" r="1.2"/><circle cx="255.8" cy="148.3" r="1.2"/><circle cx="251.2" cy="346.4" r="1.2"/><circle cx="253.2" cy="95.9" r="1.2"/><circle cx="250.7" cy="116.5" r="1.2"/><circle cx="257.7" cy="128.1" r="1.2"/><circle cx="258.2" cy="336.4" r="1.2"/><circle cx="254.9" cy="202.9" r="1.2"/><circle cx="251.4" cy="300.7" r="1.2"/><circle cx="251.2" cy="303.0" r="1.2"/><circle cx="253.9" cy="245.8" r="1.2"/><circle cx="253.3" cy="307.1" r="1.2"/><circle cx="251.8" cy="256.1" r="1.2"/><circle cx="250.9" cy="275.0" r="1.2"/><circle cx="255.4" cy="178.5" r="1.2"/><circle cx="255.1" cy="91.4" r="1.2"/><circle cx="250.7" cy="284.5" r="1.2"/><circle cx="252.7" cy="167.8" r="1.2"/><circle cx="252.6" cy="170.2" r="1.2"/><circle cx="254.5" cy="333.5" r="1.2"/><circle cx="255.0" cy="194.8" r="1.2"/><circle cx="253.5" cy="129.1" r="1.2"/><circle cx="257.1" cy="290.8" r="1.2"/><circle cx="253.3" cy="274.3" r="1.2"/><circle cx="252.6" cy="117.6" r="1.2"/><circle cx="256.3" cy="190.6" r="1.2"/><circle cx="256.9" cy="287.6" r="1.2"/><circle cx="257.2" cy="171.4" r="1.2"/><circle cx="251.6" cy="361.1" r="1.2"/><circle cx="251.8" cy="317.7" r="1.2"/><circle cx="253.9" cy="267.1" r="1.2"/><circle cx="257.9" cy="342.1" r="1.2"/><circle cx="255.2" cy="110.3" r="1.2"/><circle cx="255.2" cy="157.6" r="1.2"/><circle cx="252.8" cy="341.9" r="1.2"/><circle cx="258.1" cy="268.1" r="1.2"/><circle cx="251.7" cy="144.9" r="1.2"/><circle cx="254.7" cy="280.4" r="1.2"/><circle cx="255.6" cy="306.8" r="1.2"/><circle cx="256.7" cy="286.3" r="1.2"/><circle cx="256.7" cy="114.1" r="1.2"/><circle cx="253.3" cy="111.1" r="1.2"/><circle cx="253.1" cy="215.6" r="1.2"/><circle cx="257.0" cy="102.5" r="1.2"/><circle cx="254.6" cy="124.6" r="1.2"/><circle cx="252.5" cy="292.8" r="1.2"/><circle cx="251.8" cy="248.1" r="1.2"/><circle cx="256.6" cy="125.0" r="1.2"/><circle cx="257.0" cy="333.0" r="1.2"/><circle cx="254.8" cy="197.1" r="1.2"/><circle cx="253.3" cy="334.5" r="1.2"/><circle cx="255.5" cy="287.3" r="1.2"/><circle cx="258.0" cy="289.2" r="1.2"/><circle cx="254.5" cy="235.0" r="1.2"/><circle cx="256.5" cy="297.6" r="1.2"/><circle cx="257.3" cy="162.3" r="1.2"/><circle cx="256.3" cy="165.7" r="1.2"/><circle cx="254.1" cy="332.6" r="1.2"/><circle cx="251.6" cy="152.7" r="1.2"/><circle cx="255.5" cy="204.1" r="1.2"/><circle cx="256.9" cy="309.1" r="1.2"/><circle cx="257.9" cy="185.0" r="1.2"/><circle cx="251.4" cy="196.2" r="1.2"/><circle cx="251.1" cy="340.5" r="1.2"/><circle cx="255.3" cy="153.3" r="1.2"/><circle cx="256.8" cy="161.7" r="1.2"/><circle cx="250.8" cy="335.3" r="1.2"/><circle cx="255.1" cy="170.2" r="1.2"/><circle cx="252.3" cy="185.2" r="1.2"/><circle cx="258.2" cy="334.2" r="1.2"/><circle cx="253.1" cy="182.5" r="1.2"/><circle cx="250.9" cy="364.5" r="1.2"/><circle cx="256.5" cy="321.6" r="1.2"/><circle cx="252.6" cy="326.6" r="1.2"/><circle cx="253.6" cy="157.9" r="1.2"/><circle cx="251.2" cy="155.9" r="1.2"/><circle cx="252.8" cy="310.3" r="1.2"/><circle cx="251.3" cy="322.6" r="1.2"/><circle cx="252.3" cy="157.6" r="1.2"/><circle cx="254.8" cy="153.2" r="1.2"/><circle cx="252.6" cy="162.3" r="1.2"/><circle cx="255.5" cy="137.4" r="1.2"/><circle cx="255.5" cy="231.1" r="1.2"/><circle cx="254.8" cy="266.8" r="1.2"/><circle cx="250.4" cy="290.4" r="1.2"/><circle cx="257.9" cy="117.0" r="1.2"/><circle cx="251.8" cy="150.0" r="1.2"/><circle cx="253.0" cy="132.6" r="1.2"/><circle cx="254.4" cy="168.9" r="1.2"/><circle cx="255.2" cy="148.5" r="1.2"/><circle cx="252.9" cy="347.2" r="1.2"/><circle cx="253.7" cy="198.9" r="1.2"/><circle cx="255.2" cy="137.7" r="1.2"/><circle cx="253.9" cy="296.7" r="1.2"/><circle cx="252.5" cy="357.2" r="1.2"/><circle cx="253.5" cy="316.9" r="1.2"/><circle cx="253.3" cy="293.7" r="1.2"/><circle cx="252.6" cy="200.8" r="1.2"/><circle cx="254.7" cy="213.0" r="1.2"/><circle cx="254.3" cy="177.2" r="1.2"/><circle cx="253.5" cy="318.9" r="1.2"/><circle cx="255.9" cy="318.4" r="1.2"/><circle cx="256.7" cy="263.6" r="1.2"/><circle cx="255.4" cy="329.8" r="1.2"/><circle cx="252.9" cy="294.4" r="1.2"/><circle cx="257.7" cy="299.8" r="1.2"/><circle cx="251.0" cy="168.6" r="1.2"/><circle cx="256.6" cy="161.8" r="1.2"/><circle cx="253.6" cy="158.4" r="1.2"/><circle cx="253.4" cy="341.3" r="1.2"/><circle cx="256.9" cy="317.9" r="1.2"/><circle cx="255.4" cy="338.2" r="1.2"/><circle cx="258.0" cy="321.9" r="1.2"/><circle cx="257.2" cy="318.7" r="1.2"/><circle cx="251.9" cy="246.9" r="1.2"/><circle cx="254.2" cy="312.3" r="1.2"/><circle cx="256.3" cy="144.1" r="1.2"/><circle cx="250.9" cy="295.0" r="1.2"/><circle cx="254.5" cy="113.1" r="1.2"/><circle cx="258.1" cy="355.1" r="1.2"/><circle cx="252.1" cy="333.6" r="1.2"/><circle cx="251.1" cy="143.7" r="1.2"/><circle cx="252.5" cy="312.8" r="1.2"/><circle cx="253.0" cy="322.1" r="1.2"/><circle cx="252.5" cy="112.9" r="1.2"/><circle cx="253.7" cy="279.6" r="1.2"/><circle cx="255.3" cy="229.6" r="1.2"/><circle cx="254.3" cy="288.9" r="1.2"/><circle cx="254.9" cy="335.2" r="1.2"/><circle cx="251.1" cy="305.7" r="1.2"/><circle cx="250.7" cy="154.4" r="1.2"/><circle cx="257.8" cy="277.5" r="1.2"/><circle cx="253.0" cy="278.8" r="1.2"/><circle cx="256.5" cy="99.8" r="1.2"/><circle cx="252.9" cy="136.1" r="1.2"/><circle cx="255.3" cy="194.0" r="1.2"/><circle cx="255.5" cy="146.7" r="1.2"/><circle cx="250.9" cy="160.7" r="1.2"/><circle cx="250.8" cy="298.2" r="1.2"/><circle cx="253.7" cy="353.9" r="1.2"/><circle cx="251.2" cy="255.1" r="1.2"/><circle cx="252.6" cy="293.4" r="1.2"/><circle cx="251.8" cy="311.7" r="1.2"/><circle cx="252.7" cy="297.7" r="1.2"/><circle cx="253.8" cy="295.2" r="1.2"/><circle cx="253.7" cy="90.0" r="1.2"/><circle cx="252.9" cy="331.5" r="1.2"/><circle cx="254.1" cy="142.8" r="1.2"/><circle cx="255.7" cy="147.3" r="1.2"/><circle cx="250.5" cy="268.3" r="1.2"/><circle cx="258.2" cy="283.4" r="1.2"/><circle cx="253.6" cy="310.7" r="1.2"/><circle cx="257.6" cy="174.8" r="1.2"/><circle cx="250.3" cy="349.5" r="1.2"/><circle cx="250.7" cy="290.4" r="1.2"/><circle cx="251.0" cy="326.1" r="1.2"/><circle cx="257.5" cy="260.5" r="1.2"/><circle cx="253.5" cy="121.3" r="1.2"/><circle cx="256.0" cy="100.2" r="1.2"/><circle cx="255.8" cy="292.4" r="1.2"/><circle cx="252.9" cy="237.9" r="1.2"/><circle cx="253.2" cy="248.9" r="1.2"/><circle cx="252.9" cy="183.8" r="1.2"/><circle cx="253.8" cy="146.8" r="1.2"/><circle cx="256.2" cy="259.6" r="1.2"/><circle cx="250.9" cy="165.0" r="1.2"/><circle cx="257.6" cy="336.7" r="1.2"/><circle cx="254.0" cy="146.9" r="1.2"/><circle cx="253.1" cy="355.7" r="1.2"/><circle cx="255.8" cy="329.4" r="1.2"/><circle cx="252.6" cy="203.0" r="1.2"/><circle cx="255.9" cy="313.4" r="1.2"/><circle cx="253.5" cy="282.3" r="1.2"/><circle cx="254.0" cy="257.5" r="1.2"/><circle cx="251.7" cy="319.9" r="1.2"/><circle cx="251.8" cy="323.4" r="1.2"/><circle cx="257.1" cy="152.2" r="1.2"/><circle cx="254.8" cy="339.8" r="1.2"/><circle cx="253.6" cy="109.4" r="1.2"/><circle cx="255.3" cy="95.5" r="1.2"/><circle cx="257.5" cy="262.2" r="1.2"/><circle cx="251.5" cy="177.0" r="1.2"/><circle cx="255.8" cy="233.1" r="1.2"/><circle cx="250.3" cy="261.0" r="1.2"/><circle cx="255.1" cy="258.1" r="1.2"/><circle cx="252.3" cy="340.2" r="1.2"/><circle cx="252.2" cy="342.7" r="1.2"/><circle cx="254.2" cy="189.8" r="1.2"/><circle cx="255.0" cy="173.4" r="1.2"/><circle cx="253.7" cy="294.7" r="1.2"/><circle cx="255.9" cy="151.4" r="1.2"/><circle cx="256.7" cy="211.3" r="1.2"/><circle cx="251.6" cy="304.9" r="1.2"/><circle cx="253.1" cy="95.6" r="1.2"/><circle cx="255.1" cy="313.3" r="1.2"/><circle cx="253.5" cy="307.4" r="1.2"/><circle cx="253.0" cy="204.6" r="1.2"/><circle cx="254.2" cy="163.3" r="1.2"/><circle cx="255.8" cy="274.6" r="1.2"/><circle cx="257.5" cy="175.5" r="1.2"/><circle cx="257.7" cy="321.6" r="1.2"/><circle cx="256.8" cy="284.0" r="1.2"/><circle cx="253.0" cy="178.5" r="1.2"/><circle cx="257.3" cy="319.2" r="1.2"/><circle cx="255.9" cy="287.0" r="1.2"/><circle cx="251.6" cy="136.1" r="1.2"/><circle cx="255.8" cy="221.7" r="1.2"/><circle cx="252.2" cy="263.7" r="1.2"/><circle cx="255.7" cy="349.4" r="1.2"/><circle cx="255.8" cy="182.3" r="1.2"/><circle cx="257.5" cy="252.0" r="1.2"/><circle cx="255.5" cy="358.3" r="1.2"/><circle cx="255.8" cy="237.9" r="1.2"/><circle cx="250.7" cy="322.7" r="1.2"/><circle cx="250.5" cy="127.8" r="1.2"/><circle cx="252.3" cy="207.8" r="1.2"/><circle cx="254.8" cy="148.0" r="1.2"/><circle cx="253.6" cy="334.6" r="1.2"/><circle cx="250.9" cy="277.1" r="1.2"/><circle cx="251.8" cy="156.2" r="1.2"/><circle cx="254.8" cy="126.6" r="1.2"/><circle cx="253.9" cy="230.7" r="1.2"/><circle cx="256.3" cy="127.7" r="1.2"/><circle cx="253.9" cy="262.6" r="1.2"/><circle cx="257.2" cy="306.6" r="1.2"/><circle cx="256.3" cy="179.5" r="1.2"/><circle cx="254.2" cy="144.3" r="1.2"/><circle cx="253.1" cy="194.7" r="1.2"/><circle cx="251.9" cy="144.0" r="1.2"/><circle cx="252.5" cy="326.0" r="1.2"/><circle cx="253.0" cy="127.6" r="1.2"/><circle cx="253.1" cy="308.5" r="1.2"/><circle cx="251.6" cy="186.1" r="1.2"/><circle cx="254.0" cy="306.5" r="1.2"/><circle cx="251.1" cy="313.1" r="1.2"/><circle cx="257.1" cy="136.8" r="1.2"/><circle cx="254.6" cy="310.9" r="1.2"/><circle cx="251.0" cy="349.7" r="1.2"/><circle cx="252.8" cy="279.8" r="1.2"/><circle cx="252.2" cy="293.2" r="1.2"/><circle cx="251.4" cy="182.9" r="1.2"/><circle cx="254.0" cy="145.9" r="1.2"/><circle cx="251.7" cy="309.0" r="1.2"/><circle cx="251.4" cy="321.5" r="1.2"/><circle cx="255.8" cy="153.3" r="1.2"/><circle cx="253.6" cy="131.8" r="1.2"/><circle cx="255.6" cy="191.7" r="1.2"/><circle cx="254.0" cy="290.1" r="1.2"/><circle cx="254.2" cy="195.9" r="1.2"/><circle cx="252.7" cy="354.6" r="1.2"/><circle cx="253.6" cy="316.4" r="1.2"/><circle cx="254.0" cy="342.2" r="1.2"/><circle cx="252.9" cy="285.6" r="1.2"/><circle cx="256.8" cy="310.8" r="1.2"/><circle cx="252.2" cy="351.1" r="1.2"/><circle cx="252.0" cy="110.7" r="1.2"/><circle cx="253.0" cy="281.2" r="1.2"/><circle cx="256.5" cy="148.8" r="1.2"/><circle cx="257.0" cy="317.0" r="1.2"/><circle cx="254.7" cy="159.6" r="1.2"/><circle cx="253.1" cy="308.6" r="1.2"/><circle cx="255.4" cy="185.7" r="1.2"/><circle cx="256.8" cy="294.3" r="1.2"/><circle cx="252.1" cy="298.7" r="1.2"/><circle cx="255.5" cy="340.4" r="1.2"/><circle cx="255.9" cy="332.1" r="1.2"/><circle cx="253.5" cy="247.8" r="1.2"/><circle cx="251.4" cy="300.3" r="1.2"/><circle cx="255.1" cy="147.7" r="1.2"/><circle cx="251.9" cy="128.1" r="1.2"/><circle cx="253.1" cy="304.3" r="1.2"/><circle cx="254.6" cy="340.0" r="1.2"/><circle cx="257.9" cy="309.4" r="1.2"/><circle cx="251.4" cy="269.8" r="1.2"/><circle cx="250.8" cy="290.7" r="1.2"/><circle cx="254.5" cy="306.8" r="1.2"/><circle cx="257.7" cy="280.2" r="1.2"/></g><g fill="#469cde" fill-opacity="0.78" stroke="#fff" stroke-width="0.3" stroke-opacity="0.7"><circle cx="347.4" cy="176.0" r="1.2"/><circle cx="350.1" cy="380.0" r="1.2"/><circle cx="346.4" cy="184.2" r="1.2"/><circle cx="346.4" cy="333.4" r="1.2"/><circle cx="350.1" cy="210.9" r="1.2"/><circle cx="347.2" cy="342.9" r="1.2"/><circle cx="346.1" cy="306.7" r="1.2"/><circle cx="346.3" cy="342.6" r="1.2"/><circle cx="349.6" cy="254.0" r="1.2"/><circle cx="346.6" cy="198.0" r="1.2"/><circle cx="348.3" cy="231.3" r="1.2"/><circle cx="350.0" cy="258.2" r="1.2"/><circle cx="348.6" cy="225.4" r="1.2"/><circle cx="349.4" cy="236.8" r="1.2"/><circle cx="350.9" cy="332.7" r="1.2"/><circle cx="346.8" cy="321.0" r="1.2"/><circle cx="350.3" cy="357.5" r="1.2"/><circle cx="348.3" cy="328.1" r="1.2"/><circle cx="346.2" cy="332.3" r="1.2"/><circle cx="345.8" cy="347.3" r="1.2"/><circle cx="347.0" cy="360.2" r="1.2"/><circle cx="345.8" cy="336.4" r="1.2"/><circle cx="349.6" cy="187.0" r="1.2"/><circle cx="348.3" cy="323.8" r="1.2"/><circle cx="345.3" cy="185.6" r="1.2"/><circle cx="350.3" cy="338.2" r="1.2"/><circle cx="348.6" cy="195.2" r="1.2"/><circle cx="347.7" cy="332.3" r="1.2"/><circle cx="346.0" cy="220.5" r="1.2"/><circle cx="347.8" cy="360.4" r="1.2"/><circle cx="350.5" cy="203.6" r="1.2"/><circle cx="348.5" cy="343.0" r="1.2"/><circle cx="347.8" cy="346.8" r="1.2"/><circle cx="348.6" cy="258.6" r="1.2"/><circle cx="348.3" cy="337.2" r="1.2"/><circle cx="348.5" cy="277.6" r="1.2"/><circle cx="346.2" cy="254.2" r="1.2"/><circle cx="345.9" cy="254.4" r="1.2"/><circle cx="345.1" cy="180.7" r="1.2"/><circle cx="350.0" cy="344.1" r="1.2"/><circle cx="345.0" cy="197.1" r="1.2"/><circle cx="346.7" cy="236.3" r="1.2"/><circle cx="348.5" cy="201.5" r="1.2"/><circle cx="348.0" cy="355.5" r="1.2"/><circle cx="350.4" cy="331.3" r="1.2"/><circle cx="346.3" cy="324.7" r="1.2"/><circle cx="345.7" cy="336.3" r="1.2"/><circle cx="346.0" cy="355.9" r="1.2"/><circle cx="348.0" cy="339.9" r="1.2"/><circle cx="346.7" cy="329.7" r="1.2"/><circle cx="347.8" cy="270.2" r="1.2"/><circle cx="349.1" cy="330.1" r="1.2"/><circle cx="346.9" cy="377.3" r="1.2"/><circle cx="349.0" cy="335.1" r="1.2"/><circle cx="345.1" cy="325.9" r="1.2"/><circle cx="348.3" cy="363.8" r="1.2"/><circle cx="350.4" cy="192.1" r="1.2"/><circle cx="350.6" cy="194.7" r="1.2"/><circle cx="348.4" cy="354.2" r="1.2"/><circle cx="350.9" cy="370.3" r="1.2"/><circle cx="346.4" cy="191.1" r="1.2"/><circle cx="346.8" cy="183.2" r="1.2"/><circle cx="347.7" cy="178.9" r="1.2"/><circle cx="348.1" cy="335.7" r="1.2"/><circle cx="349.8" cy="216.6" r="1.2"/><circle cx="347.7" cy="334.3" r="1.2"/><circle cx="345.3" cy="343.3" r="1.2"/><circle cx="349.2" cy="180.7" r="1.2"/><circle cx="346.3" cy="361.9" r="1.2"/><circle cx="350.3" cy="252.5" r="1.2"/><circle cx="346.3" cy="333.6" r="1.2"/><circle cx="347.3" cy="302.6" r="1.2"/><circle cx="347.0" cy="292.2" r="1.2"/><circle cx="346.8" cy="316.0" r="1.2"/><circle cx="348.6" cy="177.0" r="1.2"/><circle cx="346.6" cy="319.8" r="1.2"/><circle cx="345.3" cy="255.8" r="1.2"/><circle cx="348.3" cy="305.1" r="1.2"/><circle cx="349.3" cy="224.8" r="1.2"/><circle cx="346.8" cy="281.4" r="1.2"/><circle cx="347.5" cy="346.4" r="1.2"/><circle cx="345.4" cy="376.6" r="1.2"/><circle cx="345.3" cy="236.3" r="1.2"/><circle cx="347.2" cy="361.6" r="1.2"/><circle cx="346.7" cy="339.1" r="1.2"/><circle cx="350.3" cy="205.5" r="1.2"/><circle cx="345.2" cy="180.4" r="1.2"/><circle cx="348.9" cy="363.4" r="1.2"/><circle cx="349.4" cy="247.5" r="1.2"/><circle cx="347.5" cy="207.1" r="1.2"/><circle cx="348.0" cy="342.6" r="1.2"/><circle cx="346.5" cy="347.0" r="1.2"/><circle cx="346.5" cy="364.6" r="1.2"/><circle cx="345.3" cy="328.4" r="1.2"/><circle cx="350.1" cy="269.8" r="1.2"/><circle cx="345.7" cy="272.1" r="1.2"/><circle cx="345.9" cy="238.8" r="1.2"/><circle cx="349.3" cy="340.9" r="1.2"/><circle cx="347.7" cy="370.3" r="1.2"/><circle cx="348.1" cy="200.8" r="1.2"/><circle cx="346.8" cy="313.1" r="1.2"/><circle cx="346.9" cy="301.0" r="1.2"/><circle cx="349.8" cy="199.5" r="1.2"/><circle cx="345.7" cy="337.3" r="1.2"/><circle cx="346.8" cy="376.5" r="1.2"/><circle cx="349.5" cy="259.0" r="1.2"/><circle cx="346.8" cy="348.7" r="1.2"/><circle cx="350.7" cy="365.2" r="1.2"/><circle cx="346.1" cy="257.3" r="1.2"/><circle cx="348.2" cy="367.4" r="1.2"/><circle cx="348.2" cy="350.6" r="1.2"/><circle cx="348.0" cy="341.8" r="1.2"/><circle cx="349.5" cy="235.4" r="1.2"/><circle cx="345.3" cy="259.2" r="1.2"/><circle cx="348.3" cy="205.7" r="1.2"/><circle cx="349.7" cy="364.7" r="1.2"/><circle cx="345.3" cy="355.9" r="1.2"/><circle cx="348.3" cy="201.4" r="1.2"/><circle cx="347.6" cy="331.5" r="1.2"/><circle cx="347.4" cy="241.4" r="1.2"/><circle cx="348.2" cy="352.1" r="1.2"/><circle cx="348.7" cy="335.4" r="1.2"/><circle cx="349.2" cy="370.7" r="1.2"/><circle cx="350.4" cy="348.8" r="1.2"/><circle cx="348.9" cy="205.4" r="1.2"/><circle cx="351.0" cy="310.1" r="1.2"/><circle cx="349.0" cy="335.7" r="1.2"/><circle cx="346.6" cy="366.5" r="1.2"/><circle cx="345.9" cy="309.7" r="1.2"/><circle cx="345.7" cy="233.3" r="1.2"/><circle cx="346.6" cy="260.8" r="1.2"/><circle cx="345.7" cy="251.3" r="1.2"/><circle cx="349.0" cy="222.0" r="1.2"/><circle cx="348.5" cy="292.9" r="1.2"/><circle cx="348.7" cy="251.5" r="1.2"/><circle cx="347.3" cy="329.4" r="1.2"/><circle cx="347.8" cy="364.5" r="1.2"/><circle cx="346.6" cy="371.9" r="1.2"/><circle cx="350.3" cy="223.7" r="1.2"/><circle cx="345.1" cy="335.1" r="1.2"/><circle cx="346.9" cy="344.2" r="1.2"/><circle cx="348.4" cy="221.4" r="1.2"/><circle cx="346.1" cy="331.6" r="1.2"/><circle cx="350.0" cy="237.3" r="1.2"/><circle cx="347.9" cy="307.8" r="1.2"/><circle cx="347.4" cy="274.5" r="1.2"/><circle cx="345.4" cy="356.5" r="1.2"/><circle cx="346.7" cy="247.5" r="1.2"/><circle cx="348.5" cy="332.3" r="1.2"/><circle cx="346.7" cy="336.5" r="1.2"/><circle cx="346.3" cy="277.6" r="1.2"/><circle cx="348.5" cy="368.6" r="1.2"/><circle cx="347.3" cy="279.1" r="1.2"/><circle cx="349.4" cy="275.6" r="1.2"/><circle cx="349.2" cy="345.8" r="1.2"/><circle cx="349.3" cy="327.1" r="1.2"/><circle cx="350.3" cy="348.6" r="1.2"/><circle cx="349.7" cy="221.5" r="1.2"/><circle cx="347.1" cy="219.9" r="1.2"/><circle cx="348.4" cy="349.5" r="1.2"/></g><g fill="#e74c3c" fill-opacity="0.78" stroke="#fff" stroke-width="0.3" stroke-opacity="0.7"><circle cx="383.9" cy="99.5" r="1.2"/><circle cx="385.5" cy="341.6" r="1.2"/><circle cx="381.5" cy="172.6" r="1.2"/><circle cx="384.3" cy="149.5" r="1.2"/><circle cx="386.8" cy="180.0" r="1.2"/><circle cx="381.4" cy="176.8" r="1.2"/><circle cx="383.8" cy="303.3" r="1.2"/><circle cx="381.6" cy="182.7" r="1.2"/><circle cx="381.6" cy="132.1" r="1.2"/><circle cx="384.1" cy="251.3" r="1.2"/><circle cx="383.8" cy="171.4" r="1.2"/><circle cx="385.3" cy="305.1" r="1.2"/><circle cx="387.0" cy="176.1" r="1.2"/><circle cx="385.8" cy="290.0" r="1.2"/><circle cx="382.8" cy="165.6" r="1.2"/><circle cx="384.0" cy="278.0" r="1.2"/><circle cx="385.5" cy="324.1" r="1.2"/><circle cx="386.8" cy="194.0" r="1.2"/><circle cx="385.6" cy="285.8" r="1.2"/><circle cx="384.1" cy="266.5" r="1.2"/><circle cx="381.4" cy="138.6" r="1.2"/><circle cx="386.5" cy="124.5" r="1.2"/><circle cx="382.4" cy="321.3" r="1.2"/><circle cx="383.3" cy="202.1" r="1.2"/><circle cx="387.2" cy="304.7" r="1.2"/><circle cx="383.2" cy="227.7" r="1.2"/><circle cx="387.4" cy="320.8" r="1.2"/><circle cx="381.9" cy="170.1" r="1.2"/><circle cx="380.8" cy="278.3" r="1.2"/><circle cx="384.2" cy="288.8" r="1.2"/><circle cx="386.5" cy="316.0" r="1.2"/><circle cx="383.4" cy="127.1" r="1.2"/><circle cx="386.8" cy="207.2" r="1.2"/><circle cx="383.3" cy="276.5" r="1.2"/><circle cx="386.6" cy="293.9" r="1.2"/><circle cx="381.0" cy="157.2" r="1.2"/><circle cx="382.4" cy="288.2" r="1.2"/><circle cx="381.1" cy="305.5" r="1.2"/><circle cx="386.0" cy="309.6" r="1.2"/><circle cx="383.9" cy="176.7" r="1.2"/><circle cx="385.0" cy="267.3" r="1.2"/><circle cx="382.0" cy="192.9" r="1.2"/><circle cx="385.6" cy="214.2" r="1.2"/><circle cx="388.0" cy="207.3" r="1.2"/><circle cx="380.7" cy="333.7" r="1.2"/><circle cx="382.9" cy="122.2" r="1.2"/><circle cx="387.1" cy="334.0" r="1.2"/><circle cx="386.5" cy="128.2" r="1.2"/><circle cx="386.8" cy="140.8" r="1.2"/><circle cx="381.9" cy="172.6" r="1.2"/><circle cx="384.6" cy="190.4" r="1.2"/><circle cx="380.8" cy="323.0" r="1.2"/><circle cx="383.5" cy="321.1" r="1.2"/><circle cx="384.7" cy="332.3" r="1.2"/><circle cx="382.6" cy="214.9" r="1.2"/><circle cx="383.6" cy="123.0" r="1.2"/><circle cx="383.0" cy="298.2" r="1.2"/><circle cx="380.8" cy="327.8" r="1.2"/><circle cx="380.8" cy="148.6" r="1.2"/><circle cx="386.3" cy="319.7" r="1.2"/><circle cx="381.4" cy="109.6" r="1.2"/><circle cx="388.0" cy="309.6" r="1.2"/><circle cx="387.3" cy="280.1" r="1.2"/><circle cx="388.0" cy="328.9" r="1.2"/><circle cx="386.4" cy="325.0" r="1.2"/><circle cx="380.6" cy="132.1" r="1.2"/><circle cx="381.0" cy="281.0" r="1.2"/><circle cx="382.6" cy="180.7" r="1.2"/><circle cx="382.3" cy="266.8" r="1.2"/><circle cx="380.9" cy="137.6" r="1.2"/><circle cx="387.4" cy="206.7" r="1.2"/><circle cx="385.5" cy="223.7" r="1.2"/><circle cx="385.7" cy="116.5" r="1.2"/><circle cx="382.1" cy="276.3" r="1.2"/><circle cx="386.9" cy="327.3" r="1.2"/><circle cx="386.4" cy="136.1" r="1.2"/><circle cx="382.7" cy="333.6" r="1.2"/><circle cx="381.1" cy="279.4" r="1.2"/><circle cx="381.2" cy="173.6" r="1.2"/><circle cx="383.4" cy="337.0" r="1.2"/><circle cx="386.8" cy="276.1" r="1.2"/><circle cx="381.8" cy="265.9" r="1.2"/><circle cx="383.6" cy="210.8" r="1.2"/><circle cx="382.9" cy="325.7" r="1.2"/><circle cx="387.2" cy="154.3" r="1.2"/><circle cx="381.3" cy="173.6" r="1.2"/><circle cx="385.3" cy="189.6" r="1.2"/><circle cx="382.8" cy="136.6" r="1.2"/><circle cx="385.3" cy="321.5" r="1.2"/><circle cx="386.7" cy="279.2" r="1.2"/><circle cx="386.7" cy="295.4" r="1.2"/><circle cx="386.9" cy="326.2" r="1.2"/><circle cx="382.4" cy="280.4" r="1.2"/><circle cx="382.3" cy="188.1" r="1.2"/><circle cx="381.1" cy="286.4" r="1.2"/><circle cx="382.1" cy="281.4" r="1.2"/><circle cx="381.1" cy="193.0" r="1.2"/><circle cx="386.4" cy="178.4" r="1.2"/><circle cx="380.5" cy="206.1" r="1.2"/><circle cx="381.6" cy="309.9" r="1.2"/><circle cx="386.4" cy="163.0" r="1.2"/><circle cx="386.2" cy="341.0" r="1.2"/><circle cx="387.9" cy="179.2" r="1.2"/><circle cx="383.2" cy="187.3" r="1.2"/><circle cx="380.6" cy="152.5" r="1.2"/><circle cx="385.9" cy="215.6" r="1.2"/><circle cx="382.5" cy="209.6" r="1.2"/><circle cx="386.3" cy="304.3" r="1.2"/><circle cx="380.3" cy="327.5" r="1.2"/><circle cx="380.4" cy="181.9" r="1.2"/><circle cx="384.9" cy="317.7" r="1.2"/><circle cx="385.6" cy="195.1" r="1.2"/><circle cx="384.3" cy="222.4" r="1.2"/><circle cx="384.4" cy="153.9" r="1.2"/><circle cx="384.9" cy="327.1" r="1.2"/><circle cx="381.4" cy="210.0" r="1.2"/><circle cx="380.6" cy="306.3" r="1.2"/><circle cx="383.1" cy="126.2" r="1.2"/><circle cx="384.5" cy="305.9" r="1.2"/><circle cx="382.1" cy="177.2" r="1.2"/></g><g fill="#469cde" fill-opacity="0.78" stroke="#fff" stroke-width="0.3" stroke-opacity="0.7"><circle cx="477.6" cy="193.2" r="1.2"/><circle cx="479.4" cy="386.4" r="1.2"/><circle cx="481.5" cy="336.2" r="1.2"/><circle cx="476.9" cy="266.7" r="1.2"/><circle cx="480.7" cy="377.7" r="1.2"/><circle cx="480.3" cy="379.2" r="1.2"/><circle cx="480.2" cy="221.7" r="1.2"/><circle cx="474.6" cy="342.9" r="1.2"/><circle cx="481.0" cy="260.7" r="1.2"/><circle cx="480.5" cy="281.7" r="1.2"/><circle cx="476.5" cy="216.9" r="1.2"/><circle cx="478.8" cy="229.4" r="1.2"/><circle cx="475.6" cy="218.3" r="1.2"/><circle cx="478.6" cy="238.8" r="1.2"/><circle cx="479.6" cy="356.2" r="1.2"/><circle cx="479.5" cy="229.1" r="1.2"/><circle cx="480.8" cy="374.0" r="1.2"/><circle cx="476.2" cy="367.5" r="1.2"/><circle cx="475.1" cy="266.8" r="1.2"/><circle cx="480.4" cy="359.3" r="1.2"/><circle cx="474.1" cy="380.1" r="1.2"/><circle cx="476.0" cy="237.0" r="1.2"/><circle cx="475.8" cy="349.5" r="1.2"/><circle cx="480.1" cy="341.7" r="1.2"/><circle cx="477.5" cy="275.3" r="1.2"/><circle cx="480.3" cy="270.6" r="1.2"/><circle cx="479.0" cy="230.8" r="1.2"/><circle cx="480.6" cy="356.0" r="1.2"/><circle cx="480.0" cy="252.9" r="1.2"/><circle cx="480.9" cy="337.6" r="1.2"/><circle cx="476.1" cy="377.8" r="1.2"/><circle cx="477.3" cy="285.9" r="1.2"/><circle cx="478.7" cy="276.6" r="1.2"/><circle cx="478.6" cy="378.2" r="1.2"/><circle cx="480.1" cy="351.3" r="1.2"/><circle cx="480.4" cy="350.3" r="1.2"/><circle cx="476.5" cy="257.7" r="1.2"/><circle cx="474.9" cy="355.6" r="1.2"/><circle cx="479.8" cy="331.6" r="1.2"/><circle cx="479.4" cy="348.2" r="1.2"/><circle cx="476.1" cy="334.7" r="1.2"/><circle cx="475.0" cy="229.6" r="1.2"/><circle cx="474.1" cy="373.3" r="1.2"/><circle cx="475.9" cy="359.3" r="1.2"/><circle cx="476.1" cy="380.8" r="1.2"/><circle cx="476.0" cy="274.5" r="1.2"/><circle cx="474.7" cy="269.2" r="1.2"/><circle cx="475.5" cy="240.8" r="1.2"/><circle cx="476.9" cy="274.3" r="1.2"/><circle cx="475.5" cy="278.8" r="1.2"/><circle cx="475.8" cy="250.2" r="1.2"/><circle cx="477.5" cy="265.9" r="1.2"/><circle cx="480.3" cy="271.8" r="1.2"/><circle cx="480.9" cy="371.7" r="1.2"/><circle cx="477.1" cy="339.9" r="1.2"/><circle cx="474.9" cy="368.7" r="1.2"/><circle cx="476.5" cy="222.5" r="1.2"/><circle cx="479.2" cy="251.1" r="1.2"/><circle cx="477.2" cy="380.2" r="1.2"/><circle cx="478.3" cy="222.6" r="1.2"/><circle cx="479.4" cy="227.1" r="1.2"/><circle cx="479.2" cy="346.1" r="1.2"/><circle cx="480.4" cy="270.9" r="1.2"/><circle cx="474.9" cy="252.2" r="1.2"/><circle cx="476.3" cy="353.2" r="1.2"/><circle cx="474.2" cy="353.2" r="1.2"/><circle cx="478.1" cy="251.0" r="1.2"/><circle cx="478.8" cy="347.8" r="1.2"/><circle cx="475.9" cy="340.7" r="1.2"/><circle cx="474.3" cy="370.8" r="1.2"/><circle cx="477.7" cy="226.9" r="1.2"/><circle cx="475.5" cy="259.8" r="1.2"/><circle cx="475.5" cy="349.9" r="1.2"/><circle cx="477.2" cy="218.3" r="1.2"/><circle cx="481.5" cy="370.7" r="1.2"/><circle cx="476.8" cy="382.0" r="1.2"/><circle cx="479.1" cy="279.6" r="1.2"/><circle cx="476.9" cy="365.4" r="1.2"/><circle cx="477.2" cy="262.9" r="1.2"/><circle cx="475.0" cy="379.7" r="1.2"/><circle cx="475.6" cy="255.6" r="1.2"/><circle cx="478.8" cy="208.1" r="1.2"/><circle cx="477.5" cy="226.8" r="1.2"/><circle cx="476.2" cy="341.0" r="1.2"/><circle cx="480.7" cy="219.6" r="1.2"/><circle cx="480.9" cy="383.5" r="1.2"/><circle cx="476.0" cy="354.8" r="1.2"/><circle cx="477.4" cy="350.1" r="1.2"/><circle cx="478.4" cy="354.5" r="1.2"/><circle cx="475.2" cy="337.1" r="1.2"/><circle cx="477.3" cy="374.0" r="1.2"/><circle cx="476.2" cy="360.8" r="1.2"/><circle cx="480.4" cy="338.3" r="1.2"/><circle cx="475.0" cy="269.8" r="1.2"/><circle cx="481.4" cy="242.5" r="1.2"/><circle cx="476.2" cy="276.4" r="1.2"/><circle cx="477.4" cy="289.1" r="1.2"/><circle cx="475.1" cy="229.5" r="1.2"/><circle cx="481.2" cy="377.5" r="1.2"/><circle cx="480.3" cy="264.6" r="1.2"/><circle cx="474.4" cy="347.9" r="1.2"/><circle cx="478.1" cy="226.3" r="1.2"/><circle cx="477.0" cy="348.8" r="1.2"/><circle cx="478.7" cy="355.9" r="1.2"/><circle cx="476.8" cy="229.4" r="1.2"/><circle cx="481.6" cy="382.9" r="1.2"/><circle cx="475.9" cy="246.2" r="1.2"/><circle cx="480.2" cy="265.6" r="1.2"/><circle cx="476.0" cy="362.6" r="1.2"/><circle cx="478.7" cy="281.8" r="1.2"/><circle cx="477.3" cy="373.2" r="1.2"/><circle cx="478.1" cy="260.8" r="1.2"/><circle cx="478.0" cy="276.1" r="1.2"/><circle cx="478.9" cy="359.3" r="1.2"/><circle cx="474.4" cy="371.8" r="1.2"/><circle cx="474.4" cy="373.8" r="1.2"/><circle cx="481.2" cy="270.6" r="1.2"/><circle cx="475.9" cy="347.2" r="1.2"/><circle cx="476.8" cy="336.3" r="1.2"/><circle cx="475.8" cy="358.1" r="1.2"/><circle cx="479.0" cy="258.7" r="1.2"/><circle cx="481.8" cy="370.2" r="1.2"/><circle cx="477.1" cy="360.9" r="1.2"/><circle cx="476.6" cy="248.5" r="1.2"/><circle cx="477.0" cy="276.1" r="1.2"/><circle cx="475.4" cy="281.7" r="1.2"/><circle cx="474.6" cy="377.9" r="1.2"/><circle cx="474.3" cy="340.8" r="1.2"/><circle cx="476.5" cy="353.7" r="1.2"/><circle cx="481.8" cy="378.0" r="1.2"/><circle cx="475.0" cy="334.6" r="1.2"/><circle cx="478.3" cy="379.5" r="1.2"/><circle cx="475.9" cy="271.4" r="1.2"/><circle cx="476.0" cy="211.6" r="1.2"/><circle cx="480.2" cy="234.2" r="1.2"/><circle cx="474.9" cy="359.3" r="1.2"/><circle cx="475.0" cy="332.1" r="1.2"/><circle cx="480.4" cy="369.8" r="1.2"/><circle cx="475.8" cy="347.3" r="1.2"/><circle cx="475.5" cy="358.8" r="1.2"/><circle cx="479.2" cy="288.5" r="1.2"/><circle cx="475.5" cy="351.6" r="1.2"/><circle cx="480.6" cy="359.7" r="1.2"/><circle cx="476.4" cy="331.0" r="1.2"/><circle cx="478.4" cy="343.9" r="1.2"/><circle cx="476.4" cy="370.5" r="1.2"/><circle cx="476.6" cy="377.9" r="1.2"/><circle cx="479.4" cy="287.0" r="1.2"/><circle cx="480.5" cy="226.5" r="1.2"/><circle cx="475.3" cy="370.4" r="1.2"/><circle cx="479.7" cy="340.0" r="1.2"/><circle cx="475.0" cy="382.1" r="1.2"/><circle cx="476.3" cy="364.5" r="1.2"/><circle cx="474.5" cy="327.9" r="1.2"/><circle cx="479.1" cy="371.1" r="1.2"/><circle cx="479.7" cy="348.5" r="1.2"/><circle cx="479.9" cy="360.9" r="1.2"/><circle cx="480.1" cy="373.9" r="1.2"/><circle cx="477.1" cy="351.0" r="1.2"/><circle cx="475.3" cy="379.7" r="1.2"/><circle cx="473.9" cy="334.8" r="1.2"/><circle cx="477.4" cy="331.5" r="1.2"/><circle cx="481.4" cy="355.5" r="1.2"/><circle cx="477.5" cy="335.6" r="1.2"/><circle cx="478.8" cy="360.4" r="1.2"/><circle cx="481.2" cy="347.2" r="1.2"/><circle cx="480.8" cy="363.0" r="1.2"/><circle cx="479.8" cy="369.2" r="1.2"/><circle cx="478.6" cy="350.0" r="1.2"/><circle cx="475.8" cy="376.5" r="1.2"/><circle cx="479.9" cy="365.9" r="1.2"/><circle cx="477.2" cy="371.6" r="1.2"/><circle cx="478.9" cy="214.1" r="1.2"/><circle cx="476.7" cy="212.7" r="1.2"/><circle cx="481.4" cy="355.1" r="1.2"/><circle cx="476.0" cy="280.8" r="1.2"/><circle cx="480.2" cy="372.9" r="1.2"/><circle cx="481.0" cy="333.9" r="1.2"/><circle cx="475.1" cy="363.1" r="1.2"/><circle cx="480.5" cy="262.3" r="1.2"/><circle cx="479.1" cy="354.7" r="1.2"/><circle cx="478.7" cy="375.2" r="1.2"/><circle cx="475.9" cy="372.0" r="1.2"/><circle cx="476.6" cy="326.9" r="1.2"/><circle cx="475.8" cy="343.1" r="1.2"/><circle cx="477.4" cy="347.5" r="1.2"/><circle cx="478.6" cy="284.4" r="1.2"/><circle cx="479.7" cy="343.3" r="1.2"/><circle cx="479.5" cy="381.5" r="1.2"/><circle cx="476.7" cy="373.5" r="1.2"/></g><g fill="#e74c3c" fill-opacity="0.78" stroke="#fff" stroke-width="0.3" stroke-opacity="0.7"><circle cx="514.2" cy="117.4" r="1.2"/><circle cx="512.6" cy="350.3" r="1.2"/><circle cx="514.4" cy="347.1" r="1.2"/><circle cx="510.8" cy="197.6" r="1.2"/><circle cx="514.5" cy="284.9" r="1.2"/><circle cx="513.8" cy="208.8" r="1.2"/><circle cx="515.2" cy="347.2" r="1.2"/><circle cx="514.4" cy="152.5" r="1.2"/><circle cx="514.6" cy="338.0" r="1.2"/><circle cx="515.9" cy="325.4" r="1.2"/><circle cx="512.2" cy="222.6" r="1.2"/><circle cx="516.0" cy="317.0" r="1.2"/><circle cx="514.6" cy="273.9" r="1.2"/><circle cx="515.5" cy="312.9" r="1.2"/><circle cx="513.2" cy="287.1" r="1.2"/><circle cx="510.7" cy="340.4" r="1.2"/><circle cx="517.4" cy="292.2" r="1.2"/><circle cx="516.6" cy="329.8" r="1.2"/><circle cx="517.8" cy="306.8" r="1.2"/><circle cx="513.8" cy="275.1" r="1.2"/><circle cx="517.1" cy="346.3" r="1.2"/><circle cx="517.0" cy="192.4" r="1.2"/><circle cx="514.4" cy="339.7" r="1.2"/><circle cx="517.2" cy="348.0" r="1.2"/><circle cx="516.5" cy="333.5" r="1.2"/><circle cx="510.8" cy="310.3" r="1.2"/><circle cx="511.1" cy="311.5" r="1.2"/><circle cx="513.3" cy="341.9" r="1.2"/><circle cx="514.3" cy="288.4" r="1.2"/><circle cx="515.2" cy="331.0" r="1.2"/><circle cx="514.5" cy="326.1" r="1.2"/><circle cx="517.0" cy="334.4" r="1.2"/><circle cx="516.4" cy="289.6" r="1.2"/><circle cx="510.8" cy="314.4" r="1.2"/><circle cx="512.7" cy="171.0" r="1.2"/><circle cx="517.1" cy="166.5" r="1.2"/><circle cx="516.0" cy="174.3" r="1.2"/><circle cx="510.1" cy="322.3" r="1.2"/><circle cx="514.3" cy="253.7" r="1.2"/><circle cx="511.0" cy="339.7" r="1.2"/><circle cx="514.0" cy="168.1" r="1.2"/><circle cx="518.0" cy="187.8" r="1.2"/><circle cx="510.6" cy="332.2" r="1.2"/><circle cx="516.6" cy="285.9" r="1.2"/><circle cx="513.9" cy="197.4" r="1.2"/><circle cx="517.8" cy="326.7" r="1.2"/><circle cx="516.9" cy="200.2" r="1.2"/><circle cx="510.5" cy="347.1" r="1.2"/><circle cx="515.1" cy="208.6" r="1.2"/><circle cx="516.9" cy="334.4" r="1.2"/><circle cx="512.2" cy="295.3" r="1.2"/><circle cx="515.6" cy="342.7" r="1.2"/><circle cx="512.0" cy="213.2" r="1.2"/><circle cx="511.6" cy="341.5" r="1.2"/><circle cx="512.7" cy="214.6" r="1.2"/><circle cx="512.3" cy="290.8" r="1.2"/><circle cx="517.7" cy="312.4" r="1.2"/><circle cx="511.9" cy="304.5" r="1.2"/><circle cx="513.4" cy="316.1" r="1.2"/><circle cx="513.9" cy="318.5" r="1.2"/><circle cx="515.5" cy="207.1" r="1.2"/><circle cx="516.9" cy="148.8" r="1.2"/><circle cx="514.9" cy="321.1" r="1.2"/><circle cx="516.9" cy="309.3" r="1.2"/><circle cx="511.1" cy="305.4" r="1.2"/><circle cx="515.3" cy="297.4" r="1.2"/><circle cx="511.4" cy="341.9" r="1.2"/><circle cx="517.0" cy="213.3" r="1.2"/><circle cx="514.8" cy="340.1" r="1.2"/><circle cx="511.1" cy="186.9" r="1.2"/><circle cx="516.8" cy="318.4" r="1.2"/><circle cx="514.2" cy="343.4" r="1.2"/><circle cx="513.9" cy="184.1" r="1.2"/><circle cx="510.6" cy="325.6" r="1.2"/><circle cx="517.3" cy="208.2" r="1.2"/><circle cx="514.1" cy="163.5" r="1.2"/><circle cx="516.9" cy="288.1" r="1.2"/><circle cx="510.6" cy="318.8" r="1.2"/><circle cx="515.4" cy="210.4" r="1.2"/><circle cx="513.0" cy="344.4" r="1.2"/><circle cx="514.2" cy="137.4" r="1.2"/><circle cx="515.0" cy="207.1" r="1.2"/><circle cx="515.2" cy="227.6" r="1.2"/><circle cx="516.0" cy="274.5" r="1.2"/><circle cx="511.3" cy="213.9" r="1.2"/><circle cx="516.5" cy="154.1" r="1.2"/><circle cx="510.9" cy="195.3" r="1.2"/><circle cx="510.1" cy="205.8" r="1.2"/><circle cx="512.4" cy="316.3" r="1.2"/><circle cx="512.7" cy="276.8" r="1.2"/><circle cx="516.2" cy="321.0" r="1.2"/><circle cx="514.5" cy="289.9" r="1.2"/><circle cx="513.6" cy="227.0" r="1.2"/><circle cx="516.3" cy="185.0" r="1.2"/><circle cx="517.5" cy="199.0" r="1.2"/><circle cx="515.1" cy="338.9" r="1.2"/><circle cx="515.2" cy="291.8" r="1.2"/><circle cx="516.7" cy="217.1" r="1.2"/><circle cx="512.3" cy="197.0" r="1.2"/><circle cx="518.0" cy="336.3" r="1.2"/><circle cx="511.4" cy="319.3" r="1.2"/><circle cx="510.4" cy="318.4" r="1.2"/><circle cx="516.6" cy="329.0" r="1.2"/><circle cx="511.4" cy="201.6" r="1.2"/><circle cx="512.7" cy="321.9" r="1.2"/><circle cx="514.1" cy="166.4" r="1.2"/><circle cx="510.9" cy="315.5" r="1.2"/><circle cx="513.5" cy="219.4" r="1.2"/><circle cx="512.8" cy="315.2" r="1.2"/><circle cx="510.7" cy="198.6" r="1.2"/><circle cx="514.2" cy="248.0" r="1.2"/><circle cx="513.6" cy="316.0" r="1.2"/><circle cx="511.3" cy="343.1" r="1.2"/><circle cx="515.1" cy="227.0" r="1.2"/><circle cx="513.3" cy="187.1" r="1.2"/><circle cx="510.2" cy="178.0" r="1.2"/><circle cx="517.0" cy="316.2" r="1.2"/><circle cx="513.3" cy="338.2" r="1.2"/><circle cx="511.2" cy="152.7" r="1.2"/><circle cx="513.3" cy="230.0" r="1.2"/><circle cx="512.0" cy="187.1" r="1.2"/><circle cx="510.4" cy="344.9" r="1.2"/><circle cx="512.6" cy="179.6" r="1.2"/><circle cx="511.4" cy="165.7" r="1.2"/><circle cx="511.7" cy="325.4" r="1.2"/><circle cx="515.4" cy="350.2" r="1.2"/><circle cx="511.3" cy="326.0" r="1.2"/><circle cx="510.2" cy="175.8" r="1.2"/><circle cx="511.4" cy="284.0" r="1.2"/><circle cx="512.4" cy="300.5" r="1.2"/><circle cx="511.3" cy="338.6" r="1.2"/><circle cx="514.8" cy="324.0" r="1.2"/><circle cx="517.0" cy="163.8" r="1.2"/><circle cx="516.6" cy="291.5" r="1.2"/><circle cx="513.8" cy="326.5" r="1.2"/><circle cx="516.3" cy="303.2" r="1.2"/><circle cx="516.3" cy="315.7" r="1.2"/><circle cx="515.1" cy="346.4" r="1.2"/><circle cx="516.4" cy="347.7" r="1.2"/><circle cx="513.0" cy="332.2" r="1.2"/><circle cx="516.0" cy="306.3" r="1.2"/><circle cx="514.2" cy="215.7" r="1.2"/><circle cx="515.9" cy="185.2" r="1.2"/><circle cx="515.9" cy="186.8" r="1.2"/><circle cx="510.5" cy="313.2" r="1.2"/><circle cx="516.7" cy="325.9" r="1.2"/><circle cx="510.3" cy="334.4" r="1.2"/><circle cx="513.4" cy="340.3" r="1.2"/><circle cx="514.7" cy="211.3" r="1.2"/><circle cx="515.5" cy="223.7" r="1.2"/><circle cx="510.5" cy="192.5" r="1.2"/><circle cx="515.4" cy="303.3" r="1.2"/><circle cx="512.8" cy="343.9" r="1.2"/><circle cx="510.3" cy="324.4" r="1.2"/><circle cx="512.7" cy="289.0" r="1.2"/><circle cx="515.1" cy="185.1" r="1.2"/><circle cx="510.7" cy="332.8" r="1.2"/><circle cx="516.8" cy="338.4" r="1.2"/><circle cx="510.3" cy="325.4" r="1.2"/><circle cx="511.9" cy="212.3" r="1.2"/><circle cx="512.7" cy="280.3" r="1.2"/><circle cx="510.5" cy="307.6" r="1.2"/><circle cx="517.4" cy="340.7" r="1.2"/><circle cx="517.7" cy="201.9" r="1.2"/><circle cx="517.2" cy="286.1" r="1.2"/><circle cx="511.7" cy="163.8" r="1.2"/><circle cx="515.7" cy="140.1" r="1.2"/><circle cx="512.7" cy="202.0" r="1.2"/><circle cx="512.3" cy="329.5" r="1.2"/><circle cx="515.5" cy="316.5" r="1.2"/><circle cx="510.7" cy="294.9" r="1.2"/><circle cx="510.0" cy="284.3" r="1.2"/><circle cx="517.4" cy="206.5" r="1.2"/><circle cx="512.8" cy="325.2" r="1.2"/><circle cx="516.4" cy="296.4" r="1.2"/><circle cx="513.4" cy="166.1" r="1.2"/><circle cx="510.7" cy="311.9" r="1.2"/><circle cx="513.8" cy="349.5" r="1.2"/><circle cx="511.4" cy="166.7" r="1.2"/><circle cx="510.6" cy="349.9" r="1.2"/><circle cx="510.2" cy="172.6" r="1.2"/><circle cx="513.2" cy="215.7" r="1.2"/><circle cx="512.1" cy="347.4" r="1.2"/><circle cx="512.7" cy="346.9" r="1.2"/><circle cx="517.7" cy="190.2" r="1.2"/><circle cx="516.6" cy="320.8" r="1.2"/><circle cx="515.6" cy="310.5" r="1.2"/><circle cx="512.0" cy="282.0" r="1.2"/><circle cx="516.0" cy="327.0" r="1.2"/><circle cx="515.6" cy="312.6" r="1.2"/><circle cx="514.2" cy="198.3" r="1.2"/><circle cx="511.9" cy="296.7" r="1.2"/><circle cx="511.7" cy="319.8" r="1.2"/><circle cx="513.4" cy="311.4" r="1.2"/><circle cx="512.2" cy="303.2" r="1.2"/><circle cx="517.1" cy="322.5" r="1.2"/><circle cx="513.7" cy="180.1" r="1.2"/><circle cx="515.3" cy="159.7" r="1.2"/><circle cx="516.9" cy="157.2" r="1.2"/><circle cx="515.0" cy="311.3" r="1.2"/><circle cx="511.3" cy="288.6" r="1.2"/><circle cx="512.6" cy="332.1" r="1.2"/><circle cx="517.4" cy="346.9" r="1.2"/><circle cx="510.4" cy="175.3" r="1.2"/><circle cx="512.3" cy="277.3" r="1.2"/><circle cx="514.9" cy="286.1" r="1.2"/><circle cx="516.8" cy="303.6" r="1.2"/><circle cx="516.6" cy="339.8" r="1.2"/><circle cx="515.8" cy="309.2" r="1.2"/><circle cx="515.6" cy="215.1" r="1.2"/></g><g fill="#469cde" fill-opacity="0.78" stroke="#fff" stroke-width="0.3" stroke-opacity="0.7"><circle cx="607.2" cy="172.1" r="1.2"/><circle cx="604.9" cy="388.8" r="1.2"/><circle cx="606.4" cy="351.7" r="1.2"/><circle cx="606.5" cy="214.3" r="1.2"/><circle cx="604.2" cy="365.9" r="1.2"/><circle cx="604.6" cy="224.8" r="1.2"/><circle cx="605.8" cy="204.0" r="1.2"/><circle cx="604.7" cy="388.6" r="1.2"/><circle cx="605.0" cy="230.8" r="1.2"/><circle cx="604.0" cy="346.2" r="1.2"/><circle cx="606.8" cy="212.1" r="1.2"/><circle cx="609.8" cy="384.8" r="1.2"/><circle cx="608.8" cy="201.5" r="1.2"/><circle cx="608.6" cy="356.4" r="1.2"/><circle cx="607.5" cy="369.7" r="1.2"/><circle cx="605.3" cy="252.2" r="1.2"/><circle cx="605.5" cy="197.1" r="1.2"/><circle cx="605.5" cy="207.0" r="1.2"/><circle cx="611.4" cy="212.0" r="1.2"/><circle cx="610.3" cy="362.2" r="1.2"/><circle cx="608.4" cy="339.3" r="1.2"/><circle cx="608.7" cy="374.6" r="1.2"/><circle cx="609.8" cy="351.3" r="1.2"/><circle cx="610.4" cy="347.5" r="1.2"/><circle cx="605.7" cy="236.5" r="1.2"/><circle cx="610.2" cy="240.1" r="1.2"/><circle cx="609.0" cy="384.5" r="1.2"/><circle cx="606.0" cy="380.8" r="1.2"/><circle cx="606.2" cy="278.1" r="1.2"/><circle cx="605.2" cy="365.6" r="1.2"/><circle cx="608.2" cy="359.3" r="1.2"/><circle cx="611.5" cy="249.1" r="1.2"/><circle cx="610.1" cy="236.2" r="1.2"/><circle cx="605.1" cy="361.7" r="1.2"/><circle cx="604.8" cy="382.1" r="1.2"/><circle cx="606.1" cy="385.3" r="1.2"/><circle cx="605.1" cy="262.5" r="1.2"/><circle cx="604.9" cy="212.9" r="1.2"/><circle cx="609.7" cy="256.0" r="1.2"/><circle cx="606.3" cy="213.7" r="1.2"/><circle cx="608.3" cy="386.0" r="1.2"/><circle cx="606.3" cy="254.0" r="1.2"/><circle cx="611.7" cy="370.1" r="1.2"/><circle cx="608.5" cy="243.9" r="1.2"/><circle cx="604.9" cy="381.8" r="1.2"/><circle cx="608.6" cy="294.3" r="1.2"/><circle cx="606.1" cy="368.9" r="1.2"/><circle cx="607.4" cy="348.0" r="1.2"/><circle cx="606.1" cy="363.2" r="1.2"/><circle cx="607.7" cy="214.3" r="1.2"/><circle cx="606.3" cy="217.1" r="1.2"/><circle cx="606.4" cy="262.5" r="1.2"/><circle cx="605.1" cy="372.8" r="1.2"/><circle cx="611.5" cy="375.9" r="1.2"/><circle cx="605.5" cy="358.4" r="1.2"/><circle cx="606.1" cy="348.0" r="1.2"/><circle cx="607.1" cy="209.6" r="1.2"/><circle cx="604.7" cy="377.9" r="1.2"/><circle cx="605.6" cy="353.9" r="1.2"/><circle cx="607.1" cy="349.7" r="1.2"/><circle cx="608.5" cy="369.6" r="1.2"/><circle cx="608.1" cy="242.2" r="1.2"/><circle cx="606.7" cy="350.1" r="1.2"/><circle cx="609.2" cy="356.0" r="1.2"/><circle cx="609.8" cy="362.3" r="1.2"/><circle cx="605.9" cy="218.4" r="1.2"/><circle cx="605.7" cy="360.0" r="1.2"/><circle cx="608.8" cy="375.3" r="1.2"/><circle cx="607.1" cy="350.9" r="1.2"/><circle cx="610.4" cy="231.2" r="1.2"/><circle cx="603.9" cy="376.9" r="1.2"/><circle cx="608.1" cy="219.7" r="1.2"/><circle cx="606.6" cy="241.2" r="1.2"/><circle cx="605.5" cy="370.7" r="1.2"/><circle cx="610.7" cy="346.9" r="1.2"/><circle cx="605.5" cy="258.8" r="1.2"/><circle cx="610.1" cy="366.3" r="1.2"/><circle cx="610.6" cy="352.7" r="1.2"/><circle cx="611.5" cy="222.5" r="1.2"/><circle cx="604.7" cy="241.5" r="1.2"/><circle cx="605.0" cy="366.9" r="1.2"/><circle cx="604.5" cy="367.0" r="1.2"/><circle cx="606.4" cy="214.6" r="1.2"/><circle cx="611.1" cy="337.8" r="1.2"/><circle cx="608.9" cy="358.6" r="1.2"/><circle cx="605.0" cy="257.0" r="1.2"/><circle cx="604.6" cy="212.3" r="1.2"/><circle cx="609.8" cy="273.8" r="1.2"/><circle cx="608.8" cy="378.7" r="1.2"/><circle cx="603.8" cy="360.1" r="1.2"/><circle cx="608.5" cy="238.4" r="1.2"/><circle cx="605.3" cy="369.8" r="1.2"/><circle cx="606.1" cy="354.6" r="1.2"/><circle cx="604.6" cy="251.2" r="1.2"/><circle cx="611.7" cy="247.6" r="1.2"/><circle cx="607.5" cy="232.4" r="1.2"/><circle cx="608.7" cy="271.3" r="1.2"/><circle cx="605.4" cy="263.0" r="1.2"/><circle cx="606.8" cy="250.4" r="1.2"/><circle cx="609.0" cy="372.5" r="1.2"/><circle cx="609.8" cy="362.7" r="1.2"/><circle cx="608.7" cy="300.9" r="1.2"/><circle cx="605.8" cy="382.1" r="1.2"/><circle cx="605.7" cy="355.2" r="1.2"/><circle cx="607.0" cy="380.7" r="1.2"/><circle cx="606.3" cy="368.1" r="1.2"/><circle cx="610.4" cy="351.5" r="1.2"/><circle cx="606.8" cy="356.9" r="1.2"/><circle cx="606.8" cy="363.9" r="1.2"/><circle cx="607.8" cy="362.4" r="1.2"/><circle cx="608.3" cy="372.4" r="1.2"/><circle cx="606.6" cy="259.5" r="1.2"/><circle cx="603.9" cy="263.6" r="1.2"/><circle cx="609.7" cy="244.0" r="1.2"/><circle cx="604.7" cy="377.3" r="1.2"/><circle cx="610.6" cy="375.4" r="1.2"/><circle cx="605.9" cy="279.0" r="1.2"/><circle cx="605.8" cy="270.6" r="1.2"/><circle cx="608.1" cy="225.0" r="1.2"/><circle cx="611.1" cy="383.9" r="1.2"/><circle cx="606.8" cy="355.0" r="1.2"/><circle cx="607.6" cy="382.3" r="1.2"/><circle cx="607.1" cy="351.3" r="1.2"/><circle cx="604.7" cy="335.6" r="1.2"/><circle cx="606.1" cy="361.7" r="1.2"/><circle cx="611.1" cy="373.7" r="1.2"/><circle cx="611.3" cy="369.9" r="1.2"/><circle cx="605.8" cy="260.6" r="1.2"/><circle cx="611.1" cy="332.2" r="1.2"/><circle cx="603.9" cy="379.9" r="1.2"/><circle cx="609.5" cy="331.9" r="1.2"/><circle cx="604.0" cy="366.2" r="1.2"/><circle cx="607.2" cy="338.5" r="1.2"/><circle cx="607.1" cy="368.8" r="1.2"/><circle cx="607.3" cy="213.4" r="1.2"/><circle cx="609.3" cy="186.5" r="1.2"/><circle cx="606.6" cy="217.7" r="1.2"/><circle cx="604.1" cy="277.7" r="1.2"/><circle cx="604.7" cy="264.3" r="1.2"/><circle cx="609.8" cy="381.7" r="1.2"/><circle cx="605.2" cy="388.0" r="1.2"/><circle cx="604.3" cy="225.3" r="1.2"/><circle cx="605.4" cy="368.9" r="1.2"/><circle cx="611.6" cy="333.5" r="1.2"/><circle cx="607.4" cy="369.5" r="1.2"/><circle cx="605.0" cy="264.6" r="1.2"/><circle cx="609.1" cy="363.7" r="1.2"/><circle cx="607.2" cy="193.4" r="1.2"/><circle cx="608.1" cy="285.2" r="1.2"/><circle cx="611.8" cy="258.3" r="1.2"/><circle cx="609.4" cy="244.8" r="1.2"/><circle cx="608.1" cy="252.9" r="1.2"/><circle cx="611.8" cy="274.2" r="1.2"/><circle cx="607.8" cy="319.5" r="1.2"/><circle cx="607.4" cy="338.6" r="1.2"/><circle cx="610.6" cy="360.5" r="1.2"/><circle cx="611.5" cy="368.3" r="1.2"/><circle cx="609.6" cy="382.0" r="1.2"/><circle cx="606.7" cy="354.7" r="1.2"/><circle cx="607.0" cy="245.6" r="1.2"/><circle cx="603.9" cy="345.9" r="1.2"/><circle cx="605.8" cy="278.3" r="1.2"/><circle cx="610.0" cy="242.0" r="1.2"/><circle cx="607.7" cy="258.2" r="1.2"/><circle cx="610.7" cy="241.0" r="1.2"/><circle cx="609.2" cy="340.9" r="1.2"/><circle cx="608.3" cy="213.0" r="1.2"/><circle cx="610.2" cy="341.6" r="1.2"/><circle cx="607.8" cy="272.7" r="1.2"/><circle cx="608.6" cy="195.9" r="1.2"/><circle cx="607.7" cy="248.8" r="1.2"/><circle cx="606.6" cy="383.3" r="1.2"/><circle cx="609.9" cy="345.9" r="1.2"/><circle cx="604.4" cy="212.7" r="1.2"/><circle cx="611.6" cy="345.7" r="1.2"/><circle cx="611.5" cy="357.9" r="1.2"/><circle cx="610.4" cy="225.4" r="1.2"/><circle cx="607.5" cy="270.9" r="1.2"/><circle cx="607.4" cy="238.5" r="1.2"/><circle cx="607.0" cy="341.5" r="1.2"/><circle cx="607.5" cy="367.9" r="1.2"/><circle cx="605.6" cy="242.8" r="1.2"/><circle cx="610.2" cy="226.2" r="1.2"/><circle cx="610.8" cy="226.1" r="1.2"/><circle cx="607.8" cy="349.6" r="1.2"/><circle cx="610.6" cy="213.6" r="1.2"/><circle cx="606.1" cy="338.9" r="1.2"/><circle cx="610.7" cy="366.9" r="1.2"/><circle cx="611.6" cy="363.2" r="1.2"/><circle cx="609.2" cy="354.8" r="1.2"/><circle cx="610.4" cy="199.1" r="1.2"/><circle cx="609.6" cy="276.8" r="1.2"/><circle cx="609.3" cy="243.4" r="1.2"/><circle cx="607.6" cy="336.0" r="1.2"/><circle cx="604.3" cy="228.2" r="1.2"/><circle cx="604.8" cy="225.4" r="1.2"/><circle cx="610.4" cy="380.7" r="1.2"/><circle cx="605.3" cy="373.1" r="1.2"/><circle cx="609.3" cy="218.9" r="1.2"/><circle cx="605.1" cy="368.4" r="1.2"/><circle cx="609.8" cy="213.0" r="1.2"/><circle cx="611.4" cy="259.3" r="1.2"/><circle cx="608.7" cy="387.3" r="1.2"/><circle cx="604.1" cy="379.4" r="1.2"/><circle cx="609.3" cy="285.1" r="1.2"/><circle cx="607.6" cy="357.7" r="1.2"/><circle cx="610.7" cy="267.1" r="1.2"/><circle cx="605.0" cy="370.2" r="1.2"/><circle cx="606.0" cy="255.5" r="1.2"/><circle cx="611.2" cy="237.3" r="1.2"/><circle cx="610.5" cy="227.0" r="1.2"/><circle cx="611.1" cy="351.2" r="1.2"/><circle cx="608.0" cy="343.4" r="1.2"/><circle cx="609.2" cy="375.3" r="1.2"/><circle cx="611.3" cy="227.4" r="1.2"/><circle cx="609.1" cy="366.4" r="1.2"/><circle cx="604.5" cy="379.8" r="1.2"/><circle cx="605.0" cy="361.5" r="1.2"/><circle cx="603.8" cy="222.0" r="1.2"/><circle cx="604.7" cy="228.5" r="1.2"/><circle cx="604.0" cy="217.1" r="1.2"/><circle cx="606.9" cy="258.5" r="1.2"/><circle cx="608.7" cy="362.6" r="1.2"/><circle cx="610.7" cy="227.1" r="1.2"/><circle cx="607.1" cy="280.6" r="1.2"/><circle cx="605.2" cy="208.6" r="1.2"/><circle cx="611.1" cy="355.6" r="1.2"/><circle cx="611.1" cy="219.1" r="1.2"/><circle cx="611.6" cy="365.4" r="1.2"/><circle cx="604.0" cy="349.4" r="1.2"/><circle cx="608.5" cy="234.6" r="1.2"/><circle cx="608.8" cy="357.4" r="1.2"/><circle cx="608.1" cy="261.1" r="1.2"/><circle cx="605.3" cy="338.3" r="1.2"/><circle cx="611.2" cy="343.3" r="1.2"/><circle cx="608.1" cy="248.1" r="1.2"/><circle cx="604.1" cy="273.8" r="1.2"/><circle cx="606.6" cy="364.9" r="1.2"/><circle cx="609.6" cy="371.6" r="1.2"/><circle cx="605.4" cy="370.2" r="1.2"/><circle cx="610.0" cy="344.6" r="1.2"/><circle cx="605.5" cy="372.3" r="1.2"/><circle cx="607.3" cy="226.3" r="1.2"/><circle cx="606.1" cy="385.3" r="1.2"/><circle cx="604.9" cy="208.7" r="1.2"/><circle cx="610.9" cy="374.9" r="1.2"/><circle cx="606.5" cy="365.3" r="1.2"/><circle cx="609.8" cy="268.5" r="1.2"/><circle cx="610.9" cy="365.2" r="1.2"/><circle cx="606.1" cy="381.5" r="1.2"/><circle cx="603.8" cy="230.3" r="1.2"/><circle cx="608.0" cy="352.9" r="1.2"/><circle cx="606.6" cy="193.2" r="1.2"/><circle cx="610.8" cy="354.3" r="1.2"/><circle cx="605.1" cy="212.1" r="1.2"/><circle cx="609.6" cy="354.6" r="1.2"/><circle cx="604.5" cy="204.6" r="1.2"/><circle cx="606.0" cy="271.1" r="1.2"/><circle cx="605.4" cy="371.8" r="1.2"/><circle cx="610.6" cy="253.9" r="1.2"/><circle cx="608.6" cy="383.0" r="1.2"/><circle cx="608.8" cy="286.2" r="1.2"/><circle cx="604.5" cy="233.2" r="1.2"/><circle cx="606.3" cy="378.9" r="1.2"/><circle cx="610.9" cy="228.8" r="1.2"/><circle cx="608.7" cy="347.5" r="1.2"/><circle cx="609.9" cy="379.6" r="1.2"/><circle cx="607.8" cy="379.4" r="1.2"/><circle cx="605.4" cy="343.1" r="1.2"/><circle cx="611.1" cy="238.2" r="1.2"/><circle cx="606.4" cy="327.8" r="1.2"/><circle cx="605.2" cy="251.5" r="1.2"/><circle cx="609.0" cy="255.2" r="1.2"/><circle cx="604.5" cy="255.7" r="1.2"/><circle cx="609.9" cy="236.5" r="1.2"/><circle cx="609.4" cy="207.3" r="1.2"/><circle cx="606.9" cy="361.9" r="1.2"/><circle cx="607.9" cy="200.0" r="1.2"/><circle cx="607.7" cy="345.2" r="1.2"/><circle cx="604.4" cy="264.3" r="1.2"/><circle cx="604.4" cy="353.0" r="1.2"/><circle cx="606.6" cy="346.0" r="1.2"/><circle cx="605.3" cy="288.6" r="1.2"/><circle cx="605.3" cy="364.1" r="1.2"/><circle cx="606.7" cy="345.1" r="1.2"/><circle cx="608.8" cy="374.8" r="1.2"/><circle cx="607.9" cy="346.6" r="1.2"/><circle cx="605.2" cy="372.7" r="1.2"/><circle cx="609.9" cy="371.6" r="1.2"/><circle cx="610.2" cy="358.1" r="1.2"/><circle cx="609.1" cy="257.7" r="1.2"/><circle cx="608.4" cy="292.3" r="1.2"/><circle cx="605.8" cy="215.5" r="1.2"/><circle cx="610.5" cy="359.7" r="1.2"/><circle cx="608.5" cy="352.6" r="1.2"/><circle cx="605.2" cy="367.6" r="1.2"/><circle cx="609.3" cy="216.5" r="1.2"/><circle cx="608.8" cy="224.3" r="1.2"/><circle cx="608.3" cy="352.6" r="1.2"/><circle cx="607.6" cy="360.3" r="1.2"/></g><g fill="#e74c3c" fill-opacity="0.78" stroke="#fff" stroke-width="0.3" stroke-opacity="0.7"><circle cx="643.9" cy="95.2" r="1.2"/><circle cx="647.3" cy="352.6" r="1.2"/><circle cx="646.3" cy="297.5" r="1.2"/><circle cx="640.7" cy="147.5" r="1.2"/><circle cx="642.3" cy="178.0" r="1.2"/><circle cx="643.8" cy="347.9" r="1.2"/><circle cx="645.6" cy="209.5" r="1.2"/><circle cx="639.9" cy="303.7" r="1.2"/><circle cx="646.8" cy="160.2" r="1.2"/><circle cx="646.6" cy="294.7" r="1.2"/><circle cx="647.5" cy="300.4" r="1.2"/><circle cx="641.5" cy="318.9" r="1.2"/><circle cx="641.6" cy="346.1" r="1.2"/><circle cx="645.8" cy="224.5" r="1.2"/><circle cx="644.0" cy="192.0" r="1.2"/><circle cx="641.9" cy="165.4" r="1.2"/><circle cx="640.0" cy="195.9" r="1.2"/><circle cx="642.0" cy="220.2" r="1.2"/><circle cx="645.3" cy="345.2" r="1.2"/><circle cx="645.2" cy="279.9" r="1.2"/><circle cx="642.7" cy="308.9" r="1.2"/><circle cx="647.2" cy="315.7" r="1.2"/><circle cx="643.9" cy="132.7" r="1.2"/><circle cx="644.0" cy="178.2" r="1.2"/><circle cx="643.1" cy="288.4" r="1.2"/><circle cx="643.1" cy="145.3" r="1.2"/><circle cx="642.8" cy="163.7" r="1.2"/><circle cx="646.5" cy="317.9" r="1.2"/><circle cx="643.4" cy="308.8" r="1.2"/><circle cx="641.8" cy="161.5" r="1.2"/><circle cx="643.4" cy="157.7" r="1.2"/><circle cx="647.3" cy="328.2" r="1.2"/><circle cx="644.4" cy="232.9" r="1.2"/><circle cx="640.7" cy="192.6" r="1.2"/><circle cx="643.3" cy="314.1" r="1.2"/><circle cx="643.6" cy="308.1" r="1.2"/><circle cx="640.0" cy="351.2" r="1.2"/><circle cx="647.6" cy="154.9" r="1.2"/><circle cx="647.2" cy="319.7" r="1.2"/><circle cx="641.8" cy="226.1" r="1.2"/><circle cx="644.3" cy="180.8" r="1.2"/><circle cx="643.2" cy="273.3" r="1.2"/><circle cx="642.2" cy="135.5" r="1.2"/><circle cx="642.1" cy="158.9" r="1.2"/><circle cx="640.3" cy="155.9" r="1.2"/><circle cx="645.4" cy="310.9" r="1.2"/><circle cx="642.8" cy="312.8" r="1.2"/><circle cx="645.5" cy="180.0" r="1.2"/><circle cx="646.4" cy="191.0" r="1.2"/><circle cx="644.5" cy="320.1" r="1.2"/><circle cx="642.6" cy="206.3" r="1.2"/><circle cx="641.0" cy="198.5" r="1.2"/><circle cx="645.1" cy="342.1" r="1.2"/><circle cx="645.3" cy="289.4" r="1.2"/><circle cx="646.1" cy="287.9" r="1.2"/><circle cx="641.0" cy="300.7" r="1.2"/><circle cx="640.3" cy="141.5" r="1.2"/><circle cx="646.9" cy="208.8" r="1.2"/><circle cx="644.8" cy="321.9" r="1.2"/><circle cx="640.7" cy="306.0" r="1.2"/><circle cx="645.6" cy="334.1" r="1.2"/><circle cx="640.4" cy="191.6" r="1.2"/><circle cx="644.3" cy="235.8" r="1.2"/><circle cx="644.3" cy="178.5" r="1.2"/><circle cx="645.6" cy="169.9" r="1.2"/><circle cx="640.7" cy="152.5" r="1.2"/><circle cx="647.2" cy="172.3" r="1.2"/><circle cx="647.4" cy="166.1" r="1.2"/><circle cx="647.3" cy="218.9" r="1.2"/><circle cx="646.0" cy="211.5" r="1.2"/><circle cx="642.4" cy="319.2" r="1.2"/><circle cx="647.7" cy="320.7" r="1.2"/><circle cx="644.8" cy="288.5" r="1.2"/><circle cx="645.6" cy="306.6" r="1.2"/><circle cx="644.6" cy="230.2" r="1.2"/><circle cx="641.6" cy="191.5" r="1.2"/><circle cx="645.5" cy="276.4" r="1.2"/><circle cx="645.1" cy="303.4" r="1.2"/><circle cx="641.7" cy="343.6" r="1.2"/><circle cx="642.9" cy="325.1" r="1.2"/><circle cx="641.0" cy="147.4" r="1.2"/><circle cx="643.4" cy="304.6" r="1.2"/><circle cx="647.8" cy="152.4" r="1.2"/><circle cx="643.0" cy="302.2" r="1.2"/><circle cx="643.1" cy="329.0" r="1.2"/><circle cx="646.3" cy="311.7" r="1.2"/><circle cx="640.6" cy="158.0" r="1.2"/><circle cx="640.9" cy="214.7" r="1.2"/><circle cx="645.9" cy="171.6" r="1.2"/><circle cx="640.9" cy="307.1" r="1.2"/><circle cx="644.8" cy="313.1" r="1.2"/><circle cx="646.4" cy="316.1" r="1.2"/><circle cx="644.4" cy="200.0" r="1.2"/><circle cx="640.5" cy="298.9" r="1.2"/><circle cx="641.6" cy="173.9" r="1.2"/><circle cx="644.2" cy="339.7" r="1.2"/><circle cx="647.5" cy="341.0" r="1.2"/><circle cx="645.0" cy="138.6" r="1.2"/><circle cx="645.5" cy="293.3" r="1.2"/><circle cx="644.7" cy="313.9" r="1.2"/><circle cx="642.5" cy="177.8" r="1.2"/><circle cx="644.7" cy="139.4" r="1.2"/><circle cx="642.6" cy="122.2" r="1.2"/><circle cx="643.2" cy="312.6" r="1.2"/><circle cx="645.2" cy="131.9" r="1.2"/><circle cx="641.5" cy="206.0" r="1.2"/><circle cx="645.1" cy="323.0" r="1.2"/><circle cx="645.7" cy="144.2" r="1.2"/><circle cx="641.2" cy="312.6" r="1.2"/><circle cx="646.6" cy="216.6" r="1.2"/><circle cx="641.9" cy="206.7" r="1.2"/><circle cx="645.0" cy="248.8" r="1.2"/><circle cx="642.7" cy="199.2" r="1.2"/><circle cx="644.8" cy="330.5" r="1.2"/><circle cx="647.5" cy="308.3" r="1.2"/><circle cx="646.5" cy="206.3" r="1.2"/><circle cx="643.8" cy="158.1" r="1.2"/><circle cx="642.5" cy="276.8" r="1.2"/><circle cx="644.8" cy="352.4" r="1.2"/><circle cx="644.6" cy="334.3" r="1.2"/><circle cx="640.4" cy="147.7" r="1.2"/><circle cx="643.0" cy="200.0" r="1.2"/><circle cx="645.6" cy="230.9" r="1.2"/><circle cx="644.1" cy="210.2" r="1.2"/><circle cx="641.3" cy="156.5" r="1.2"/><circle cx="645.1" cy="170.1" r="1.2"/><circle cx="643.5" cy="287.1" r="1.2"/><circle cx="647.2" cy="314.3" r="1.2"/><circle cx="643.8" cy="313.7" r="1.2"/><circle cx="640.1" cy="308.5" r="1.2"/><circle cx="641.2" cy="308.7" r="1.2"/><circle cx="642.8" cy="129.5" r="1.2"/><circle cx="647.5" cy="175.6" r="1.2"/><circle cx="642.8" cy="196.3" r="1.2"/><circle cx="642.7" cy="182.2" r="1.2"/><circle cx="647.7" cy="206.4" r="1.2"/><circle cx="641.5" cy="208.8" r="1.2"/><circle cx="644.9" cy="196.9" r="1.2"/><circle cx="645.6" cy="130.8" r="1.2"/><circle cx="647.2" cy="330.9" r="1.2"/><circle cx="641.2" cy="343.9" r="1.2"/><circle cx="643.7" cy="301.4" r="1.2"/><circle cx="641.9" cy="185.0" r="1.2"/><circle cx="645.1" cy="222.5" r="1.2"/><circle cx="641.9" cy="337.1" r="1.2"/><circle cx="641.3" cy="299.1" r="1.2"/><circle cx="642.1" cy="311.5" r="1.2"/><circle cx="640.9" cy="311.8" r="1.2"/><circle cx="645.6" cy="348.3" r="1.2"/><circle cx="642.1" cy="306.4" r="1.2"/><circle cx="643.1" cy="155.8" r="1.2"/><circle cx="642.8" cy="277.4" r="1.2"/><circle cx="642.9" cy="338.5" r="1.2"/><circle cx="642.3" cy="159.8" r="1.2"/><circle cx="642.7" cy="143.9" r="1.2"/><circle cx="645.6" cy="143.7" r="1.2"/><circle cx="641.3" cy="148.1" r="1.2"/><circle cx="645.4" cy="166.1" r="1.2"/><circle cx="642.7" cy="319.9" r="1.2"/><circle cx="640.6" cy="299.1" r="1.2"/><circle cx="640.9" cy="315.5" r="1.2"/><circle cx="647.1" cy="291.9" r="1.2"/><circle cx="640.2" cy="199.6" r="1.2"/><circle cx="642.1" cy="321.7" r="1.2"/><circle cx="646.8" cy="167.2" r="1.2"/><circle cx="640.5" cy="200.7" r="1.2"/><circle cx="641.6" cy="212.5" r="1.2"/><circle cx="642.1" cy="309.5" r="1.2"/><circle cx="646.6" cy="318.8" r="1.2"/><circle cx="640.8" cy="293.9" r="1.2"/><circle cx="647.5" cy="300.3" r="1.2"/><circle cx="640.9" cy="186.4" r="1.2"/><circle cx="644.4" cy="298.2" r="1.2"/><circle cx="646.1" cy="328.3" r="1.2"/><circle cx="644.3" cy="219.0" r="1.2"/><circle cx="644.0" cy="317.8" r="1.2"/><circle cx="643.6" cy="278.6" r="1.2"/><circle cx="642.5" cy="280.5" r="1.2"/><circle cx="647.8" cy="300.3" r="1.2"/><circle cx="643.1" cy="161.8" r="1.2"/><circle cx="645.0" cy="175.1" r="1.2"/><circle cx="644.6" cy="168.2" r="1.2"/><circle cx="647.6" cy="287.2" r="1.2"/><circle cx="641.9" cy="308.2" r="1.2"/><circle cx="641.1" cy="312.7" r="1.2"/><circle cx="647.1" cy="174.0" r="1.2"/><circle cx="644.0" cy="195.8" r="1.2"/><circle cx="645.0" cy="162.8" r="1.2"/><circle cx="644.9" cy="306.3" r="1.2"/><circle cx="646.2" cy="213.8" r="1.2"/><circle cx="646.6" cy="185.0" r="1.2"/><circle cx="645.5" cy="176.8" r="1.2"/><circle cx="639.9" cy="342.7" r="1.2"/><circle cx="644.8" cy="243.9" r="1.2"/><circle cx="640.2" cy="350.5" r="1.2"/><circle cx="646.8" cy="193.5" r="1.2"/><circle cx="639.9" cy="175.2" r="1.2"/><circle cx="646.1" cy="313.7" r="1.2"/><circle cx="645.0" cy="337.1" r="1.2"/><circle cx="640.1" cy="166.1" r="1.2"/><circle cx="645.9" cy="330.5" r="1.2"/><circle cx="644.5" cy="297.3" r="1.2"/><circle cx="640.9" cy="336.0" r="1.2"/><circle cx="646.9" cy="342.2" r="1.2"/><circle cx="644.6" cy="215.5" r="1.2"/><circle cx="643.6" cy="341.4" r="1.2"/><circle cx="647.5" cy="169.1" r="1.2"/><circle cx="641.9" cy="220.4" r="1.2"/><circle cx="641.7" cy="220.2" r="1.2"/><circle cx="647.0" cy="180.3" r="1.2"/><circle cx="643.1" cy="248.6" r="1.2"/><circle cx="646.4" cy="317.9" r="1.2"/><circle cx="641.6" cy="155.8" r="1.2"/><circle cx="644.7" cy="242.5" r="1.2"/><circle cx="643.2" cy="284.6" r="1.2"/><circle cx="644.8" cy="171.9" r="1.2"/><circle cx="644.8" cy="304.8" r="1.2"/><circle cx="643.1" cy="181.6" r="1.2"/><circle cx="644.0" cy="294.6" r="1.2"/><circle cx="645.1" cy="294.7" r="1.2"/><circle cx="641.0" cy="317.4" r="1.2"/><circle cx="647.2" cy="340.4" r="1.2"/><circle cx="646.5" cy="339.1" r="1.2"/><circle cx="642.6" cy="275.6" r="1.2"/><circle cx="641.7" cy="183.3" r="1.2"/><circle cx="643.1" cy="179.8" r="1.2"/><circle cx="646.1" cy="321.7" r="1.2"/><circle cx="644.0" cy="318.7" r="1.2"/><circle cx="642.4" cy="322.5" r="1.2"/><circle cx="646.0" cy="327.1" r="1.2"/><circle cx="641.5" cy="293.5" r="1.2"/><circle cx="645.6" cy="335.1" r="1.2"/><circle cx="645.9" cy="306.7" r="1.2"/><circle cx="640.7" cy="303.4" r="1.2"/><circle cx="644.5" cy="327.5" r="1.2"/><circle cx="644.7" cy="306.1" r="1.2"/><circle cx="647.7" cy="319.6" r="1.2"/><circle cx="642.3" cy="339.7" r="1.2"/><circle cx="643.6" cy="208.0" r="1.2"/><circle cx="647.4" cy="317.7" r="1.2"/><circle cx="640.9" cy="189.5" r="1.2"/><circle cx="644.8" cy="257.6" r="1.2"/><circle cx="642.8" cy="332.0" r="1.2"/><circle cx="642.6" cy="346.9" r="1.2"/><circle cx="647.9" cy="342.4" r="1.2"/><circle cx="643.0" cy="318.4" r="1.2"/><circle cx="641.9" cy="328.9" r="1.2"/><circle cx="641.6" cy="333.4" r="1.2"/><circle cx="645.5" cy="300.6" r="1.2"/><circle cx="645.0" cy="180.0" r="1.2"/><circle cx="642.5" cy="134.5" r="1.2"/><circle cx="643.9" cy="318.8" r="1.2"/><circle cx="642.2" cy="318.7" r="1.2"/><circle cx="646.6" cy="315.4" r="1.2"/><circle cx="642.8" cy="296.1" r="1.2"/><circle cx="644.8" cy="306.8" r="1.2"/><circle cx="647.2" cy="314.0" r="1.2"/><circle cx="641.9" cy="286.3" r="1.2"/><circle cx="647.5" cy="306.9" r="1.2"/><circle cx="643.8" cy="176.7" r="1.2"/><circle cx="645.0" cy="286.9" r="1.2"/><circle cx="642.1" cy="303.1" r="1.2"/><circle cx="645.5" cy="294.2" r="1.2"/><circle cx="645.7" cy="182.3" r="1.2"/><circle cx="644.6" cy="159.3" r="1.2"/><circle cx="646.8" cy="306.4" r="1.2"/><circle cx="643.7" cy="156.7" r="1.2"/><circle cx="640.0" cy="322.6" r="1.2"/><circle cx="647.2" cy="169.3" r="1.2"/><circle cx="644.4" cy="320.0" r="1.2"/><circle cx="644.8" cy="199.9" r="1.2"/><circle cx="644.7" cy="335.6" r="1.2"/><circle cx="640.2" cy="176.9" r="1.2"/><circle cx="642.2" cy="165.0" r="1.2"/><circle cx="640.6" cy="308.9" r="1.2"/><circle cx="645.1" cy="320.2" r="1.2"/><circle cx="646.7" cy="198.7" r="1.2"/><circle cx="644.5" cy="232.6" r="1.2"/><circle cx="646.4" cy="307.3" r="1.2"/><circle cx="642.6" cy="188.9" r="1.2"/><circle cx="640.2" cy="206.6" r="1.2"/><circle cx="643.2" cy="293.7" r="1.2"/><circle cx="641.3" cy="190.2" r="1.2"/><circle cx="642.3" cy="162.9" r="1.2"/><circle cx="641.8" cy="336.6" r="1.2"/><circle cx="641.3" cy="158.6" r="1.2"/><circle cx="645.4" cy="349.6" r="1.2"/><circle cx="644.7" cy="328.4" r="1.2"/><circle cx="646.0" cy="221.3" r="1.2"/><circle cx="647.8" cy="330.4" r="1.2"/><circle cx="641.8" cy="146.9" r="1.2"/><circle cx="647.4" cy="293.1" r="1.2"/><circle cx="646.0" cy="199.5" r="1.2"/><circle cx="644.4" cy="189.9" r="1.2"/><circle cx="647.7" cy="334.7" r="1.2"/><circle cx="644.0" cy="140.7" r="1.2"/><circle cx="640.1" cy="330.5" r="1.2"/><circle cx="640.9" cy="149.9" r="1.2"/><circle cx="642.4" cy="309.2" r="1.2"/><circle cx="645.5" cy="187.2" r="1.2"/></g><rect x="49.5" y="1.5" width="634" height="429.8" fill="none" stroke="#e0e0e0" stroke-width="1.3"/><g fill="#1e1e1e" stroke="#1e1e1e" stroke-width="0.3" stroke-opacity="0.7"><text x="43.0" y="381.80" text-anchor="end" font-size="14.5" fill="#222">0.1</text><text x="43.0" y="326.30" text-anchor="end" font-size="14.5" fill="#222">0.2</text><text x="43.0" y="270.80" text-anchor="end" font-size="14.5" fill="#222">0.3</text><text x="43.0" y="215.30" text-anchor="end" font-size="14.5" fill="#222">0.4</text><text x="43.0" y="159.80" text-anchor="end" font-size="14.5" fill="#222">0.5</text><text x="43.0" y="104.30" text-anchor="end" font-size="14.5" fill="#222">0.6</text><text x="43.0" y="48.80" text-anchor="end" font-size="14.5" fill="#222">0.7</text><text x="106.40" y="447.2" text-anchor="middle" font-size="14.5" fill="#222">ASS</text><text x="236.30" y="447.2" text-anchor="middle" font-size="14.5" fill="#222">SOAC</text><text x="366.20" y="447.2" text-anchor="middle" font-size="14.5" fill="#222">AT</text><text x="496.10" y="447.2" text-anchor="middle" font-size="14.5" fill="#222">CTASC</text><text x="626.00" y="447.2" text-anchor="middle" font-size="14.5" fill="#222">IMACHSTB</text><text transform="translate(11.8,216.2) rotate(-90)" text-anchor="middle" font-size="14.5" fill="#222">Climate Risk</text><circle cx="581.4" cy="20.1" r="3.6" fill="#469cde" stroke="none"/><circle cx="581.4" cy="41.0" r="3.6" fill="#e74c3c" stroke="none"/><text x="607.8" y="24.8" font-size="14.7" fill="#262626">SSP2-4.5</text><text x="607.8" y="45.6" font-size="14.7" fill="#262626">SSP5-8.5</text></g></svg></body></html>
